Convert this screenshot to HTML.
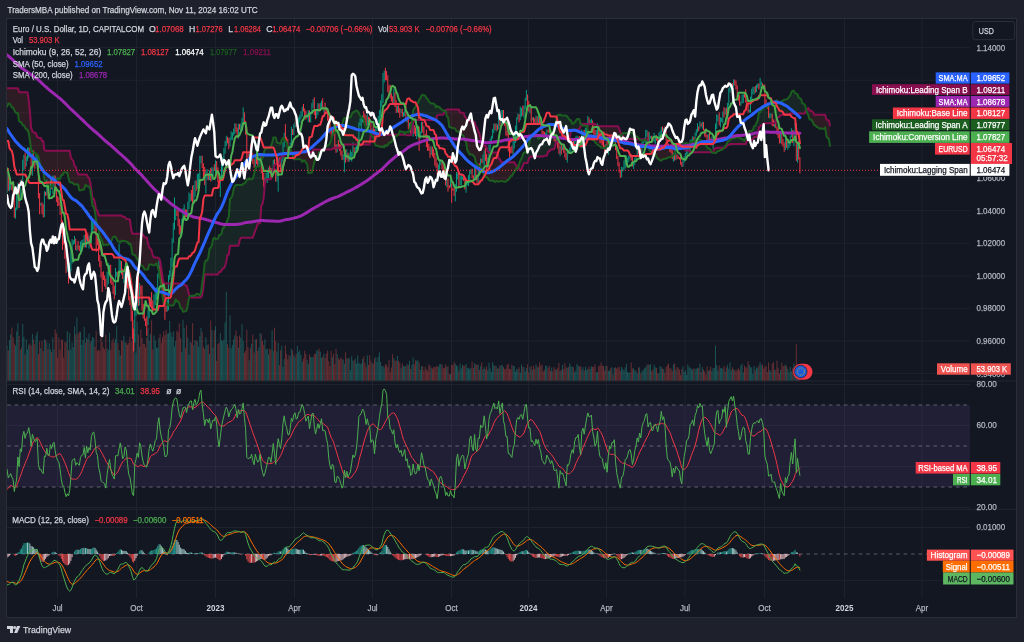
<!DOCTYPE html>
<html><head><meta charset="utf-8"><title>EURUSD chart</title>
<style>html,body{margin:0;padding:0;background:#1e212c;width:1024px;height:642px;overflow:hidden}svg{display:block}</style>
</head><body>
<svg width="1024" height="642" viewBox="0 0 1024 642" font-family='"Liberation Sans", sans-serif'><rect x="0" y="0" width="1024" height="642" fill="#1e212c"/>
<rect x="6.5" y="18.5" width="1010" height="599" fill="#131722" stroke="#2a2e39" stroke-width="1"/>
<path d="M57.5 19V598 M136.5 19V598 M215.5 19V598 M294.5 19V598 M372.5 19V598 M451.5 19V598 M528.5 19V598 M606.5 19V598 M685.0 19V598 M764.5 19V598 M844.5 19V598 M922.0 19V598 M7 47.60H970 M7 80.20H970 M7 112.80H970 M7 145.40H970 M7 178.00H970 M7 210.60H970 M7 243.20H970 M7 275.80H970 M7 308.40H970 M7 341.00H970 M7 373.60H970 M7 384.50H970 M7 425.50H970 M7 466.50H970 M7 507.50H970 M7 527.50H970 M7 580.50H970" stroke="#1e222d" stroke-width="1" fill="none"/>
<path d="M7 381H1016M7 509.3H1016" stroke="#22262f" stroke-width="1"/>
<rect x="7" y="405.0" width="963" height="82.0" fill="#7e57c2" fill-opacity="0.125"/>
<path d="M7.2 405.0H970M7.2 446.0H970M7.2 487.0H970" stroke="#787b86" stroke-opacity="0.75" stroke-dasharray="3.6 3.87" stroke-width="1"/>
<path d="M7.2 554.0H970" stroke="#787b86" stroke-opacity="0.7" stroke-dasharray="3.6 3.87" stroke-width="1"/>
<defs><clipPath id="cpm"><rect x="7" y="19" width="963" height="362"/></clipPath><clipPath id="cpr"><rect x="7" y="382" width="963" height="127"/></clipPath><clipPath id="cpc"><rect x="7" y="510" width="963" height="85"/></clipPath></defs>
<g clip-path="url(#cpm)">
<path d="M7.0 380.6V345.5M9.5 380.6V340.4M10.7 380.6V334.2M15.5 380.6V345.6M16.7 380.6V331.4M17.9 380.6V323.2M20.3 380.6V349.9M22.7 380.6V323.8M23.9 380.6V336.8M26.3 380.6V339.5M27.5 380.6V349.5M28.7 380.6V344.6M32.4 380.6V333.9M36.0 380.6V335.4M37.2 380.6V331.6M40.8 380.6V348.2M44.4 380.6V339.2M46.8 380.6V342.3M49.2 380.6V343.2M50.4 380.6V349.5M52.8 380.6V337.7M54.0 380.6V349.7M67.3 380.6V331.2M69.7 380.6V333.1M70.9 380.6V349.6M72.1 380.6V342.6M73.3 380.6V347.2M74.5 380.6V326.5M76.9 380.6V317.5M80.5 380.6V331.8M81.8 380.6V344.9M83.0 380.6V340.0M84.2 380.6V327.0M86.6 380.6V337.5M89.0 380.6V333.6M91.4 380.6V340.5M92.6 380.6V336.9M93.8 380.6V338.1M107.1 380.6V348.4M108.3 380.6V350.4M109.5 380.6V332.9M115.5 380.6V338.9M116.7 380.6V325.9M119.1 380.6V350.0M120.3 380.6V355.4M123.9 380.6V335.7M125.1 380.6V342.5M134.8 380.6V333.5M136.0 380.6V352.8M137.2 380.6V321.8M139.6 380.6V346.8M148.0 380.6V328.0M149.2 380.6V341.0M150.4 380.6V334.1M154.0 380.6V335.6M155.3 380.6V340.9M156.5 380.6V347.9M157.7 380.6V347.6M158.9 380.6V338.1M167.3 380.6V333.7M168.5 380.6V333.4M169.7 380.6V320.9M170.9 380.6V332.2M172.1 380.6V336.8M173.3 380.6V331.3M174.5 380.6V346.6M175.7 380.6V341.2M181.8 380.6V351.7M183.0 380.6V319.8M184.2 380.6V327.8M187.8 380.6V337.7M189.0 380.6V355.0M190.2 380.6V341.9M193.8 380.6V345.4M195.0 380.6V340.4M197.4 380.6V341.6M198.6 380.6V346.6M199.8 380.6V335.9M201.0 380.6V328.0M205.9 380.6V337.2M207.1 380.6V344.9M209.5 380.6V354.0M211.9 380.6V330.1M213.1 380.6V347.6M215.5 380.6V326.4M220.3 380.6V333.1M221.5 380.6V340.2M222.7 380.6V341.2M223.9 380.6V339.7M225.1 380.6V322.4M226.3 380.6V291.6M230.0 380.6V315.2M231.2 380.6V348.4M232.4 380.6V344.8M233.6 380.6V339.3M234.8 380.6V335.4M238.4 380.6V347.7M240.8 380.6V338.0M242.0 380.6V324.1M243.2 380.6V341.2M249.2 380.6V360.4M251.6 380.6V343.7M255.3 380.6V339.6M258.9 380.6V347.4M260.1 380.6V333.1M264.9 380.6V339.4M266.1 380.6V348.9M267.3 380.6V348.8M268.5 380.6V354.5M272.1 380.6V330.3M273.3 380.6V350.8M276.9 380.6V351.5M278.2 380.6V342.7M281.8 380.6V345.7M283.0 380.6V366.8M284.2 380.6V359.1M290.2 380.6V356.3M291.4 380.6V348.8M293.8 380.6V355.1M295.0 380.6V357.5M297.4 380.6V345.9M298.6 380.6V351.8M299.8 380.6V350.2M301.0 380.6V355.0M302.3 380.6V361.7M307.1 380.6V359.9M308.3 380.6V364.0M310.7 380.6V357.0M311.9 380.6V357.1M313.1 380.6V357.1M316.7 380.6V350.4M317.9 380.6V350.7M320.3 380.6V351.7M321.5 380.6V358.0M323.9 380.6V353.8M332.4 380.6V357.1M337.2 380.6V353.9M343.2 380.6V359.5M344.4 380.6V363.7M346.8 380.6V358.6M349.2 380.6V358.2M350.4 380.6V370.1M351.7 380.6V356.3M352.9 380.6V360.5M355.3 380.6V358.8M356.5 380.6V363.8M357.7 380.6V355.4M358.9 380.6V362.7M360.1 380.6V363.7M361.3 380.6V363.6M362.5 380.6V359.0M367.3 380.6V355.3M372.1 380.6V363.6M375.8 380.6V356.9M377.0 380.6V361.8M378.2 380.6V356.9M379.4 380.6V352.2M380.6 380.6V362.1M381.8 380.6V366.2M383.0 380.6V365.9M384.2 380.6V367.4M393.8 380.6V358.2M397.4 380.6V355.8M401.1 380.6V367.8M403.5 380.6V366.1M404.7 380.6V366.1M407.1 380.6V363.9M409.5 380.6V360.8M411.9 380.6V364.8M413.1 380.6V357.6M416.7 380.6V360.7M417.9 380.6V360.2M420.3 380.6V369.7M421.5 380.6V366.0M431.2 380.6V367.7M438.4 380.6V367.0M439.6 380.6V364.4M440.8 380.6V364.0M446.8 380.6V366.5M450.5 380.6V374.0M455.3 380.6V363.9M456.5 380.6V365.5M457.7 380.6V366.2M460.1 380.6V363.6M461.3 380.6V368.3M462.5 380.6V364.8M466.1 380.6V363.8M467.3 380.6V368.1M468.5 380.6V367.8M469.7 380.6V369.3M470.9 380.6V367.9M474.6 380.6V363.2M478.2 380.6V364.5M480.6 380.6V365.9M483.0 380.6V369.2M484.2 380.6V367.3M487.8 380.6V370.4M489.0 380.6V362.6M490.2 380.6V368.4M491.4 380.6V371.9M492.6 380.6V362.2M493.8 380.6V364.7M496.2 380.6V366.0M498.7 380.6V368.3M501.1 380.6V365.1M502.3 380.6V365.1M513.1 380.6V366.0M514.3 380.6V366.1M515.5 380.6V371.6M516.7 380.6V369.0M517.9 380.6V369.4M520.3 380.6V372.7M521.5 380.6V364.5M524.0 380.6V366.8M525.2 380.6V371.3M526.4 380.6V368.1M530.0 380.6V367.2M532.4 380.6V369.9M536.0 380.6V364.6M538.4 380.6V367.4M545.6 380.6V365.7M546.8 380.6V365.5M551.7 380.6V367.4M556.5 380.6V369.8M560.1 380.6V370.8M562.5 380.6V365.0M567.3 380.6V367.7M569.7 380.6V363.2M570.9 380.6V366.2M572.2 380.6V366.6M574.6 380.6V372.3M575.8 380.6V370.5M577.0 380.6V363.9M578.2 380.6V365.7M581.8 380.6V369.5M583.0 380.6V367.1M585.4 380.6V366.9M586.6 380.6V370.0M587.8 380.6V368.6M590.2 380.6V368.9M591.4 380.6V366.2M596.3 380.6V372.1M597.5 380.6V372.4M605.9 380.6V365.9M608.3 380.6V370.9M609.5 380.6V370.5M611.9 380.6V367.2M614.3 380.6V367.8M621.6 380.6V366.8M622.8 380.6V368.7M624.0 380.6V370.6M625.2 380.6V367.4M626.4 380.6V363.9M627.6 380.6V372.0M628.8 380.6V372.6M630.0 380.6V372.6M633.6 380.6V368.2M634.8 380.6V370.2M636.0 380.6V370.6M637.2 380.6V373.6M639.6 380.6V367.3M642.0 380.6V370.9M643.2 380.6V370.1M644.4 380.6V368.1M645.7 380.6V367.3M646.9 380.6V364.9M649.3 380.6V365.0M650.5 380.6V364.3M654.1 380.6V364.8M655.3 380.6V367.2M658.9 380.6V373.2M660.1 380.6V366.0M661.3 380.6V367.1M663.7 380.6V369.1M673.4 380.6V364.6M675.8 380.6V369.7M683.0 380.6V366.3M684.2 380.6V372.0M685.4 380.6V370.3M686.6 380.6V374.9M687.8 380.6V364.4M689.0 380.6V366.6M690.2 380.6V367.9M691.4 380.6V368.7M692.6 380.6V369.8M695.1 380.6V368.9M696.3 380.6V368.7M697.5 380.6V368.1M699.9 380.6V363.7M702.3 380.6V367.3M708.3 380.6V370.7M711.9 380.6V371.0M713.1 380.6V368.0M714.3 380.6V368.2M715.5 380.6V345.6M716.7 380.6V365.2M717.9 380.6V370.4M720.4 380.6V368.3M721.6 380.6V367.7M722.8 380.6V368.6M725.2 380.6V371.4M727.6 380.6V364.8M728.8 380.6V368.8M730.0 380.6V362.4M731.2 380.6V370.1M733.6 380.6V369.4M740.8 380.6V365.6M742.0 380.6V363.8M743.3 380.6V372.3M749.3 380.6V364.7M750.5 380.6V367.1M751.7 380.6V367.5M752.9 380.6V374.0M754.1 380.6V365.9M756.5 380.6V367.5M757.7 380.6V367.7M760.1 380.6V362.4M761.3 380.6V365.3M769.8 380.6V370.0M771.0 380.6V371.5M774.6 380.6V369.9M780.6 380.6V369.7M785.4 380.6V364.6M787.8 380.6V368.9M789.0 380.6V372.4M790.2 380.6V366.8M791.4 380.6V371.1M793.9 380.6V363.1M795.1 380.6V366.5M797.5 380.6V367.8" stroke="#26a69a" stroke-opacity="0.6" stroke-width="0.7" fill="none"/>
<path d="M8.3 380.6V350.4M11.9 380.6V327.6M13.1 380.6V337.2M14.3 380.6V343.4M19.1 380.6V335.9M21.5 380.6V347.4M25.1 380.6V354.7M29.9 380.6V343.3M31.1 380.6V345.5M33.6 380.6V339.6M34.8 380.6V344.4M38.4 380.6V354.2M39.6 380.6V341.6M42.0 380.6V340.9M43.2 380.6V351.1M45.6 380.6V339.8M48.0 380.6V349.0M51.6 380.6V351.9M55.2 380.6V329.3M56.4 380.6V333.4M57.7 380.6V357.8M58.9 380.6V337.5M60.1 380.6V349.8M61.3 380.6V339.7M62.5 380.6V339.5M63.7 380.6V357.7M64.9 380.6V342.0M66.1 380.6V342.1M68.5 380.6V350.4M75.7 380.6V334.4M78.1 380.6V333.7M79.3 380.6V331.8M85.4 380.6V342.9M87.8 380.6V339.4M90.2 380.6V342.5M95.0 380.6V346.9M96.2 380.6V330.8M97.4 380.6V350.8M98.6 380.6V349.9M99.8 380.6V350.6M101.0 380.6V329.9M102.2 380.6V342.1M103.4 380.6V347.7M104.6 380.6V349.2M105.8 380.6V334.8M110.7 380.6V349.6M111.9 380.6V341.5M113.1 380.6V338.5M114.3 380.6V342.6M117.9 380.6V343.2M121.5 380.6V340.2M122.7 380.6V341.5M126.3 380.6V342.6M127.5 380.6V344.8M128.7 380.6V342.9M129.9 380.6V336.5M131.2 380.6V341.6M132.4 380.6V337.1M133.6 380.6V320.2M138.4 380.6V334.7M140.8 380.6V329.5M142.0 380.6V337.8M143.2 380.6V343.8M144.4 380.6V343.9M145.6 380.6V347.3M146.8 380.6V337.5M151.6 380.6V320.4M152.8 380.6V349.4M160.1 380.6V333.9M161.3 380.6V343.0M162.5 380.6V337.5M163.7 380.6V331.2M164.9 380.6V335.2M166.1 380.6V329.9M176.9 380.6V330.6M178.1 380.6V332.1M179.3 380.6V323.5M180.6 380.6V337.9M185.4 380.6V347.9M186.6 380.6V325.1M191.4 380.6V342.8M192.6 380.6V323.1M196.2 380.6V340.6M202.2 380.6V332.3M203.4 380.6V346.8M204.7 380.6V348.9M208.3 380.6V344.3M210.7 380.6V320.5M214.3 380.6V330.3M216.7 380.6V360.8M217.9 380.6V343.9M219.1 380.6V342.5M227.5 380.6V344.1M228.8 380.6V347.8M236.0 380.6V330.6M237.2 380.6V336.4M239.6 380.6V335.5M244.4 380.6V352.9M245.6 380.6V350.7M246.8 380.6V329.9M248.0 380.6V347.1M250.4 380.6V348.1M252.8 380.6V334.5M254.1 380.6V352.5M256.5 380.6V339.1M257.7 380.6V351.0M261.3 380.6V334.0M262.5 380.6V340.8M263.7 380.6V344.9M269.7 380.6V348.6M270.9 380.6V349.5M274.5 380.6V327.6M275.7 380.6V341.0M279.4 380.6V365.0M280.6 380.6V350.4M285.4 380.6V345.4M286.6 380.6V353.9M287.8 380.6V359.3M289.0 380.6V355.1M292.6 380.6V350.5M296.2 380.6V353.9M303.5 380.6V358.5M304.7 380.6V350.7M305.9 380.6V354.0M309.5 380.6V354.3M314.3 380.6V353.9M315.5 380.6V353.9M319.1 380.6V348.7M322.7 380.6V356.6M325.1 380.6V358.2M326.3 380.6V353.7M327.6 380.6V350.7M328.8 380.6V361.1M330.0 380.6V366.2M331.2 380.6V350.9M333.6 380.6V353.7M334.8 380.6V364.2M336.0 380.6V348.7M338.4 380.6V358.3M339.6 380.6V359.6M340.8 380.6V357.3M342.0 380.6V358.8M345.6 380.6V352.1M348.0 380.6V358.1M354.1 380.6V360.4M363.7 380.6V356.4M364.9 380.6V362.6M366.1 380.6V366.9M368.5 380.6V365.0M369.7 380.6V355.0M370.9 380.6V360.7M373.3 380.6V363.4M374.5 380.6V358.7M385.4 380.6V364.3M386.6 380.6V364.7M387.8 380.6V367.3M389.0 380.6V359.7M390.2 380.6V372.2M391.4 380.6V367.5M392.6 380.6V354.1M395.0 380.6V360.4M396.2 380.6V360.8M398.6 380.6V360.8M399.8 380.6V362.7M402.3 380.6V363.5M405.9 380.6V366.3M408.3 380.6V365.0M410.7 380.6V368.9M414.3 380.6V364.3M415.5 380.6V360.3M419.1 380.6V362.4M422.7 380.6V366.4M423.9 380.6V370.4M425.2 380.6V366.7M426.4 380.6V369.4M427.6 380.6V370.9M428.8 380.6V364.6M430.0 380.6V365.5M432.4 380.6V368.6M433.6 380.6V367.3M434.8 380.6V366.8M436.0 380.6V366.9M437.2 380.6V365.7M442.0 380.6V364.6M443.2 380.6V367.9M444.4 380.6V367.8M445.6 380.6V364.4M448.0 380.6V366.1M449.3 380.6V374.0M451.7 380.6V365.0M452.9 380.6V365.0M454.1 380.6V361.7M458.9 380.6V370.8M463.7 380.6V365.8M464.9 380.6V365.7M472.1 380.6V361.7M473.3 380.6V367.9M475.8 380.6V364.4M477.0 380.6V364.7M479.4 380.6V370.0M481.8 380.6V362.3M485.4 380.6V369.2M486.6 380.6V366.3M495.0 380.6V366.0M497.4 380.6V368.6M499.9 380.6V365.6M503.5 380.6V367.2M504.7 380.6V369.1M505.9 380.6V368.4M507.1 380.6V364.8M508.3 380.6V363.9M509.5 380.6V368.9M510.7 380.6V369.3M511.9 380.6V364.5M519.1 380.6V367.4M522.8 380.6V367.2M527.6 380.6V364.3M528.8 380.6V372.4M531.2 380.6V366.1M533.6 380.6V365.7M534.8 380.6V368.9M537.2 380.6V366.5M539.6 380.6V362.4M540.8 380.6V365.7M542.0 380.6V364.4M543.2 380.6V371.3M544.4 380.6V369.8M548.1 380.6V368.2M549.3 380.6V365.8M550.5 380.6V370.9M552.9 380.6V371.2M554.1 380.6V367.1M555.3 380.6V369.3M557.7 380.6V367.8M558.9 380.6V363.0M561.3 380.6V369.7M563.7 380.6V369.2M564.9 380.6V363.1M566.1 380.6V367.4M568.5 380.6V367.0M573.4 380.6V367.3M579.4 380.6V366.6M580.6 380.6V366.2M584.2 380.6V370.5M589.0 380.6V366.7M592.6 380.6V366.7M593.8 380.6V367.0M595.0 380.6V364.3M598.7 380.6V366.3M599.9 380.6V365.4M601.1 380.6V362.4M602.3 380.6V365.9M603.5 380.6V365.7M604.7 380.6V370.4M607.1 380.6V366.1M610.7 380.6V368.3M613.1 380.6V374.9M615.5 380.6V367.4M616.7 380.6V368.5M617.9 380.6V367.3M619.1 380.6V366.7M620.3 380.6V370.8M631.2 380.6V362.5M632.4 380.6V368.7M638.4 380.6V367.5M640.8 380.6V373.5M648.1 380.6V364.2M651.7 380.6V371.2M652.9 380.6V369.5M656.5 380.6V367.9M657.7 380.6V373.5M662.5 380.6V368.8M664.9 380.6V372.8M666.1 380.6V367.0M667.3 380.6V365.1M668.5 380.6V363.4M669.8 380.6V367.9M671.0 380.6V368.6M672.2 380.6V371.0M674.6 380.6V363.3M677.0 380.6V367.2M678.2 380.6V367.7M679.4 380.6V369.6M680.6 380.6V374.9M681.8 380.6V369.0M693.8 380.6V368.2M698.7 380.6V367.7M701.1 380.6V372.0M703.5 380.6V369.7M704.7 380.6V371.2M705.9 380.6V374.6M707.1 380.6V366.3M709.5 380.6V370.1M710.7 380.6V366.7M719.2 380.6V365.5M724.0 380.6V365.9M726.4 380.6V367.3M732.4 380.6V367.4M734.8 380.6V369.7M736.0 380.6V371.1M737.2 380.6V369.5M738.4 380.6V368.2M739.6 380.6V370.3M744.5 380.6V365.7M745.7 380.6V367.5M746.9 380.6V367.4M748.1 380.6V361.2M755.3 380.6V370.1M758.9 380.6V365.3M762.5 380.6V364.5M763.7 380.6V368.7M764.9 380.6V366.7M766.1 380.6V365.9M767.3 380.6V372.0M768.6 380.6V362.3M772.2 380.6V363.5M773.4 380.6V362.1M775.8 380.6V369.7M777.0 380.6V360.4M778.2 380.6V367.7M779.4 380.6V373.5M781.8 380.6V362.5M783.0 380.6V366.2M784.2 380.6V365.9M786.6 380.6V366.1M792.7 380.6V368.2M796.3 380.6V344.1M798.7 380.6V366.0M799.9 380.6V365.4" stroke="#ef5350" stroke-opacity="0.55" stroke-width="0.7" fill="none"/>
<polygon points="190.2,296.1 191.4,296.1 192.6,296.1 193.8,295.3 195.0,295.8 196.2,294.1 197.4,294.1 198.6,294.1 199.8,295.4 201.0,292.8 202.2,283.0 203.4,275.3 204.7,262.6 205.9,260.6 207.1,260.5 208.3,257.6 209.5,248.6 210.7,247.8 211.9,245.3 213.1,239.4 214.3,237.5 215.5,239.2 216.7,239.2 217.9,238.5 219.1,235.0 220.3,235.0 221.5,233.8 222.7,228.4 223.9,227.6 225.1,225.4 226.3,223.3 227.5,219.9 228.8,216.6 230.0,198.8 231.2,198.1 232.4,195.6 233.6,189.4 234.8,186.0 236.0,185.1 237.2,185.1 238.4,185.1 239.6,185.1 240.8,185.1 242.0,185.1 243.2,183.8 244.4,183.6 245.6,182.6 246.8,179.5 248.0,179.8 249.2,178.3 250.4,179.3 251.6,179.3 252.8,178.6 254.1,174.1 255.3,169.0 256.5,166.4 257.7,166.4 258.9,166.4 260.1,166.4 261.3,160.0 262.5,158.1 263.7,153.6 264.9,149.4 266.1,148.2 267.3,148.2 268.5,148.2 269.7,147.6 270.9,146.0 272.1,143.2 273.3,137.6 274.5,137.6 275.7,137.6 276.9,142.6 278.2,143.0 279.4,143.3 280.6,143.7 281.8,139.4 283.0,137.8 284.2,138.8 285.4,140.9 286.6,142.4 287.8,148.3 289.0,148.3 290.2,148.3 291.4,151.1 292.6,154.9 292.6,152.2 291.4,152.2 290.2,152.2 289.0,152.2 287.8,152.2 286.6,152.2 285.4,155.3 284.2,155.7 283.0,155.7 281.8,155.7 280.6,158.2 279.4,163.9 278.2,163.9 276.9,163.9 275.7,163.9 274.5,165.0 273.3,171.3 272.1,176.6 270.9,179.3 269.7,179.3 268.5,179.3 267.3,179.3 266.1,179.3 264.9,183.1 263.7,197.7 262.5,204.0 261.3,205.6 260.1,223.0 258.9,223.6 257.7,223.8 256.5,227.8 255.3,230.4 254.1,234.0 252.8,237.8 251.6,237.8 250.4,237.8 249.2,237.8 248.0,237.8 246.8,237.8 245.6,237.8 244.4,237.8 243.2,237.8 242.0,237.8 240.8,237.8 239.6,240.5 238.4,245.8 237.2,245.8 236.0,245.8 234.8,245.8 233.6,245.8 232.4,245.8 231.2,245.8 230.0,245.8 228.8,254.7 227.5,254.8 226.3,261.5 225.1,266.0 223.9,268.2 222.7,268.5 221.5,270.7 220.3,272.0 219.1,272.0 217.9,274.4 216.7,274.4 215.5,274.4 214.3,274.4 213.1,274.4 211.9,274.4 210.7,274.4 209.5,274.4 208.3,274.4 207.1,274.4 205.9,274.4 204.7,274.4 203.4,287.1 202.2,294.8 201.0,297.5 199.8,297.5 198.6,297.5 197.4,297.5 196.2,297.5 195.0,297.5 193.8,297.5 192.6,297.5 191.4,297.5 190.2,295.7" fill="#43a047" fill-opacity="0.12"/>
<polygon points="322.7,150.4 323.9,148.6 325.1,147.6 326.3,145.8 327.6,145.8 328.8,144.6 330.0,143.3 331.2,139.6 332.4,135.1 333.6,133.7 334.8,132.1 336.0,132.1 337.2,132.1 338.4,131.7 339.6,125.2 340.8,125.2 342.0,124.6 343.2,120.7 344.4,117.9 345.6,117.9 346.8,117.9 348.0,117.9 349.2,117.4 350.4,117.4 351.7,114.5 352.9,112.2 354.1,112.2 355.3,110.8 356.5,110.5 357.7,111.2 358.9,113.3 360.1,115.6 361.3,117.8 362.5,117.8 363.7,118.9 364.9,124.7 366.1,127.6 367.3,127.8 368.5,129.3 369.7,131.2 370.9,134.2 370.9,133.8 369.7,144.5 368.5,144.5 367.3,144.5 366.1,144.5 364.9,144.5 363.7,144.5 362.5,144.5 361.3,144.5 360.1,144.5 358.9,144.5 357.7,144.5 356.5,144.5 355.3,144.5 354.1,144.5 352.9,144.5 351.7,144.5 350.4,144.5 349.2,144.5 348.0,144.5 346.8,144.5 345.6,144.5 344.4,144.5 343.2,145.5 342.0,147.3 340.8,147.8 339.6,147.8 338.4,147.8 337.2,147.8 336.0,147.8 334.8,147.8 333.6,147.8 332.4,149.2 331.2,149.6 330.0,149.6 328.8,149.6 327.6,149.6 326.3,149.6 325.1,149.6 323.9,149.6 322.7,149.6" fill="#43a047" fill-opacity="0.12"/>
<polygon points="397.4,135.3 398.6,134.1 399.8,130.8 401.1,131.7 402.3,131.8 403.5,131.8 404.7,134.2 405.9,131.9 407.1,131.7 408.3,132.2 409.5,130.5 410.7,125.5 411.9,122.5 413.1,110.5 414.3,108.4 415.5,106.9 416.7,104.3 417.9,103.0 419.1,100.1 420.3,98.3 421.5,95.6 422.7,94.8 423.9,95.3 425.2,95.7 426.4,98.0 427.6,99.0 428.8,101.4 430.0,102.6 431.2,103.5 432.4,103.5 433.6,103.5 434.8,104.5 436.0,107.4 437.2,105.9 438.4,107.1 439.6,107.1 440.8,109.3 442.0,109.4 443.2,110.8 444.4,110.8 445.6,110.8 445.6,110.1 444.4,111.9 443.2,114.7 442.0,114.7 440.8,114.8 439.6,114.8 438.4,114.8 437.2,115.3 436.0,120.1 434.8,120.1 433.6,120.1 432.4,120.1 431.2,120.1 430.0,120.1 428.8,120.1 427.6,120.1 426.4,120.1 425.2,120.1 423.9,120.1 422.7,120.1 421.5,120.1 420.3,120.1 419.1,120.1 417.9,120.1 416.7,120.1 415.5,120.1 414.3,121.5 413.1,122.6 411.9,133.2 410.7,135.2 409.5,135.2 408.3,135.2 407.1,135.2 405.9,134.8 404.7,134.8 403.5,134.8 402.3,134.8 401.1,134.8 399.8,134.8 398.6,134.8 397.4,134.8" fill="#43a047" fill-opacity="0.12"/>
<polygon points="517.9,168.1 519.1,164.1 520.3,160.5 521.5,158.5 522.8,155.0 524.0,152.4 525.2,152.3 526.4,152.2 527.6,150.2 528.8,144.8 530.0,139.7 531.2,136.7 532.4,135.7 533.6,134.4 534.8,134.0 536.0,135.0 537.2,135.2 538.4,138.9 539.6,137.9 540.8,137.4 542.0,136.8 543.2,136.8 544.4,139.4 545.6,139.5 546.8,138.7 548.1,137.4 549.3,136.0 550.5,131.5 551.7,131.5 552.9,131.1 554.1,129.4 555.3,124.1 556.5,118.2 557.7,115.0 558.9,115.0 560.1,114.5 561.3,115.6 562.5,115.6 563.7,115.6 564.9,115.6 566.1,115.6 567.3,116.7 568.5,118.3 569.7,120.0 570.9,120.3 572.2,123.6 573.4,123.8 574.6,122.3 575.8,121.0 577.0,119.1 578.2,119.1 579.4,119.3 580.6,124.3 581.8,124.7 581.8,123.9 580.6,126.3 579.4,129.1 578.2,129.7 577.0,129.7 575.8,129.7 574.6,129.7 573.4,129.7 572.2,131.0 570.9,132.0 569.7,137.2 568.5,137.2 567.3,137.2 566.1,137.2 564.9,137.2 563.7,137.2 562.5,137.2 561.3,137.2 560.1,138.0 558.9,138.0 557.7,141.4 556.5,141.4 555.3,145.3 554.1,149.2 552.9,149.3 551.7,149.6 550.5,149.6 549.3,151.4 548.1,151.4 546.8,155.7 545.6,155.7 544.4,155.7 543.2,156.4 542.0,156.4 540.8,156.4 539.6,156.4 538.4,156.4 537.2,156.4 536.0,156.4 534.8,156.4 533.6,156.4 532.4,156.4 531.2,156.4 530.0,157.0 528.8,159.1 527.6,163.0 526.4,163.0 525.2,163.1 524.0,163.2 522.8,165.8 521.5,169.3 520.3,170.7 519.1,169.0 517.9,166.2" fill="#43a047" fill-opacity="0.12"/>
<polygon points="621.6,135.6 622.8,133.3 624.0,133.3 625.2,133.2 626.4,133.1 627.6,133.1 628.8,131.4 630.0,132.9 631.2,132.8 632.4,132.8 633.6,134.4 634.8,136.5 636.0,136.5 637.2,136.6 638.4,137.9 639.6,139.5 639.6,139.2 638.4,139.2 637.2,139.2 636.0,139.2 634.8,139.2 633.6,139.2 632.4,139.2 631.2,138.9 630.0,138.9 628.8,138.9 627.6,138.9 626.4,138.9 625.2,138.9 624.0,138.9 622.8,135.0 621.6,135.0" fill="#43a047" fill-opacity="0.12"/>
<polygon points="680.6,147.9 681.8,147.8 683.0,144.2 684.2,143.4 685.4,143.1 686.6,143.1 687.8,143.5 689.0,143.7 690.2,143.4 691.4,141.7 692.6,141.4 693.8,141.4 695.1,140.4 696.3,139.2 697.5,139.3 698.7,139.2 699.9,139.9 701.1,140.0 702.3,142.7 703.5,144.1 704.7,144.1 705.9,144.6 707.1,147.2 708.3,148.4 709.5,148.6 710.7,150.1 711.9,152.6 711.9,152.2 710.7,152.2 709.5,152.2 708.3,152.2 707.1,152.2 705.9,152.2 704.7,152.2 703.5,152.2 702.3,152.2 701.1,152.2 699.9,152.2 698.7,152.2 697.5,152.2 696.3,152.2 695.1,152.2 693.8,152.2 692.6,152.2 691.4,152.5 690.2,151.7 689.0,150.6 687.8,150.6 686.6,150.6 685.4,150.6 684.2,149.2 683.0,148.3 681.8,148.3 680.6,147.7" fill="#43a047" fill-opacity="0.12"/>
<polygon points="724.0,148.1 725.2,146.1 726.4,144.9 727.6,141.9 728.8,141.0 730.0,140.0 731.2,138.7 732.4,138.3 733.6,138.3 734.8,138.3 736.0,136.8 737.2,137.5 738.4,137.6 739.6,137.9 740.8,138.8 742.0,138.8 743.3,139.8 744.5,140.6 745.7,138.1 746.9,133.1 748.1,132.9 749.3,131.1 750.5,131.1 751.7,130.7 752.9,130.3 754.1,126.2 755.3,126.0 756.5,123.0 757.7,120.5 758.9,113.1 760.1,112.2 761.3,109.9 762.5,109.7 763.7,107.0 764.9,107.0 766.1,107.0 767.3,106.8 768.6,103.6 769.8,103.4 771.0,103.5 772.2,103.5 773.4,103.5 774.6,101.7 775.8,101.8 777.0,100.2 778.2,102.2 779.4,102.2 780.6,102.2 781.8,101.1 783.0,100.6 784.2,99.7 785.4,99.5 786.6,99.2 787.8,98.8 789.0,97.0 790.2,95.3 791.4,92.4 792.7,90.7 793.9,90.7 795.1,93.3 796.3,93.6 797.5,94.3 798.7,97.9 799.9,98.2 801.1,99.1 802.3,103.4 803.5,103.8 804.7,104.3 805.9,108.5 807.1,113.1 807.1,109.5 805.9,109.9 804.7,113.5 803.5,113.5 802.3,113.5 801.1,113.5 799.9,113.5 798.7,113.5 797.5,113.5 796.3,113.5 795.1,113.5 793.9,113.5 792.7,113.5 791.4,113.5 790.2,113.5 789.0,114.2 787.8,114.2 786.6,114.2 785.4,114.2 784.2,114.2 783.0,114.2 781.8,115.1 780.6,115.1 779.4,116.9 778.2,117.2 777.0,119.1 775.8,121.1 774.6,123.2 773.4,123.2 772.2,123.2 771.0,123.2 769.8,123.2 768.6,123.2 767.3,123.2 766.1,123.2 764.9,123.2 763.7,123.2 762.5,125.0 761.3,125.3 760.1,126.6 758.9,127.5 757.7,134.9 756.5,137.0 755.3,137.0 754.1,137.0 752.9,139.3 751.7,139.7 750.5,139.7 749.3,139.7 748.1,140.6 746.9,140.6 745.7,144.1 744.5,144.1 743.3,144.1 742.0,144.1 740.8,144.1 739.6,144.1 738.4,144.1 737.2,144.1 736.0,144.1 734.8,144.1 733.6,144.1 732.4,144.1 731.2,144.1 730.0,144.1 728.8,145.1 727.6,145.1 726.4,146.7 725.2,147.7 724.0,147.7" fill="#43a047" fill-opacity="0.12"/>
<polygon points="7.0,106.5 8.3,103.6 9.5,103.6 10.7,105.1 11.9,107.6 13.1,107.6 14.3,110.0 15.5,112.4 16.7,113.3 17.9,113.0 19.1,121.1 20.3,122.0 21.5,122.6 22.7,125.2 23.9,125.5 25.1,127.6 26.3,129.4 27.5,129.5 28.7,132.9 29.9,140.2 31.1,149.5 32.4,152.8 33.6,152.8 34.8,152.8 36.0,154.0 37.2,154.6 38.4,156.5 39.6,162.5 40.8,166.7 42.0,167.3 43.2,169.1 44.4,179.5 45.6,182.0 46.8,183.8 48.0,183.9 49.2,187.3 50.4,186.9 51.6,186.8 52.8,181.9 54.0,180.7 55.2,180.1 56.4,179.1 57.7,178.1 58.9,179.8 60.1,178.7 61.3,175.1 62.5,175.1 63.7,172.4 64.9,172.4 66.1,172.4 67.3,172.4 68.5,178.0 69.7,182.0 70.9,182.6 72.1,182.6 73.3,183.6 74.5,184.5 75.7,184.5 76.9,184.3 78.1,184.4 79.3,190.4 80.5,190.2 81.8,190.2 83.0,189.4 84.2,189.4 85.4,184.7 86.6,185.6 87.8,186.6 89.0,186.6 90.2,188.8 91.4,198.0 92.6,206.3 93.8,206.5 95.0,212.0 96.2,221.9 97.4,224.4 98.6,230.0 99.8,236.1 101.0,238.6 102.2,240.8 103.4,245.5 104.6,244.7 105.8,244.7 107.1,244.7 108.3,244.7 109.5,242.2 110.7,241.5 111.9,239.7 113.1,236.9 114.3,236.6 115.5,236.5 116.7,239.3 117.9,241.2 119.1,241.6 120.3,242.6 121.5,240.6 122.7,241.0 123.9,241.0 125.1,241.0 126.3,241.8 127.5,241.8 128.7,244.1 129.9,243.2 131.2,246.7 132.4,254.4 133.6,254.8 134.8,254.8 136.0,256.8 137.2,259.4 138.4,259.9 139.6,263.7 140.8,265.1 142.0,265.7 143.2,266.7 144.4,269.4 145.6,269.4 146.8,269.4 148.0,269.4 149.2,264.5 150.4,264.5 151.6,264.5 152.8,265.1 154.0,265.5 155.3,264.4 156.5,263.3 157.7,267.3 158.9,271.0 160.1,278.6 161.3,286.8 162.5,297.1 163.7,303.5 164.9,303.5 166.1,303.5 167.3,303.7 168.5,305.5 169.7,305.5 170.9,305.5 172.1,305.5 173.3,305.5 174.5,303.3 175.7,299.2 176.9,301.6 178.1,301.6 179.3,303.4 180.6,308.3 181.8,308.4 183.0,311.7 184.2,311.7 185.4,311.2 186.6,310.6 187.8,304.6 189.0,297.6 190.2,296.1 191.4,296.1 191.4,297.5 190.2,295.7 189.0,294.7 187.8,289.5 186.6,285.5 185.4,285.5 184.2,284.7 183.0,283.6 181.8,283.6 180.6,283.6 179.3,283.6 178.1,283.6 176.9,283.6 175.7,283.6 174.5,283.6 173.3,283.6 172.1,283.6 170.9,283.6 169.7,283.6 168.5,283.6 167.3,283.6 166.1,283.6 164.9,283.6 163.7,283.6 162.5,277.2 161.3,268.5 160.1,260.5 158.9,258.1 157.7,257.6 156.5,257.6 155.3,257.6 154.0,257.6 152.8,255.5 151.6,250.6 150.4,248.4 149.2,247.7 148.0,243.1 146.8,237.5 145.6,237.5 144.4,237.5 143.2,234.8 142.0,233.7 140.8,233.7 139.6,233.7 138.4,233.7 137.2,233.7 136.0,233.7 134.8,233.7 133.6,233.7 132.4,233.7 131.2,229.6 129.9,219.5 128.7,219.4 127.5,219.0 126.3,219.0 125.1,217.2 123.9,216.7 122.7,216.7 121.5,215.6 120.3,215.6 119.1,215.6 117.9,215.6 116.7,215.6 115.5,215.6 114.3,215.6 113.1,215.6 111.9,215.6 110.7,215.6 109.5,215.6 108.3,215.6 107.1,215.6 105.8,215.6 104.6,215.6 103.4,215.6 102.2,215.6 101.0,215.6 99.8,215.6 98.6,215.6 97.4,210.4 96.2,210.4 95.0,203.2 93.8,198.7 92.6,198.7 91.4,190.4 90.2,181.9 89.0,178.1 87.8,176.8 86.6,174.5 85.4,174.5 84.2,174.5 83.0,174.5 81.8,174.5 80.5,174.5 79.3,174.5 78.1,174.4 76.9,170.8 75.7,166.7 74.5,166.1 73.3,160.9 72.1,159.6 70.9,157.9 69.7,150.7 68.5,150.7 67.3,150.7 66.1,150.7 64.9,150.7 63.7,150.7 62.5,150.7 61.3,150.7 60.1,150.7 58.9,150.7 57.7,150.7 56.4,150.7 55.2,150.7 54.0,150.7 52.8,150.7 51.6,150.7 50.4,150.7 49.2,150.7 48.0,150.7 46.8,150.7 45.6,150.7 44.4,150.1 43.2,140.9 42.0,140.9 40.8,138.0 39.6,138.0 38.4,137.5 37.2,137.1 36.0,133.4 34.8,132.6 33.6,132.3 32.4,131.2 31.1,127.7 29.9,111.5 28.7,100.2 27.5,92.3 26.3,92.3 25.1,92.3 23.9,92.3 22.7,92.3 21.5,92.3 20.3,92.3 19.1,92.3 17.9,88.3 16.7,88.3 15.5,88.3 14.3,88.3 13.1,88.3 11.9,88.3 10.7,88.3 9.5,88.3 8.3,88.3 7.0,88.3" fill="#f44336" fill-opacity="0.12"/>
<polygon points="291.4,151.1 292.6,154.9 293.8,159.2 295.0,159.2 296.2,159.2 297.4,159.2 298.6,159.2 299.8,159.2 301.0,159.6 302.3,161.9 303.5,160.5 304.7,160.5 305.9,162.6 307.1,164.1 308.3,173.1 309.5,172.8 310.7,172.8 311.9,172.8 313.1,167.1 314.3,162.2 315.5,158.0 316.7,158.0 317.9,158.0 319.1,152.6 320.3,152.6 321.5,152.5 322.7,150.4 323.9,148.6 323.9,149.6 322.7,149.6 321.5,149.6 320.3,149.6 319.1,149.6 317.9,149.6 316.7,149.6 315.5,149.6 314.3,149.6 313.1,149.6 311.9,152.2 310.7,152.2 309.5,152.2 308.3,152.2 307.1,152.2 305.9,152.2 304.7,152.2 303.5,152.2 302.3,152.2 301.0,152.2 299.8,152.2 298.6,152.2 297.4,152.2 296.2,152.2 295.0,152.2 293.8,152.2 292.6,152.2 291.4,152.2" fill="#f44336" fill-opacity="0.12"/>
<polygon points="369.7,131.2 370.9,134.2 372.1,136.5 373.3,136.7 374.5,142.9 375.8,145.7 377.0,145.7 378.2,145.7 379.4,146.7 380.6,146.8 381.8,147.0 383.0,146.3 384.2,147.4 385.4,145.0 386.6,146.0 387.8,145.0 389.0,142.6 390.2,142.5 391.4,142.2 392.6,139.8 393.8,136.6 395.0,136.5 396.2,136.1 397.4,135.3 398.6,134.1 398.6,134.8 397.4,134.8 396.2,134.8 395.0,134.8 393.8,134.8 392.6,134.8 391.4,134.8 390.2,134.8 389.0,134.8 387.8,134.8 386.6,134.8 385.4,134.8 384.2,134.8 383.0,134.8 381.8,134.8 380.6,134.8 379.4,134.8 378.2,134.8 377.0,134.8 375.8,134.8 374.5,134.8 373.3,133.6 372.1,133.8 370.9,133.8 369.7,144.5" fill="#f44336" fill-opacity="0.12"/>
<polygon points="444.4,110.8 445.6,110.8 446.8,116.2 448.0,117.2 449.3,127.1 450.5,127.1 451.7,128.0 452.9,128.0 454.1,128.0 455.3,129.0 456.5,131.0 457.7,131.5 458.9,131.5 460.1,134.9 461.3,134.9 462.5,134.9 463.7,136.2 464.9,140.8 466.1,141.9 467.3,150.1 468.5,152.2 469.7,154.4 470.9,154.4 472.1,154.6 473.3,155.7 474.6,156.7 475.8,162.5 477.0,163.9 478.2,166.1 479.4,166.1 480.6,166.1 481.8,171.9 483.0,172.3 484.2,175.2 485.4,177.0 486.6,176.8 487.8,178.2 489.0,180.1 490.2,180.7 491.4,180.7 492.6,180.5 493.8,181.0 495.0,182.0 496.2,181.0 497.4,181.5 498.7,181.5 499.9,181.4 501.1,181.1 502.3,181.1 503.5,181.5 504.7,181.7 505.9,181.7 507.1,180.0 508.3,180.0 509.5,178.4 510.7,175.9 511.9,175.9 513.1,173.7 514.3,171.7 515.5,170.2 516.7,168.1 517.9,168.1 519.1,164.1 519.1,169.0 517.9,166.2 516.7,166.2 515.5,164.5 514.3,162.3 513.1,162.3 511.9,162.3 510.7,162.3 509.5,162.3 508.3,162.3 507.1,162.3 505.9,162.3 504.7,162.3 503.5,162.3 502.3,162.3 501.1,162.3 499.9,159.1 498.7,159.1 497.4,152.5 496.2,152.5 495.0,152.5 493.8,152.5 492.6,152.5 491.4,152.5 490.2,152.5 489.0,152.5 487.8,151.5 486.6,147.7 485.4,145.6 484.2,145.6 483.0,145.6 481.8,143.7 480.6,138.1 479.4,133.5 478.2,131.3 477.0,127.5 475.8,126.6 474.6,121.9 473.3,121.9 472.1,121.3 470.9,121.3 469.7,121.3 468.5,121.3 467.3,121.3 466.1,117.8 464.9,116.7 463.7,113.0 462.5,112.8 461.3,112.8 460.1,112.8 458.9,109.4 457.7,109.4 456.5,109.4 455.3,109.4 454.1,109.4 452.9,109.4 451.7,109.4 450.5,109.4 449.3,109.4 448.0,109.2 446.8,109.9 445.6,110.1 444.4,111.9" fill="#f44336" fill-opacity="0.12"/>
<polygon points="580.6,124.3 581.8,124.7 583.0,125.8 584.2,125.8 585.4,125.8 586.6,125.8 587.8,129.8 589.0,134.1 590.2,137.3 591.4,138.0 592.6,140.1 593.8,140.1 595.0,142.2 596.3,143.4 597.5,144.6 598.7,145.6 599.9,146.0 601.1,147.6 602.3,147.5 603.5,148.1 604.7,147.7 605.9,147.2 607.1,147.0 608.3,144.9 609.5,144.9 610.7,145.1 611.9,142.6 613.1,142.6 614.3,142.6 615.5,141.5 616.7,139.0 617.9,135.6 619.1,135.6 620.3,135.6 621.6,135.6 622.8,133.3 622.8,135.0 621.6,135.0 620.3,131.8 619.1,128.5 617.9,126.2 616.7,126.2 615.5,126.2 614.3,126.2 613.1,126.2 611.9,126.2 610.7,126.2 609.5,126.2 608.3,126.2 607.1,126.2 605.9,126.2 604.7,126.2 603.5,126.2 602.3,126.2 601.1,126.2 599.9,126.2 598.7,126.2 597.5,126.2 596.3,125.0 595.0,123.9 593.8,123.9 592.6,123.9 591.4,123.9 590.2,123.9 589.0,123.9 587.8,123.9 586.6,123.9 585.4,123.9 584.2,123.9 583.0,123.9 581.8,123.9 580.6,126.3" fill="#f44336" fill-opacity="0.12"/>
<polygon points="638.4,137.9 639.6,139.5 640.8,140.3 642.0,140.5 643.2,140.5 644.4,140.2 645.7,140.1 646.9,142.1 648.1,145.6 649.3,149.3 650.5,152.2 651.7,152.2 652.9,152.7 654.1,153.4 655.3,153.4 656.5,156.8 657.7,158.7 658.9,159.2 660.1,160.3 661.3,160.8 662.5,159.3 663.7,159.0 664.9,158.7 666.1,158.7 667.3,157.7 668.5,157.5 669.8,157.3 671.0,156.8 672.2,155.8 673.4,155.2 674.6,153.7 675.8,149.7 677.0,148.6 678.2,148.1 679.4,148.1 680.6,147.9 681.8,147.8 681.8,148.3 680.6,147.7 679.4,146.9 678.2,146.9 677.0,146.9 675.8,146.9 674.6,146.9 673.4,146.9 672.2,146.9 671.0,146.9 669.8,146.9 668.5,146.9 667.3,146.9 666.1,146.9 664.9,146.9 663.7,146.9 662.5,146.9 661.3,146.9 660.1,146.9 658.9,146.9 657.7,146.9 656.5,146.9 655.3,146.9 654.1,146.9 652.9,146.9 651.7,146.9 650.5,146.9 649.3,144.2 648.1,141.0 646.9,139.2 645.7,139.2 644.4,139.2 643.2,139.2 642.0,139.2 640.8,139.2 639.6,139.2 638.4,139.2" fill="#f44336" fill-opacity="0.12"/>
<polygon points="710.7,150.1 711.9,152.6 713.1,152.8 714.3,152.8 715.5,153.3 716.7,152.2 717.9,151.1 719.2,151.1 720.4,150.0 721.6,149.9 722.8,149.2 724.0,148.1 725.2,146.1 725.2,147.7 724.0,147.7 722.8,147.7 721.6,147.7 720.4,147.7 719.2,147.7 717.9,147.7 716.7,147.7 715.5,148.4 714.3,149.0 713.1,152.0 711.9,152.2 710.7,152.2" fill="#f44336" fill-opacity="0.12"/>
<polygon points="805.9,108.5 807.1,113.1 808.3,115.0 809.5,119.5 810.7,119.6 811.9,120.2 813.1,122.7 814.3,125.3 815.5,125.3 816.7,127.0 818.0,127.4 819.2,128.6 820.4,128.7 821.6,128.3 822.8,128.8 824.0,129.1 825.2,127.4 826.4,136.1 827.6,138.2 828.8,138.6 830.0,145.8 830.0,125.6 828.8,120.3 827.6,120.3 826.4,119.4 825.2,114.8 824.0,114.8 822.8,114.8 821.6,114.8 820.4,114.8 819.2,114.8 818.0,114.8 816.7,114.8 815.5,114.8 814.3,114.8 813.1,112.3 811.9,111.2 810.7,110.7 809.5,110.7 808.3,108.0 807.1,109.5 805.9,109.9" fill="#f44336" fill-opacity="0.12"/>
<path d="M7.0 173.3V192.9M9.5 181.5V191.3M10.7 182.2V189.7M15.5 207.6V218.7M16.7 194.3V210.1M17.9 182.8V208.6M20.3 179.6V201.1M22.7 159.7V186.7M23.9 154.8V170.4M26.3 156.2V166.3M27.5 147.5V161.0M28.7 147.5V158.0M32.4 149.8V175.8M36.0 154.4V165.0M37.2 155.2V163.1M40.8 203.2V205.7M44.4 191.2V217.3M46.8 179.6V195.2M49.2 193.1V198.3M50.4 178.9V195.8M52.8 175.6V193.9M54.0 175.6V186.3M67.3 259.5V271.8M69.7 263.0V273.9M70.9 248.7V271.1M72.1 239.1V263.6M73.3 240.2V245.0M74.5 235.9V243.8M76.9 245.2V251.1M80.5 241.5V252.5M81.8 240.0V251.3M83.0 239.3V245.3M84.2 234.9V247.4M86.6 235.1V247.5M89.0 235.5V248.6M91.4 215.8V243.2M92.6 218.0V231.6M93.8 222.6V229.6M107.1 271.7V289.0M108.3 263.1V283.9M109.5 265.0V274.8M115.5 268.0V295.2M116.7 271.9V276.9M119.1 243.5V276.7M120.3 260.4V273.4M123.9 273.2V282.9M125.1 268.2V281.1M134.8 306.7V342.5M136.0 303.9V315.7M137.2 295.9V309.9M139.6 282.8V305.4M148.0 310.0V325.2M149.2 302.7V318.0M150.4 297.4V305.6M154.0 294.3V308.7M155.3 289.9V305.1M156.5 287.5V300.0M157.7 273.4V296.2M158.9 260.5V277.6M167.3 299.6V311.5M168.5 275.0V310.2M169.7 270.3V279.7M170.9 257.9V276.6M172.1 238.3V266.7M173.3 222.8V242.9M174.5 197.4V229.8M175.7 207.2V220.1M181.8 218.8V235.3M183.0 208.1V222.6M184.2 204.4V215.3M187.8 201.6V220.4M189.0 192.5V209.0M190.2 193.6V201.9M193.8 185.0V203.1M195.0 180.6V196.9M197.4 173.8V188.8M198.6 173.5V189.5M199.8 155.8V181.0M201.0 155.8V163.2M205.9 170.5V193.6M207.1 169.0V179.8M209.5 170.5V180.0M211.9 167.0V180.8M213.1 167.6V175.9M215.5 160.3V172.6M220.3 177.1V197.1M221.5 163.4V180.0M222.7 157.4V172.6M223.9 148.1V160.2M225.1 140.9V153.7M226.3 135.8V146.1M230.0 137.2V146.5M231.2 131.4V140.3M232.4 132.4V139.8M233.6 128.6V135.5M234.8 123.3V134.0M238.4 123.7V138.6M240.8 123.5V132.0M242.0 118.0V130.9M243.2 107.4V124.0M249.2 154.1V161.2M251.6 150.7V161.0M255.3 155.1V167.4M258.9 159.7V165.6M260.1 154.7V165.4M264.9 177.8V182.7M266.1 173.0V181.4M267.3 170.4V183.0M268.5 167.6V178.3M272.1 168.0V175.9M273.3 159.8V173.4M276.9 168.5V181.7M278.2 158.5V191.7M281.8 157.0V170.0M283.0 142.4V161.7M284.2 132.7V147.2M290.2 142.5V152.1M291.4 126.6V144.3M293.8 124.2V135.1M295.0 122.1V127.5M297.4 124.4V128.6M298.6 117.3V127.0M299.8 114.7V122.6M301.0 111.2V119.3M302.3 106.7V116.7M307.1 113.7V118.2M308.3 110.1V122.3M310.7 111.9V122.6M311.9 102.9V114.2M313.1 99.2V108.1M316.7 109.0V118.0M317.9 103.1V115.1M320.3 102.8V111.3M321.5 100.5V107.6M323.9 106.7V112.3M332.4 128.4V135.6M337.2 144.1V152.2M343.2 154.2V159.7M344.4 145.1V172.3M346.8 149.4V159.5M349.2 153.2V161.8M350.4 149.7V160.1M351.7 151.9V161.6M352.9 142.5V156.1M355.3 147.0V151.9M356.5 145.7V150.6M357.7 137.7V147.3M358.9 122.3V142.5M360.1 118.1V126.0M361.3 117.5V129.1M362.5 115.5V122.4M367.3 114.0V125.8M372.1 128.6V133.2M375.8 127.7V140.0M377.0 120.3V131.0M378.2 116.0V129.3M379.4 110.1V122.4M380.6 100.3V117.6M381.8 94.1V106.6M383.0 72.9V103.0M384.2 70.6V82.5M393.8 88.5V105.4M397.4 105.7V112.5M401.1 108.9V113.1M403.5 112.3V116.9M404.7 109.7V115.9M407.1 117.0V122.5M409.5 122.9V128.4M411.9 124.5V133.7M413.1 124.6V136.6M416.7 127.7V139.0M417.9 125.0V136.3M420.3 131.4V138.7M421.5 121.8V133.5M431.2 146.2V154.9M438.4 164.5V173.4M439.6 161.0V169.3M440.8 159.5V164.9M446.8 179.9V187.2M450.5 178.8V187.3M455.3 184.0V201.3M456.5 172.1V191.7M457.7 173.3V179.5M460.1 176.1V185.6M461.3 173.7V185.2M462.5 176.7V179.7M466.1 181.8V192.8M467.3 180.3V185.3M468.5 175.1V186.1M469.7 170.4V182.7M470.9 169.2V174.0M474.6 165.7V179.8M478.2 169.6V184.3M480.6 158.3V171.9M483.0 154.6V163.7M484.2 150.6V167.4M487.8 157.5V168.2M489.0 144.9V162.5M490.2 138.6V151.8M491.4 135.8V142.4M492.6 128.9V138.6M493.8 123.6V133.1M496.2 123.3V131.5M498.7 115.3V129.0M501.1 110.0V125.6M502.3 110.0V122.1M513.1 140.1V155.2M514.3 138.5V148.7M515.5 125.6V142.9M516.7 117.3V135.2M517.9 113.5V119.8M520.3 106.5V120.1M521.5 107.9V116.8M524.0 105.6V118.2M525.2 97.8V109.7M526.4 90.0V100.6M530.0 107.7V113.4M532.4 117.5V120.5M536.0 115.6V123.8M538.4 115.9V123.0M545.6 132.8V135.6M546.8 129.4V135.4M551.7 132.2V138.9M556.5 139.3V141.2M560.1 145.9V156.2M562.5 146.4V150.2M567.3 149.1V162.5M569.7 147.6V154.1M570.9 144.3V153.1M572.2 141.9V148.2M574.6 138.2V149.3M575.8 136.5V142.4M577.0 135.6V140.7M578.2 136.7V141.4M581.8 129.3V148.0M583.0 130.8V139.1M585.4 127.7V138.4M586.6 122.8V135.4M587.8 115.9V127.0M590.2 120.0V124.0M591.4 118.7V124.9M596.3 130.1V135.6M597.5 123.4V135.8M605.9 144.1V151.5M608.3 144.1V155.0M609.5 136.2V150.1M611.9 135.9V142.0M614.3 134.7V142.0M621.6 166.9V177.4M622.8 167.2V171.6M624.0 160.3V170.3M625.2 159.5V168.4M626.4 155.5V164.9M627.6 157.6V164.6M628.8 155.5V161.9M630.0 153.4V158.6M633.6 161.4V169.0M634.8 157.7V164.9M636.0 155.1V161.0M637.2 149.7V156.6M639.6 147.8V154.8M642.0 141.9V154.0M643.2 139.5V145.3M644.4 137.8V142.2M645.7 129.9V143.5M646.9 129.9V136.8M649.3 132.2V141.9M650.5 136.2V138.5M654.1 132.8V142.2M655.3 135.3V143.8M658.9 132.7V140.0M660.1 131.0V136.9M661.3 127.1V137.4M663.7 128.2V134.1M673.4 152.8V161.7M675.8 152.8V160.2M683.0 159.6V166.9M684.2 156.2V162.6M685.4 153.1V158.6M686.6 148.4V154.8M687.8 143.9V154.3M689.0 145.2V149.7M690.2 139.8V150.6M691.4 139.4V145.5M692.6 136.4V142.8M695.1 132.5V143.9M696.3 129.2V135.8M697.5 123.2V132.4M699.9 121.3V128.7M702.3 121.6V128.6M708.3 134.0V141.1M711.9 136.5V144.0M713.1 138.8V149.0M714.3 137.6V141.8M715.5 123.5V141.0M716.7 114.2V128.9M717.9 115.0V121.4M720.4 117.1V127.3M721.6 118.0V121.9M722.8 111.6V123.4M725.2 108.4V114.7M727.6 102.8V119.3M728.8 88.1V106.4M730.0 86.3V92.4M731.2 83.7V89.6M733.6 79.5V87.2M740.8 101.5V105.9M742.0 94.7V103.5M743.3 93.5V103.2M749.3 109.4V112.6M750.5 96.7V112.6M751.7 88.8V101.0M752.9 86.9V94.5M754.1 86.9V94.4M756.5 84.7V92.1M757.7 83.7V87.8M760.1 77.9V88.2M761.3 81.5V85.1M769.8 113.2V118.5M771.0 113.5V117.6M774.6 121.0V127.4M780.6 134.0V143.3M785.4 138.5V150.1M787.8 140.6V149.8M789.0 140.9V148.1M790.2 135.5V145.9M791.4 128.2V137.3M793.9 130.6V146.3M795.1 123.1V136.4M797.5 143.3V162.7" stroke="#089981" stroke-width="1" fill="none"/>
<path d="M8.3 167.9V190.8M11.9 183.6V190.2M13.1 183.1V194.6M14.3 189.5V217.6M19.1 182.4V208.0M21.5 179.5V186.1M25.1 152.7V168.9M29.9 147.5V157.1M31.1 154.9V174.6M33.6 150.7V159.3M34.8 157.1V168.7M38.4 155.3V198.3M39.6 193.1V214.2M42.0 202.2V214.0M43.2 204.2V217.3M45.6 191.8V195.9M48.0 183.3V198.6M51.6 179.6V189.0M55.2 175.6V190.9M56.4 186.9V201.9M57.7 196.1V206.1M58.9 197.5V205.8M60.1 201.8V214.9M61.3 211.6V233.4M62.5 220.5V249.9M63.7 240.6V244.5M64.9 240.7V258.9M66.1 251.5V273.2M68.5 260.9V283.6M75.7 238.7V250.1M78.1 240.9V249.6M79.3 245.6V251.2M85.4 234.2V247.5M87.8 232.6V243.9M90.2 235.3V245.0M95.0 219.6V233.1M96.2 227.5V251.9M97.4 237.9V245.2M98.6 240.1V261.3M99.8 255.0V267.1M101.0 260.9V277.5M102.2 272.1V291.9M103.4 271.3V280.0M104.6 275.5V286.5M105.8 278.6V289.1M110.7 264.7V283.2M111.9 275.0V285.0M113.1 281.8V294.0M114.3 285.6V299.3M117.9 271.6V280.7M121.5 261.1V274.5M122.7 268.8V279.0M126.3 267.5V273.9M127.5 268.6V288.6M128.7 283.7V300.3M129.9 296.0V305.3M131.2 296.6V321.2M132.4 310.8V338.7M133.6 328.6V351.4M138.4 275.8V306.0M140.8 285.6V295.5M142.0 285.4V310.8M143.2 303.8V318.4M144.4 308.3V320.8M145.6 318.6V326.1M146.8 316.6V335.8M151.6 292.1V304.9M152.8 300.4V312.0M160.1 265.3V279.4M161.3 272.4V287.1M162.5 279.7V294.0M163.7 287.3V297.3M164.9 292.3V319.8M166.1 305.7V311.9M176.9 210.2V216.0M178.1 210.5V226.1M179.3 219.0V234.6M180.6 225.5V233.1M185.4 209.3V216.8M186.6 209.7V217.0M191.4 190.0V200.8M192.6 185.6V203.9M196.2 180.4V191.0M202.2 155.8V168.2M203.4 163.3V179.6M204.7 167.0V185.2M208.3 172.8V180.4M210.7 168.0V181.5M214.3 164.4V170.8M216.7 161.0V173.8M217.9 167.4V182.4M219.1 174.2V188.1M227.5 136.8V143.3M228.8 137.9V149.1M236.0 123.6V132.5M237.2 127.7V138.1M239.6 123.9V129.6M244.4 112.4V124.5M245.6 120.8V134.6M246.8 127.0V158.6M248.0 153.1V160.3M250.4 155.8V162.7M252.8 152.8V163.9M254.1 159.1V167.6M256.5 156.4V164.1M257.7 158.7V166.1M261.3 156.5V173.1M262.5 169.7V179.7M263.7 172.8V187.3M269.7 165.6V173.3M270.9 167.9V178.5M274.5 159.3V172.1M275.7 169.2V181.6M279.4 157.2V167.2M280.6 162.0V170.3M285.4 124.2V141.2M286.6 136.8V144.5M287.8 139.0V154.4M289.0 146.7V150.0M292.6 128.9V135.1M296.2 118.5V127.0M303.5 104.0V111.5M304.7 108.5V116.1M305.9 110.8V119.5M309.5 110.4V122.2M314.3 97.3V115.2M315.5 110.3V119.2M319.1 103.5V111.9M322.7 98.2V109.5M325.1 102.6V113.0M326.3 107.4V113.2M327.6 108.1V120.8M328.8 113.9V128.8M330.0 121.7V133.5M331.2 129.7V137.9M333.6 128.9V135.3M334.8 129.5V149.4M336.0 144.2V152.9M338.4 140.1V148.9M339.6 144.1V151.1M340.8 144.6V155.6M342.0 150.8V160.2M345.6 149.4V162.7M348.0 152.7V161.8M354.1 147.2V152.5M363.7 110.8V123.1M364.9 113.6V122.3M366.1 115.5V126.8M368.5 116.8V125.0M369.7 117.4V125.2M370.9 122.5V132.8M373.3 124.9V132.0M374.5 128.9V140.0M385.4 67.8V80.2M386.6 71.1V80.4M387.8 75.4V92.2M389.0 85.3V95.6M390.2 84.7V98.2M391.4 93.3V101.7M392.6 96.3V103.6M395.0 92.5V107.0M396.2 100.2V112.9M398.6 105.2V112.9M399.8 108.2V117.8M402.3 108.9V116.6M405.9 102.2V121.5M408.3 115.5V129.1M410.7 122.0V133.6M414.3 125.1V133.9M415.5 127.4V136.2M419.1 126.6V150.9M422.7 121.8V132.4M423.9 126.2V138.1M425.2 133.9V138.0M426.4 129.7V147.2M427.6 135.2V150.9M428.8 143.8V150.9M430.0 146.6V157.8M432.4 146.7V156.4M433.6 148.9V158.2M434.8 152.9V165.6M436.0 157.4V167.8M437.2 162.7V174.9M442.0 160.2V169.4M443.2 161.9V176.0M444.4 169.2V175.3M445.6 172.6V185.3M448.0 178.6V191.6M449.3 185.1V188.6M451.7 183.3V202.8M452.9 188.0V190.9M454.1 187.5V196.2M458.9 171.0V188.4M463.7 174.7V181.0M464.9 178.2V189.5M472.1 168.7V178.3M473.3 175.4V179.4M475.8 165.6V179.0M477.0 176.5V182.7M479.4 163.2V173.9M481.8 159.0V162.9M485.4 147.6V160.9M486.6 154.1V169.5M495.0 123.5V129.9M497.4 124.5V130.5M499.9 111.2V125.8M503.5 110.0V122.4M504.7 120.4V125.9M505.9 120.5V135.6M507.1 131.0V136.3M508.3 130.5V151.4M509.5 144.4V157.8M510.7 147.0V153.3M511.9 145.8V153.3M519.1 114.2V122.3M522.8 105.7V115.9M527.6 94.5V105.6M528.8 101.0V111.6M531.2 107.6V124.6M533.6 117.0V123.5M534.8 118.2V123.6M537.2 116.4V123.4M539.6 115.3V124.4M540.8 121.6V128.4M542.0 123.2V134.0M543.2 131.0V134.6M544.4 131.8V135.3M548.1 129.5V132.6M549.3 127.5V136.0M550.5 129.3V142.8M552.9 132.6V137.3M554.1 132.9V141.2M555.3 139.1V142.9M557.7 138.1V148.6M558.9 142.1V153.9M561.3 143.6V154.4M563.7 145.3V152.7M564.9 148.4V157.6M566.1 152.8V160.0M568.5 150.2V152.5M573.4 140.0V147.5M579.4 136.0V146.7M580.6 137.9V147.4M584.2 129.8V138.8M589.0 117.6V123.8M592.6 120.5V132.9M593.8 125.7V134.4M595.0 129.8V138.0M598.7 125.7V137.9M599.9 132.1V142.9M601.1 135.3V143.5M602.3 136.7V145.3M603.5 139.4V149.1M604.7 145.4V153.3M607.1 140.9V153.5M610.7 136.3V147.3M613.1 136.7V139.8M615.5 134.4V150.2M616.7 147.9V159.1M617.9 155.8V166.1M619.1 162.3V172.5M620.3 169.7V177.8M631.2 154.3V160.5M632.4 156.9V166.5M638.4 148.7V154.3M640.8 145.9V153.7M648.1 131.5V140.4M651.7 135.7V142.6M652.9 137.1V140.5M656.5 135.2V140.5M657.7 136.5V143.0M662.5 126.5V131.5M664.9 126.5V136.8M666.1 128.6V140.6M667.3 139.1V147.5M668.5 143.7V149.0M669.8 144.9V151.8M671.0 144.4V152.9M672.2 150.1V159.0M674.6 150.8V160.7M677.0 154.4V159.3M678.2 155.5V158.9M679.4 157.0V159.6M680.6 154.9V164.7M681.8 162.0V166.9M693.8 136.8V140.9M698.7 126.5V131.2M701.1 123.1V126.5M703.5 122.1V130.5M704.7 129.4V136.6M705.9 130.3V137.7M707.1 134.9V140.6M709.5 131.6V142.1M710.7 138.4V145.4M719.2 112.4V125.3M724.0 107.1V117.4M726.4 107.6V120.0M732.4 83.2V87.1M734.8 79.5V85.3M736.0 80.6V89.5M737.2 85.3V97.5M738.4 91.9V100.7M739.6 94.8V105.7M744.5 92.2V97.6M745.7 89.4V102.6M746.9 99.0V106.9M748.1 104.1V112.6M755.3 86.0V92.8M758.9 83.4V89.6M762.5 83.3V88.5M763.7 84.7V89.0M764.9 84.7V104.7M766.1 99.4V105.8M767.3 104.4V108.8M768.6 105.9V117.8M772.2 113.7V126.1M773.4 119.4V126.3M775.8 119.8V128.3M777.0 126.5V135.0M778.2 128.0V138.1M779.4 133.1V143.5M781.8 133.2V144.5M783.0 138.8V146.7M784.2 142.5V151.8M786.6 140.1V147.8M792.7 130.1V143.1M796.3 123.2V160.9M798.7 141.3V159.5M799.9 157.2V173.4" stroke="#f23645" stroke-width="1" fill="none"/>
<polyline points="7.0,88.3 8.3,88.3 9.5,88.3 10.7,88.3 11.9,88.3 13.1,88.3 14.3,88.3 15.5,88.3 16.7,88.3 17.9,88.3 19.1,92.3 20.3,92.3 21.5,92.3 22.7,92.3 23.9,92.3 25.1,92.3 26.3,92.3 27.5,92.3 28.7,100.2 29.9,111.5 31.1,127.7 32.4,131.2 33.6,132.3 34.8,132.6 36.0,133.4 37.2,137.1 38.4,137.5 39.6,138.0 40.8,138.0 42.0,140.9 43.2,140.9 44.4,150.1 45.6,150.7 46.8,150.7 48.0,150.7 49.2,150.7 50.4,150.7 51.6,150.7 52.8,150.7 54.0,150.7 55.2,150.7 56.4,150.7 57.7,150.7 58.9,150.7 60.1,150.7 61.3,150.7 62.5,150.7 63.7,150.7 64.9,150.7 66.1,150.7 67.3,150.7 68.5,150.7 69.7,150.7 70.9,157.9 72.1,159.6 73.3,160.9 74.5,166.1 75.7,166.7 76.9,170.8 78.1,174.4 79.3,174.5 80.5,174.5 81.8,174.5 83.0,174.5 84.2,174.5 85.4,174.5 86.6,174.5 87.8,176.8 89.0,178.1 90.2,181.9 91.4,190.4 92.6,198.7 93.8,198.7 95.0,203.2 96.2,210.4 97.4,210.4 98.6,215.6 99.8,215.6 101.0,215.6 102.2,215.6 103.4,215.6 104.6,215.6 105.8,215.6 107.1,215.6 108.3,215.6 109.5,215.6 110.7,215.6 111.9,215.6 113.1,215.6 114.3,215.6 115.5,215.6 116.7,215.6 117.9,215.6 119.1,215.6 120.3,215.6 121.5,215.6 122.7,216.7 123.9,216.7 125.1,217.2 126.3,219.0 127.5,219.0 128.7,219.4 129.9,219.5 131.2,229.6 132.4,233.7 133.6,233.7 134.8,233.7 136.0,233.7 137.2,233.7 138.4,233.7 139.6,233.7 140.8,233.7 142.0,233.7 143.2,234.8 144.4,237.5 145.6,237.5 146.8,237.5 148.0,243.1 149.2,247.7 150.4,248.4 151.6,250.6 152.8,255.5 154.0,257.6 155.3,257.6 156.5,257.6 157.7,257.6 158.9,258.1 160.1,260.5 161.3,268.5 162.5,277.2 163.7,283.6 164.9,283.6 166.1,283.6 167.3,283.6 168.5,283.6 169.7,283.6 170.9,283.6 172.1,283.6 173.3,283.6 174.5,283.6 175.7,283.6 176.9,283.6 178.1,283.6 179.3,283.6 180.6,283.6 181.8,283.6 183.0,283.6 184.2,284.7 185.4,285.5 186.6,285.5 187.8,289.5 189.0,294.7 190.2,295.7 191.4,297.5 192.6,297.5 193.8,297.5 195.0,297.5 196.2,297.5 197.4,297.5 198.6,297.5 199.8,297.5 201.0,297.5 202.2,294.8 203.4,287.1 204.7,274.4 205.9,274.4 207.1,274.4 208.3,274.4 209.5,274.4 210.7,274.4 211.9,274.4 213.1,274.4 214.3,274.4 215.5,274.4 216.7,274.4 217.9,274.4 219.1,272.0 220.3,272.0 221.5,270.7 222.7,268.5 223.9,268.2 225.1,266.0 226.3,261.5 227.5,254.8 228.8,254.7 230.0,245.8 231.2,245.8 232.4,245.8 233.6,245.8 234.8,245.8 236.0,245.8 237.2,245.8 238.4,245.8 239.6,240.5 240.8,237.8 242.0,237.8 243.2,237.8 244.4,237.8 245.6,237.8 246.8,237.8 248.0,237.8 249.2,237.8 250.4,237.8 251.6,237.8 252.8,237.8 254.1,234.0 255.3,230.4 256.5,227.8 257.7,223.8 258.9,223.6 260.1,223.0 261.3,205.6 262.5,204.0 263.7,197.7 264.9,183.1 266.1,179.3 267.3,179.3 268.5,179.3 269.7,179.3 270.9,179.3 272.1,176.6 273.3,171.3 274.5,165.0 275.7,163.9 276.9,163.9 278.2,163.9 279.4,163.9 280.6,158.2 281.8,155.7 283.0,155.7 284.2,155.7 285.4,155.3 286.6,152.2 287.8,152.2 289.0,152.2 290.2,152.2 291.4,152.2 292.6,152.2 293.8,152.2 295.0,152.2 296.2,152.2 297.4,152.2 298.6,152.2 299.8,152.2 301.0,152.2 302.3,152.2 303.5,152.2 304.7,152.2 305.9,152.2 307.1,152.2 308.3,152.2 309.5,152.2 310.7,152.2 311.9,152.2 313.1,149.6 314.3,149.6 315.5,149.6 316.7,149.6 317.9,149.6 319.1,149.6 320.3,149.6 321.5,149.6 322.7,149.6 323.9,149.6 325.1,149.6 326.3,149.6 327.6,149.6 328.8,149.6 330.0,149.6 331.2,149.6 332.4,149.2 333.6,147.8 334.8,147.8 336.0,147.8 337.2,147.8 338.4,147.8 339.6,147.8 340.8,147.8 342.0,147.3 343.2,145.5 344.4,144.5 345.6,144.5 346.8,144.5 348.0,144.5 349.2,144.5 350.4,144.5 351.7,144.5 352.9,144.5 354.1,144.5 355.3,144.5 356.5,144.5 357.7,144.5 358.9,144.5 360.1,144.5 361.3,144.5 362.5,144.5 363.7,144.5 364.9,144.5 366.1,144.5 367.3,144.5 368.5,144.5 369.7,144.5 370.9,133.8 372.1,133.8 373.3,133.6 374.5,134.8 375.8,134.8 377.0,134.8 378.2,134.8 379.4,134.8 380.6,134.8 381.8,134.8 383.0,134.8 384.2,134.8 385.4,134.8 386.6,134.8 387.8,134.8 389.0,134.8 390.2,134.8 391.4,134.8 392.6,134.8 393.8,134.8 395.0,134.8 396.2,134.8 397.4,134.8 398.6,134.8 399.8,134.8 401.1,134.8 402.3,134.8 403.5,134.8 404.7,134.8 405.9,134.8 407.1,135.2 408.3,135.2 409.5,135.2 410.7,135.2 411.9,133.2 413.1,122.6 414.3,121.5 415.5,120.1 416.7,120.1 417.9,120.1 419.1,120.1 420.3,120.1 421.5,120.1 422.7,120.1 423.9,120.1 425.2,120.1 426.4,120.1 427.6,120.1 428.8,120.1 430.0,120.1 431.2,120.1 432.4,120.1 433.6,120.1 434.8,120.1 436.0,120.1 437.2,115.3 438.4,114.8 439.6,114.8 440.8,114.8 442.0,114.7 443.2,114.7 444.4,111.9 445.6,110.1 446.8,109.9 448.0,109.2 449.3,109.4 450.5,109.4 451.7,109.4 452.9,109.4 454.1,109.4 455.3,109.4 456.5,109.4 457.7,109.4 458.9,109.4 460.1,112.8 461.3,112.8 462.5,112.8 463.7,113.0 464.9,116.7 466.1,117.8 467.3,121.3 468.5,121.3 469.7,121.3 470.9,121.3 472.1,121.3 473.3,121.9 474.6,121.9 475.8,126.6 477.0,127.5 478.2,131.3 479.4,133.5 480.6,138.1 481.8,143.7 483.0,145.6 484.2,145.6 485.4,145.6 486.6,147.7 487.8,151.5 489.0,152.5 490.2,152.5 491.4,152.5 492.6,152.5 493.8,152.5 495.0,152.5 496.2,152.5 497.4,152.5 498.7,159.1 499.9,159.1 501.1,162.3 502.3,162.3 503.5,162.3 504.7,162.3 505.9,162.3 507.1,162.3 508.3,162.3 509.5,162.3 510.7,162.3 511.9,162.3 513.1,162.3 514.3,162.3 515.5,164.5 516.7,166.2 517.9,166.2 519.1,169.0 520.3,170.7 521.5,169.3 522.8,165.8 524.0,163.2 525.2,163.1 526.4,163.0 527.6,163.0 528.8,159.1 530.0,157.0 531.2,156.4 532.4,156.4 533.6,156.4 534.8,156.4 536.0,156.4 537.2,156.4 538.4,156.4 539.6,156.4 540.8,156.4 542.0,156.4 543.2,156.4 544.4,155.7 545.6,155.7 546.8,155.7 548.1,151.4 549.3,151.4 550.5,149.6 551.7,149.6 552.9,149.3 554.1,149.2 555.3,145.3 556.5,141.4 557.7,141.4 558.9,138.0 560.1,138.0 561.3,137.2 562.5,137.2 563.7,137.2 564.9,137.2 566.1,137.2 567.3,137.2 568.5,137.2 569.7,137.2 570.9,132.0 572.2,131.0 573.4,129.7 574.6,129.7 575.8,129.7 577.0,129.7 578.2,129.7 579.4,129.1 580.6,126.3 581.8,123.9 583.0,123.9 584.2,123.9 585.4,123.9 586.6,123.9 587.8,123.9 589.0,123.9 590.2,123.9 591.4,123.9 592.6,123.9 593.8,123.9 595.0,123.9 596.3,125.0 597.5,126.2 598.7,126.2 599.9,126.2 601.1,126.2 602.3,126.2 603.5,126.2 604.7,126.2 605.9,126.2 607.1,126.2 608.3,126.2 609.5,126.2 610.7,126.2 611.9,126.2 613.1,126.2 614.3,126.2 615.5,126.2 616.7,126.2 617.9,126.2 619.1,128.5 620.3,131.8 621.6,135.0 622.8,135.0 624.0,138.9 625.2,138.9 626.4,138.9 627.6,138.9 628.8,138.9 630.0,138.9 631.2,138.9 632.4,139.2 633.6,139.2 634.8,139.2 636.0,139.2 637.2,139.2 638.4,139.2 639.6,139.2 640.8,139.2 642.0,139.2 643.2,139.2 644.4,139.2 645.7,139.2 646.9,139.2 648.1,141.0 649.3,144.2 650.5,146.9 651.7,146.9 652.9,146.9 654.1,146.9 655.3,146.9 656.5,146.9 657.7,146.9 658.9,146.9 660.1,146.9 661.3,146.9 662.5,146.9 663.7,146.9 664.9,146.9 666.1,146.9 667.3,146.9 668.5,146.9 669.8,146.9 671.0,146.9 672.2,146.9 673.4,146.9 674.6,146.9 675.8,146.9 677.0,146.9 678.2,146.9 679.4,146.9 680.6,147.7 681.8,148.3 683.0,148.3 684.2,149.2 685.4,150.6 686.6,150.6 687.8,150.6 689.0,150.6 690.2,151.7 691.4,152.5 692.6,152.2 693.8,152.2 695.1,152.2 696.3,152.2 697.5,152.2 698.7,152.2 699.9,152.2 701.1,152.2 702.3,152.2 703.5,152.2 704.7,152.2 705.9,152.2 707.1,152.2 708.3,152.2 709.5,152.2 710.7,152.2 711.9,152.2 713.1,152.0 714.3,149.0 715.5,148.4 716.7,147.7 717.9,147.7 719.2,147.7 720.4,147.7 721.6,147.7 722.8,147.7 724.0,147.7 725.2,147.7 726.4,146.7 727.6,145.1 728.8,145.1 730.0,144.1 731.2,144.1 732.4,144.1 733.6,144.1 734.8,144.1 736.0,144.1 737.2,144.1 738.4,144.1 739.6,144.1 740.8,144.1 742.0,144.1 743.3,144.1 744.5,144.1 745.7,144.1 746.9,140.6 748.1,140.6 749.3,139.7 750.5,139.7 751.7,139.7 752.9,139.3 754.1,137.0 755.3,137.0 756.5,137.0 757.7,134.9 758.9,127.5 760.1,126.6 761.3,125.3 762.5,125.0 763.7,123.2 764.9,123.2 766.1,123.2 767.3,123.2 768.6,123.2 769.8,123.2 771.0,123.2 772.2,123.2 773.4,123.2 774.6,123.2 775.8,121.1 777.0,119.1 778.2,117.2 779.4,116.9 780.6,115.1 781.8,115.1 783.0,114.2 784.2,114.2 785.4,114.2 786.6,114.2 787.8,114.2 789.0,114.2 790.2,113.5 791.4,113.5 792.7,113.5 793.9,113.5 795.1,113.5 796.3,113.5 797.5,113.5 798.7,113.5 799.9,113.5 801.1,113.5 802.3,113.5 803.5,113.5 804.7,113.5 805.9,109.9 807.1,109.5 808.3,108.0 809.5,110.7 810.7,110.7 811.9,111.2 813.1,112.3 814.3,114.8 815.5,114.8 816.7,114.8 818.0,114.8 819.2,114.8 820.4,114.8 821.6,114.8 822.8,114.8 824.0,114.8 825.2,114.8 826.4,119.4 827.6,120.3 828.8,120.3 830.0,125.6" fill="none" stroke="#880e4f" stroke-width="2" stroke-linejoin="round" stroke-linecap="round"/>
<polyline points="7.0,106.5 8.3,103.6 9.5,103.6 10.7,105.1 11.9,107.6 13.1,107.6 14.3,110.0 15.5,112.4 16.7,113.3 17.9,113.0 19.1,121.1 20.3,122.0 21.5,122.6 22.7,125.2 23.9,125.5 25.1,127.6 26.3,129.4 27.5,129.5 28.7,132.9 29.9,140.2 31.1,149.5 32.4,152.8 33.6,152.8 34.8,152.8 36.0,154.0 37.2,154.6 38.4,156.5 39.6,162.5 40.8,166.7 42.0,167.3 43.2,169.1 44.4,179.5 45.6,182.0 46.8,183.8 48.0,183.9 49.2,187.3 50.4,186.9 51.6,186.8 52.8,181.9 54.0,180.7 55.2,180.1 56.4,179.1 57.7,178.1 58.9,179.8 60.1,178.7 61.3,175.1 62.5,175.1 63.7,172.4 64.9,172.4 66.1,172.4 67.3,172.4 68.5,178.0 69.7,182.0 70.9,182.6 72.1,182.6 73.3,183.6 74.5,184.5 75.7,184.5 76.9,184.3 78.1,184.4 79.3,190.4 80.5,190.2 81.8,190.2 83.0,189.4 84.2,189.4 85.4,184.7 86.6,185.6 87.8,186.6 89.0,186.6 90.2,188.8 91.4,198.0 92.6,206.3 93.8,206.5 95.0,212.0 96.2,221.9 97.4,224.4 98.6,230.0 99.8,236.1 101.0,238.6 102.2,240.8 103.4,245.5 104.6,244.7 105.8,244.7 107.1,244.7 108.3,244.7 109.5,242.2 110.7,241.5 111.9,239.7 113.1,236.9 114.3,236.6 115.5,236.5 116.7,239.3 117.9,241.2 119.1,241.6 120.3,242.6 121.5,240.6 122.7,241.0 123.9,241.0 125.1,241.0 126.3,241.8 127.5,241.8 128.7,244.1 129.9,243.2 131.2,246.7 132.4,254.4 133.6,254.8 134.8,254.8 136.0,256.8 137.2,259.4 138.4,259.9 139.6,263.7 140.8,265.1 142.0,265.7 143.2,266.7 144.4,269.4 145.6,269.4 146.8,269.4 148.0,269.4 149.2,264.5 150.4,264.5 151.6,264.5 152.8,265.1 154.0,265.5 155.3,264.4 156.5,263.3 157.7,267.3 158.9,271.0 160.1,278.6 161.3,286.8 162.5,297.1 163.7,303.5 164.9,303.5 166.1,303.5 167.3,303.7 168.5,305.5 169.7,305.5 170.9,305.5 172.1,305.5 173.3,305.5 174.5,303.3 175.7,299.2 176.9,301.6 178.1,301.6 179.3,303.4 180.6,308.3 181.8,308.4 183.0,311.7 184.2,311.7 185.4,311.2 186.6,310.6 187.8,304.6 189.0,297.6 190.2,296.1 191.4,296.1 192.6,296.1 193.8,295.3 195.0,295.8 196.2,294.1 197.4,294.1 198.6,294.1 199.8,295.4 201.0,292.8 202.2,283.0 203.4,275.3 204.7,262.6 205.9,260.6 207.1,260.5 208.3,257.6 209.5,248.6 210.7,247.8 211.9,245.3 213.1,239.4 214.3,237.5 215.5,239.2 216.7,239.2 217.9,238.5 219.1,235.0 220.3,235.0 221.5,233.8 222.7,228.4 223.9,227.6 225.1,225.4 226.3,223.3 227.5,219.9 228.8,216.6 230.0,198.8 231.2,198.1 232.4,195.6 233.6,189.4 234.8,186.0 236.0,185.1 237.2,185.1 238.4,185.1 239.6,185.1 240.8,185.1 242.0,185.1 243.2,183.8 244.4,183.6 245.6,182.6 246.8,179.5 248.0,179.8 249.2,178.3 250.4,179.3 251.6,179.3 252.8,178.6 254.1,174.1 255.3,169.0 256.5,166.4 257.7,166.4 258.9,166.4 260.1,166.4 261.3,160.0 262.5,158.1 263.7,153.6 264.9,149.4 266.1,148.2 267.3,148.2 268.5,148.2 269.7,147.6 270.9,146.0 272.1,143.2 273.3,137.6 274.5,137.6 275.7,137.6 276.9,142.6 278.2,143.0 279.4,143.3 280.6,143.7 281.8,139.4 283.0,137.8 284.2,138.8 285.4,140.9 286.6,142.4 287.8,148.3 289.0,148.3 290.2,148.3 291.4,151.1 292.6,154.9 293.8,159.2 295.0,159.2 296.2,159.2 297.4,159.2 298.6,159.2 299.8,159.2 301.0,159.6 302.3,161.9 303.5,160.5 304.7,160.5 305.9,162.6 307.1,164.1 308.3,173.1 309.5,172.8 310.7,172.8 311.9,172.8 313.1,167.1 314.3,162.2 315.5,158.0 316.7,158.0 317.9,158.0 319.1,152.6 320.3,152.6 321.5,152.5 322.7,150.4 323.9,148.6 325.1,147.6 326.3,145.8 327.6,145.8 328.8,144.6 330.0,143.3 331.2,139.6 332.4,135.1 333.6,133.7 334.8,132.1 336.0,132.1 337.2,132.1 338.4,131.7 339.6,125.2 340.8,125.2 342.0,124.6 343.2,120.7 344.4,117.9 345.6,117.9 346.8,117.9 348.0,117.9 349.2,117.4 350.4,117.4 351.7,114.5 352.9,112.2 354.1,112.2 355.3,110.8 356.5,110.5 357.7,111.2 358.9,113.3 360.1,115.6 361.3,117.8 362.5,117.8 363.7,118.9 364.9,124.7 366.1,127.6 367.3,127.8 368.5,129.3 369.7,131.2 370.9,134.2 372.1,136.5 373.3,136.7 374.5,142.9 375.8,145.7 377.0,145.7 378.2,145.7 379.4,146.7 380.6,146.8 381.8,147.0 383.0,146.3 384.2,147.4 385.4,145.0 386.6,146.0 387.8,145.0 389.0,142.6 390.2,142.5 391.4,142.2 392.6,139.8 393.8,136.6 395.0,136.5 396.2,136.1 397.4,135.3 398.6,134.1 399.8,130.8 401.1,131.7 402.3,131.8 403.5,131.8 404.7,134.2 405.9,131.9 407.1,131.7 408.3,132.2 409.5,130.5 410.7,125.5 411.9,122.5 413.1,110.5 414.3,108.4 415.5,106.9 416.7,104.3 417.9,103.0 419.1,100.1 420.3,98.3 421.5,95.6 422.7,94.8 423.9,95.3 425.2,95.7 426.4,98.0 427.6,99.0 428.8,101.4 430.0,102.6 431.2,103.5 432.4,103.5 433.6,103.5 434.8,104.5 436.0,107.4 437.2,105.9 438.4,107.1 439.6,107.1 440.8,109.3 442.0,109.4 443.2,110.8 444.4,110.8 445.6,110.8 446.8,116.2 448.0,117.2 449.3,127.1 450.5,127.1 451.7,128.0 452.9,128.0 454.1,128.0 455.3,129.0 456.5,131.0 457.7,131.5 458.9,131.5 460.1,134.9 461.3,134.9 462.5,134.9 463.7,136.2 464.9,140.8 466.1,141.9 467.3,150.1 468.5,152.2 469.7,154.4 470.9,154.4 472.1,154.6 473.3,155.7 474.6,156.7 475.8,162.5 477.0,163.9 478.2,166.1 479.4,166.1 480.6,166.1 481.8,171.9 483.0,172.3 484.2,175.2 485.4,177.0 486.6,176.8 487.8,178.2 489.0,180.1 490.2,180.7 491.4,180.7 492.6,180.5 493.8,181.0 495.0,182.0 496.2,181.0 497.4,181.5 498.7,181.5 499.9,181.4 501.1,181.1 502.3,181.1 503.5,181.5 504.7,181.7 505.9,181.7 507.1,180.0 508.3,180.0 509.5,178.4 510.7,175.9 511.9,175.9 513.1,173.7 514.3,171.7 515.5,170.2 516.7,168.1 517.9,168.1 519.1,164.1 520.3,160.5 521.5,158.5 522.8,155.0 524.0,152.4 525.2,152.3 526.4,152.2 527.6,150.2 528.8,144.8 530.0,139.7 531.2,136.7 532.4,135.7 533.6,134.4 534.8,134.0 536.0,135.0 537.2,135.2 538.4,138.9 539.6,137.9 540.8,137.4 542.0,136.8 543.2,136.8 544.4,139.4 545.6,139.5 546.8,138.7 548.1,137.4 549.3,136.0 550.5,131.5 551.7,131.5 552.9,131.1 554.1,129.4 555.3,124.1 556.5,118.2 557.7,115.0 558.9,115.0 560.1,114.5 561.3,115.6 562.5,115.6 563.7,115.6 564.9,115.6 566.1,115.6 567.3,116.7 568.5,118.3 569.7,120.0 570.9,120.3 572.2,123.6 573.4,123.8 574.6,122.3 575.8,121.0 577.0,119.1 578.2,119.1 579.4,119.3 580.6,124.3 581.8,124.7 583.0,125.8 584.2,125.8 585.4,125.8 586.6,125.8 587.8,129.8 589.0,134.1 590.2,137.3 591.4,138.0 592.6,140.1 593.8,140.1 595.0,142.2 596.3,143.4 597.5,144.6 598.7,145.6 599.9,146.0 601.1,147.6 602.3,147.5 603.5,148.1 604.7,147.7 605.9,147.2 607.1,147.0 608.3,144.9 609.5,144.9 610.7,145.1 611.9,142.6 613.1,142.6 614.3,142.6 615.5,141.5 616.7,139.0 617.9,135.6 619.1,135.6 620.3,135.6 621.6,135.6 622.8,133.3 624.0,133.3 625.2,133.2 626.4,133.1 627.6,133.1 628.8,131.4 630.0,132.9 631.2,132.8 632.4,132.8 633.6,134.4 634.8,136.5 636.0,136.5 637.2,136.6 638.4,137.9 639.6,139.5 640.8,140.3 642.0,140.5 643.2,140.5 644.4,140.2 645.7,140.1 646.9,142.1 648.1,145.6 649.3,149.3 650.5,152.2 651.7,152.2 652.9,152.7 654.1,153.4 655.3,153.4 656.5,156.8 657.7,158.7 658.9,159.2 660.1,160.3 661.3,160.8 662.5,159.3 663.7,159.0 664.9,158.7 666.1,158.7 667.3,157.7 668.5,157.5 669.8,157.3 671.0,156.8 672.2,155.8 673.4,155.2 674.6,153.7 675.8,149.7 677.0,148.6 678.2,148.1 679.4,148.1 680.6,147.9 681.8,147.8 683.0,144.2 684.2,143.4 685.4,143.1 686.6,143.1 687.8,143.5 689.0,143.7 690.2,143.4 691.4,141.7 692.6,141.4 693.8,141.4 695.1,140.4 696.3,139.2 697.5,139.3 698.7,139.2 699.9,139.9 701.1,140.0 702.3,142.7 703.5,144.1 704.7,144.1 705.9,144.6 707.1,147.2 708.3,148.4 709.5,148.6 710.7,150.1 711.9,152.6 713.1,152.8 714.3,152.8 715.5,153.3 716.7,152.2 717.9,151.1 719.2,151.1 720.4,150.0 721.6,149.9 722.8,149.2 724.0,148.1 725.2,146.1 726.4,144.9 727.6,141.9 728.8,141.0 730.0,140.0 731.2,138.7 732.4,138.3 733.6,138.3 734.8,138.3 736.0,136.8 737.2,137.5 738.4,137.6 739.6,137.9 740.8,138.8 742.0,138.8 743.3,139.8 744.5,140.6 745.7,138.1 746.9,133.1 748.1,132.9 749.3,131.1 750.5,131.1 751.7,130.7 752.9,130.3 754.1,126.2 755.3,126.0 756.5,123.0 757.7,120.5 758.9,113.1 760.1,112.2 761.3,109.9 762.5,109.7 763.7,107.0 764.9,107.0 766.1,107.0 767.3,106.8 768.6,103.6 769.8,103.4 771.0,103.5 772.2,103.5 773.4,103.5 774.6,101.7 775.8,101.8 777.0,100.2 778.2,102.2 779.4,102.2 780.6,102.2 781.8,101.1 783.0,100.6 784.2,99.7 785.4,99.5 786.6,99.2 787.8,98.8 789.0,97.0 790.2,95.3 791.4,92.4 792.7,90.7 793.9,90.7 795.1,93.3 796.3,93.6 797.5,94.3 798.7,97.9 799.9,98.2 801.1,99.1 802.3,103.4 803.5,103.8 804.7,104.3 805.9,108.5 807.1,113.1 808.3,115.0 809.5,119.5 810.7,119.6 811.9,120.2 813.1,122.7 814.3,125.3 815.5,125.3 816.7,127.0 818.0,127.4 819.2,128.6 820.4,128.7 821.6,128.3 822.8,128.8 824.0,129.1 825.2,127.4 826.4,136.1 827.6,138.2 828.8,138.6 830.0,145.8" fill="none" stroke="#1b5e20" stroke-width="2" stroke-linejoin="round" stroke-linecap="round"/>
<polyline points="7.0,54.8 8.3,55.9 9.5,57.0 10.7,58.0 11.9,59.1 13.1,60.2 14.3,61.4 15.5,62.6 16.7,63.7 17.9,64.8 19.1,65.8 20.3,66.8 21.5,67.9 22.7,68.8 23.9,69.6 25.1,70.5 26.3,71.3 27.5,72.1 28.7,72.9 29.9,73.7 31.1,74.6 32.4,75.4 33.6,76.2 34.8,77.1 36.0,78.0 37.2,78.9 38.4,80.0 39.6,81.1 40.8,82.2 42.0,83.4 43.2,84.5 44.4,85.6 45.6,86.6 46.8,87.7 48.0,88.8 49.2,89.8 50.4,90.8 51.6,91.8 52.8,92.7 54.0,93.6 55.2,94.6 56.4,95.6 57.7,96.6 58.9,97.6 60.1,98.6 61.3,99.6 62.5,100.8 63.7,101.9 64.9,103.1 66.1,104.3 67.3,105.5 68.5,106.8 69.7,108.0 70.9,109.1 72.1,110.2 73.3,111.3 74.5,112.4 75.7,113.5 76.9,114.7 78.1,115.8 79.3,117.0 80.5,118.1 81.8,119.3 83.0,120.4 84.2,121.6 85.4,122.8 86.6,124.0 87.8,125.1 89.0,126.2 90.2,127.4 91.4,128.4 92.6,129.5 93.8,130.5 95.0,131.5 96.2,132.5 97.4,133.5 98.6,134.6 99.8,135.7 101.0,136.8 102.2,138.0 103.4,139.1 104.6,140.2 105.8,141.3 107.1,142.3 108.3,143.3 109.5,144.2 110.7,145.2 111.9,146.3 113.1,147.4 114.3,148.5 115.5,149.6 116.7,150.7 117.9,151.8 119.1,152.8 120.3,153.8 121.5,154.9 122.7,156.0 123.9,157.1 125.1,158.2 126.3,159.3 127.5,160.4 128.7,161.6 129.9,162.8 131.2,164.1 132.4,165.5 133.6,166.9 134.8,168.2 136.0,169.4 137.2,170.7 138.4,171.9 139.6,173.1 140.8,174.3 142.0,175.6 143.2,176.9 144.4,178.3 145.6,179.6 146.8,181.0 148.0,182.3 149.2,183.6 150.4,184.9 151.6,186.2 152.8,187.5 154.0,188.8 155.3,190.0 156.5,191.2 157.7,192.2 158.9,193.2 160.1,194.3 161.3,195.3 162.5,196.4 163.7,197.4 164.9,198.5 166.1,199.6 167.3,200.7 168.5,201.7 169.7,202.7 170.9,203.6 172.1,204.6 173.3,205.4 174.5,206.2 175.7,207.1 176.9,207.9 178.1,208.8 179.3,209.6 180.6,210.4 181.8,211.1 183.0,211.8 184.2,212.5 185.4,213.2 186.6,213.9 187.8,214.5 189.0,215.1 190.2,215.6 191.4,216.1 192.6,216.6 193.8,217.0 195.0,217.3 196.2,217.6 197.4,217.8 198.6,218.0 199.8,218.2 201.0,218.4 202.2,218.6 203.4,218.9 204.7,219.2 205.9,219.5 207.1,219.9 208.3,220.2 209.5,220.6 210.7,221.0 211.9,221.3 213.1,221.6 214.3,222.0 215.5,222.3 216.7,222.6 217.9,223.0 219.1,223.4 220.3,223.8 221.5,224.1 222.7,224.3 223.9,224.5 225.1,224.6 226.3,224.6 227.5,224.6 228.8,224.6 230.0,224.6 231.2,224.6 232.4,224.6 233.6,224.5 234.8,224.4 236.0,224.4 237.2,224.3 238.4,224.3 239.6,224.1 240.8,223.9 242.0,223.6 243.2,223.2 244.4,222.9 245.6,222.6 246.8,222.4 248.0,222.3 249.2,222.2 250.4,222.0 251.6,221.9 252.8,221.7 254.1,221.6 255.3,221.3 256.5,221.1 257.7,220.9 258.9,220.7 260.1,220.6 261.3,220.5 262.5,220.4 263.7,220.5 264.9,220.7 266.1,220.7 267.3,220.8 268.5,220.9 269.7,221.0 270.9,221.1 272.1,221.1 273.3,221.1 274.5,221.2 275.7,221.3 276.9,221.3 278.2,221.3 279.4,221.2 280.6,221.0 281.8,220.7 283.0,220.4 284.2,220.1 285.4,219.8 286.6,219.6 287.8,219.4 289.0,219.2 290.2,218.9 291.4,218.7 292.6,218.4 293.8,218.1 295.0,217.8 296.2,217.5 297.4,217.2 298.6,216.7 299.8,216.3 301.0,215.8 302.3,215.2 303.5,214.5 304.7,213.8 305.9,213.1 307.1,212.4 308.3,211.6 309.5,210.8 310.7,210.1 311.9,209.3 313.1,208.6 314.3,208.0 315.5,207.3 316.7,206.6 317.9,206.0 319.1,205.3 320.3,204.5 321.5,203.9 322.7,203.2 323.9,202.5 325.1,201.9 326.3,201.2 327.6,200.6 328.8,200.0 330.0,199.5 331.2,199.0 332.4,198.5 333.6,198.0 334.8,197.7 336.0,197.2 337.2,196.8 338.4,196.3 339.6,195.8 340.8,195.2 342.0,194.6 343.2,194.0 344.4,193.4 345.6,192.7 346.8,192.1 348.0,191.5 349.2,191.0 350.4,190.4 351.7,189.8 352.9,189.1 354.1,188.5 355.3,187.8 356.5,187.1 357.7,186.4 358.9,185.7 360.1,185.0 361.3,184.3 362.5,183.5 363.7,182.7 364.9,181.9 366.1,181.2 367.3,180.4 368.5,179.6 369.7,178.7 370.9,177.8 372.1,176.9 373.3,175.9 374.5,174.8 375.8,173.9 377.0,173.1 378.2,172.1 379.4,171.2 380.6,170.3 381.8,169.4 383.0,168.2 384.2,167.0 385.4,165.8 386.6,164.5 387.8,163.4 389.0,162.2 390.2,161.2 391.4,160.2 392.6,159.1 393.8,158.1 395.0,157.1 396.2,156.1 397.4,155.2 398.6,154.4 399.8,153.7 401.1,152.8 402.3,152.0 403.5,151.1 404.7,150.2 405.9,149.3 407.1,148.3 408.3,147.4 409.5,146.7 410.7,146.0 411.9,145.3 413.1,144.8 414.3,144.3 415.5,143.9 416.7,143.5 417.9,143.1 419.1,142.7 420.3,142.2 421.5,141.6 422.7,141.2 423.9,140.8 425.2,140.4 426.4,140.1 427.6,139.7 428.8,139.4 430.0,139.2 431.2,139.0 432.4,138.8 433.6,138.6 434.8,138.4 436.0,138.3 437.2,138.2 438.4,138.2 439.6,138.1 440.8,138.1 442.0,138.1 443.2,138.1 444.4,138.1 445.6,138.2 446.8,138.2 448.0,138.3 449.3,138.4 450.5,138.4 451.7,138.5 452.9,138.6 454.1,138.8 455.3,138.9 456.5,138.9 457.7,139.0 458.9,139.0 460.1,139.0 461.3,139.0 462.5,139.0 463.7,139.1 464.9,139.3 466.1,139.5 467.3,139.7 468.5,139.9 469.7,140.0 470.9,140.2 472.1,140.4 473.3,140.6 474.6,140.8 475.8,141.0 477.0,141.3 478.2,141.5 479.4,141.6 480.6,141.8 481.8,142.0 483.0,142.2 484.2,142.4 485.4,142.5 486.6,142.7 487.8,142.7 489.0,142.6 490.2,142.6 491.4,142.4 492.6,142.3 493.8,142.1 495.0,142.0 496.2,141.8 497.4,141.6 498.7,141.4 499.9,141.2 501.1,140.9 502.3,140.7 503.5,140.4 504.7,140.1 505.9,139.9 507.1,139.7 508.3,139.5 509.5,139.4 510.7,139.3 511.9,139.2 513.1,139.1 514.3,138.9 515.5,138.7 516.7,138.4 517.9,138.1 519.1,137.9 520.3,137.7 521.5,137.4 522.8,137.2 524.0,137.0 525.2,136.8 526.4,136.6 527.6,136.4 528.8,136.2 530.0,136.0 531.2,135.8 532.4,135.8 533.6,135.7 534.8,135.7 536.0,135.7 537.2,135.6 538.4,135.6 539.6,135.6 540.8,135.6 542.0,135.7 543.2,135.9 544.4,136.0 545.6,136.1 546.8,136.2 548.1,136.2 549.3,136.3 550.5,136.4 551.7,136.5 552.9,136.7 554.1,136.8 555.3,137.0 556.5,137.2 557.7,137.4 558.9,137.6 560.1,137.8 561.3,138.0 562.5,138.2 563.7,138.4 564.9,138.6 566.1,138.9 567.3,139.1 568.5,139.3 569.7,139.4 570.9,139.4 572.2,139.5 573.4,139.5 574.6,139.6 575.8,139.5 577.0,139.5 578.2,139.5 579.4,139.4 580.6,139.4 581.8,139.3 583.0,139.2 584.2,139.1 585.4,139.0 586.6,138.8 587.8,138.6 589.0,138.5 590.2,138.3 591.4,138.1 592.6,137.9 593.8,137.8 595.0,137.7 596.3,137.6 597.5,137.5 598.7,137.5 599.9,137.6 601.1,137.7 602.3,137.8 603.5,137.9 604.7,138.1 605.9,138.2 607.1,138.3 608.3,138.5 609.5,138.6 610.7,138.7 611.9,138.7 613.1,138.7 614.3,138.8 615.5,138.8 616.7,139.0 617.9,139.1 619.1,139.4 620.3,139.7 621.6,140.0 622.8,140.3 624.0,140.8 625.2,141.2 626.4,141.7 627.6,142.1 628.8,142.5 630.0,142.8 631.2,143.1 632.4,143.4 633.6,143.8 634.8,144.1 636.0,144.3 637.2,144.5 638.4,144.8 639.6,144.9 640.8,145.1 642.0,145.3 643.2,145.4 644.4,145.5 645.7,145.6 646.9,145.7 648.1,145.8 649.3,145.8 650.5,145.9 651.7,146.0 652.9,146.0 654.1,146.0 655.3,146.1 656.5,146.1 657.7,146.1 658.9,146.2 660.1,146.2 661.3,146.2 662.5,146.2 663.7,146.2 664.9,146.2 666.1,146.2 667.3,146.2 668.5,146.2 669.8,146.2 671.0,146.1 672.2,146.2 673.4,146.2 674.6,146.2 675.8,146.2 677.0,146.1 678.2,146.1 679.4,146.0 680.6,146.0 681.8,146.0 683.0,146.0 684.2,145.9 685.4,145.8 686.6,145.7 687.8,145.5 689.0,145.3 690.2,145.0 691.4,144.8 692.6,144.5 693.8,144.2 695.1,144.0 696.3,143.7 697.5,143.4 698.7,143.1 699.9,142.8 701.1,142.6 702.3,142.3 703.5,142.1 704.7,141.8 705.9,141.6 707.1,141.4 708.3,141.2 709.5,140.9 710.7,140.8 711.9,140.6 713.1,140.5 714.3,140.3 715.5,140.0 716.7,139.8 717.9,139.5 719.2,139.2 720.4,139.0 721.6,138.8 722.8,138.6 724.0,138.3 725.2,138.1 726.4,137.9 727.6,137.6 728.8,137.3 730.0,137.0 731.2,136.7 732.4,136.5 733.6,136.2 734.8,136.0 736.0,135.8 737.2,135.6 738.4,135.5 739.6,135.4 740.8,135.4 742.0,135.3 743.3,135.2 744.5,135.0 745.7,134.9 746.9,134.8 748.1,134.7 749.3,134.5 750.5,134.2 751.7,133.9 752.9,133.7 754.1,133.4 755.3,133.1 756.5,132.9 757.7,132.7 758.9,132.6 760.1,132.4 761.3,132.3 762.5,132.1 763.7,132.0 764.9,132.0 766.1,132.0 767.3,132.1 768.6,132.1 769.8,132.2 771.0,132.2 772.2,132.2 773.4,132.2 774.6,132.3 775.8,132.3 777.0,132.3 778.2,132.4 779.4,132.5 780.6,132.6 781.8,132.7 783.0,132.8 784.2,132.9 785.4,132.9 786.6,132.9 787.8,133.0 789.0,133.0 790.2,133.1 791.4,133.0 792.7,133.1 793.9,133.1 795.1,133.0 796.3,133.1 797.5,133.1 798.7,133.1 799.9,133.2" fill="none" stroke="#9c27b0" stroke-width="3" stroke-linejoin="round" stroke-linecap="round"/>
<polyline points="7.0,128.7 8.3,130.8 9.5,132.8 10.7,134.5 11.9,136.2 13.1,137.8 14.3,139.7 15.5,141.3 16.7,142.6 17.9,143.7 19.1,145.1 20.3,146.2 21.5,147.5 22.7,148.4 23.9,149.1 25.1,150.2 26.3,151.3 27.5,152.3 28.7,153.3 29.9,154.5 31.1,155.8 32.4,156.8 33.6,157.9 34.8,159.2 36.0,160.3 37.2,161.5 38.4,163.4 39.6,165.3 40.8,167.3 42.0,169.1 43.2,170.9 44.4,172.3 45.6,173.5 46.8,174.4 48.0,175.5 49.2,176.5 50.4,177.4 51.6,178.2 52.8,178.9 54.0,179.6 55.2,180.7 56.4,181.8 57.7,182.9 58.9,183.9 60.1,184.7 61.3,185.6 62.5,186.6 63.7,187.9 64.9,189.1 66.1,190.6 67.3,192.5 68.5,194.2 69.7,195.8 70.9,197.3 72.1,198.4 73.3,199.3 74.5,199.8 75.7,200.5 76.9,201.3 78.1,202.6 79.3,203.5 80.5,204.8 81.8,205.8 83.0,207.4 84.2,209.1 85.4,210.6 86.6,212.2 87.8,213.9 89.0,215.8 90.2,217.4 91.4,218.7 92.6,220.1 93.8,221.4 95.0,222.7 96.2,224.3 97.4,226.0 98.6,227.2 99.8,228.5 101.0,229.9 102.2,231.3 103.4,232.9 104.6,234.6 105.8,236.3 107.1,238.1 108.3,239.7 109.5,241.3 110.7,243.1 111.9,245.1 113.1,247.2 114.3,249.3 115.5,251.0 116.7,252.6 117.9,254.0 119.1,255.1 120.3,256.2 121.5,257.0 122.7,257.8 123.9,258.2 125.1,258.6 126.3,258.8 127.5,259.2 128.7,259.8 129.9,260.5 131.2,261.7 132.4,263.5 133.6,265.4 134.8,266.9 136.0,268.2 137.2,269.4 138.4,270.3 139.6,271.1 140.8,272.2 142.0,273.5 143.2,274.9 144.4,276.6 145.6,278.3 146.8,279.9 148.0,281.3 149.2,282.7 150.4,283.9 151.6,285.4 152.8,287.0 154.0,288.6 155.3,290.0 156.5,291.0 157.7,291.6 158.9,291.8 160.1,292.0 161.3,292.1 162.5,292.3 163.7,292.6 164.9,293.1 166.1,293.7 167.3,294.1 168.5,294.2 169.7,294.3 170.9,293.9 172.1,293.1 173.3,291.8 174.5,290.3 175.7,289.0 176.9,287.8 178.1,286.8 179.3,286.0 180.6,285.4 181.8,284.3 183.0,282.9 184.2,281.6 185.4,280.5 186.6,279.3 187.8,277.7 189.0,275.7 190.2,273.4 191.4,271.1 192.6,268.3 193.8,265.4 195.0,262.8 196.2,260.4 197.4,258.0 198.6,255.5 199.8,253.1 201.0,250.5 202.2,247.7 203.4,244.9 204.7,242.0 205.9,239.0 207.1,236.1 208.3,233.3 209.5,230.6 210.7,228.1 211.9,225.4 213.1,222.7 214.3,219.9 215.5,217.3 216.7,214.9 217.9,213.0 219.1,211.3 220.3,209.4 221.5,207.1 222.7,204.4 223.9,201.5 225.1,198.3 226.3,194.9 227.5,191.7 228.8,189.0 230.0,186.5 231.2,184.1 232.4,181.9 233.6,180.1 234.8,178.5 236.0,176.9 237.2,175.2 238.4,173.3 239.6,171.4 240.8,169.3 242.0,167.4 243.2,165.4 244.4,163.7 245.6,162.1 246.8,160.9 248.0,159.8 249.2,159.0 250.4,158.2 251.6,157.4 252.8,156.6 254.1,156.1 255.3,155.6 256.5,155.2 257.7,154.8 258.9,154.6 260.1,154.4 261.3,154.5 262.5,154.7 263.7,154.9 264.9,155.0 266.1,155.0 267.3,155.0 268.5,154.9 269.7,154.9 270.9,154.9 272.1,154.9 273.3,154.8 274.5,154.9 275.7,155.1 276.9,155.1 278.2,154.7 279.4,154.3 280.6,154.1 281.8,153.9 283.0,153.8 284.2,153.5 285.4,153.4 286.6,153.5 287.8,153.7 289.0,153.8 290.2,153.7 291.4,153.6 292.6,153.6 293.8,153.5 295.0,153.3 296.2,153.2 297.4,153.0 298.6,152.9 299.8,152.7 301.0,152.3 302.3,152.0 303.5,151.8 304.7,151.7 305.9,151.4 307.1,150.5 308.3,149.7 309.5,148.9 310.7,148.0 311.9,147.1 313.1,146.1 314.3,144.9 315.5,143.8 316.7,142.8 317.9,141.7 319.1,140.6 320.3,139.5 321.5,138.2 322.7,136.8 323.9,135.4 325.1,133.9 326.3,132.7 327.6,131.5 328.8,130.6 330.0,129.8 331.2,129.0 332.4,128.2 333.6,127.8 334.8,127.3 336.0,126.6 337.2,126.1 338.4,125.9 339.6,125.6 340.8,125.4 342.0,125.4 343.2,125.5 344.4,125.9 345.6,126.2 346.8,126.4 348.0,126.6 349.2,126.8 350.4,127.2 351.7,127.6 352.9,128.0 354.1,128.4 355.3,129.0 356.5,129.4 357.7,129.7 358.9,129.8 360.1,130.0 361.3,130.1 362.5,130.3 363.7,130.5 364.9,130.7 366.1,130.7 367.3,130.9 368.5,131.1 369.7,131.2 370.9,131.5 372.1,131.9 373.3,132.4 374.5,133.0 375.8,133.4 377.0,133.8 378.2,134.0 379.4,134.1 380.6,134.2 381.8,134.2 383.0,133.6 384.2,132.9 385.4,132.2 386.6,131.4 387.8,130.8 389.0,130.1 390.2,129.4 391.4,128.7 392.6,128.0 393.8,127.2 395.0,126.3 396.2,125.6 397.4,124.8 398.6,124.1 399.8,123.3 401.1,122.5 402.3,121.7 403.5,120.8 404.7,120.0 405.9,119.3 407.1,118.5 408.3,117.8 409.5,117.1 410.7,116.5 411.9,116.0 413.1,115.5 414.3,115.2 415.5,114.9 416.7,114.6 417.9,114.4 419.1,114.5 420.3,114.7 421.5,114.8 422.7,115.0 423.9,115.4 425.2,115.7 426.4,116.0 427.6,116.5 428.8,117.1 430.0,117.7 431.2,118.2 432.4,118.7 433.6,119.2 434.8,119.7 436.0,120.3 437.2,121.1 438.4,122.0 439.6,123.1 440.8,124.2 442.0,125.5 443.2,127.4 444.4,129.4 445.6,131.6 446.8,133.7 448.0,135.8 449.3,137.7 450.5,139.6 451.7,141.5 452.9,143.4 454.1,145.3 455.3,147.0 456.5,148.4 457.7,149.9 458.9,151.2 460.1,152.6 461.3,153.9 462.5,155.1 463.7,156.5 464.9,157.9 466.1,159.2 467.3,160.4 468.5,161.5 469.7,162.5 470.9,163.4 472.1,164.3 473.3,165.3 474.6,166.1 475.8,166.9 477.0,167.8 478.2,168.6 479.4,169.3 480.6,169.9 481.8,170.6 483.0,171.3 484.2,171.7 485.4,172.1 486.6,172.5 487.8,172.8 489.0,172.7 490.2,172.4 491.4,172.0 492.6,171.5 493.8,170.9 495.0,170.3 496.2,169.6 497.4,168.7 498.7,167.8 499.9,166.8 501.1,165.8 502.3,164.8 503.5,163.8 504.7,162.8 505.9,161.8 507.1,160.8 508.3,160.0 509.5,159.2 510.7,158.4 511.9,157.5 513.1,156.6 514.3,155.5 515.5,154.3 516.7,153.1 517.9,151.8 519.1,150.5 520.3,149.2 521.5,147.9 522.8,146.6 524.0,145.1 525.2,143.3 526.4,141.6 527.6,140.1 528.8,138.7 530.0,137.4 531.2,136.4 532.4,135.2 533.6,134.1 534.8,133.1 536.0,131.9 537.2,130.7 538.4,129.6 539.6,128.7 540.8,128.0 542.0,127.4 543.2,126.8 544.4,126.4 545.6,125.9 546.8,125.3 548.1,124.8 549.3,124.5 550.5,124.4 551.7,124.4 552.9,124.6 554.1,124.8 555.3,125.0 556.5,125.3 557.7,125.8 558.9,126.4 560.1,127.0 561.3,127.7 562.5,128.3 563.7,128.9 564.9,129.4 566.1,130.0 567.3,130.3 568.5,130.5 569.7,130.4 570.9,130.4 572.2,130.3 573.4,130.2 574.6,130.3 575.8,130.5 577.0,130.9 578.2,131.4 579.4,131.9 580.6,132.4 581.8,133.0 583.0,133.4 584.2,134.0 585.4,134.6 586.6,135.2 587.8,135.5 589.0,135.8 590.2,136.0 591.4,136.1 592.6,136.3 593.8,136.5 595.0,136.7 596.3,136.8 597.5,137.0 598.7,137.3 599.9,137.7 601.1,138.0 602.3,138.3 603.5,138.6 604.7,138.9 605.9,139.1 607.1,139.5 608.3,139.8 609.5,139.9 610.7,140.0 611.9,140.2 613.1,140.2 614.3,140.2 615.5,140.4 616.7,140.7 617.9,141.0 619.1,141.4 620.3,141.8 621.6,142.3 622.8,142.7 624.0,143.1 625.2,143.3 626.4,143.3 627.6,143.5 628.8,143.6 630.0,143.9 631.2,144.1 632.4,144.5 633.6,144.9 634.8,145.3 636.0,145.5 637.2,145.8 638.4,146.0 639.6,146.2 640.8,146.3 642.0,146.4 643.2,146.6 644.4,146.7 645.7,146.7 646.9,146.8 648.1,147.1 649.3,147.4 650.5,147.7 651.7,148.0 652.9,148.2 654.1,148.4 655.3,148.5 656.5,148.8 657.7,149.0 658.9,149.1 660.1,148.9 661.3,148.7 662.5,148.4 663.7,148.1 664.9,147.7 666.1,147.5 667.3,147.4 668.5,147.4 669.8,147.5 671.0,147.7 672.2,148.1 673.4,148.4 674.6,148.8 675.8,148.9 677.0,148.9 678.2,148.9 679.4,148.6 680.6,148.4 681.8,148.2 683.0,148.1 684.2,147.9 685.4,147.7 686.6,147.5 687.8,147.2 689.0,147.0 690.2,146.6 691.4,146.3 692.6,145.8 693.8,145.3 695.1,144.8 696.3,144.3 697.5,143.9 698.7,143.4 699.9,142.9 701.1,142.4 702.3,142.0 703.5,141.8 704.7,141.7 705.9,141.7 707.1,141.8 708.3,141.9 709.5,141.9 710.7,142.0 711.9,142.1 713.1,142.1 714.3,142.1 715.5,141.9 716.7,141.5 717.9,141.2 719.2,140.9 720.4,140.7 721.6,140.6 722.8,140.3 724.0,139.9 725.2,139.6 726.4,139.1 727.6,138.2 728.8,137.1 730.0,135.9 731.2,134.6 732.4,133.1 733.6,131.7 734.8,130.2 736.0,128.9 737.2,127.6 738.4,126.4 739.6,125.3 740.8,124.2 742.0,122.9 743.3,121.6 744.5,120.3 745.7,119.3 746.9,118.4 748.1,117.6 749.3,116.8 750.5,115.9 751.7,115.0 752.9,114.0 754.1,113.0 755.3,112.1 756.5,111.2 757.7,110.3 758.9,109.5 760.1,108.7 761.3,107.9 762.5,107.1 763.7,106.3 764.9,105.6 766.1,105.1 767.3,104.5 768.6,104.0 769.8,103.6 771.0,103.1 772.2,102.7 773.4,102.3 774.6,102.0 775.8,102.0 777.0,102.2 778.2,102.5 779.4,102.8 780.6,103.0 781.8,103.5 783.0,104.1 784.2,104.8 785.4,105.4 786.6,106.0 787.8,106.9 789.0,107.9 790.2,108.9 791.4,109.8 792.7,110.9 793.9,111.9 795.1,112.7 796.3,114.1 797.5,115.1 798.7,116.3 799.9,117.6" fill="none" stroke="#2962ff" stroke-width="3" stroke-linejoin="round" stroke-linecap="round"/>
<polyline points="7.0,140.9 8.3,140.9 9.5,148.1 10.7,149.9 11.9,151.1 13.1,156.3 14.3,166.2 15.5,170.8 16.7,174.4 17.9,174.5 19.1,174.5 20.3,174.5 21.5,174.5 22.7,174.5 23.9,174.5 25.1,174.5 26.3,176.8 27.5,178.1 28.7,181.9 29.9,183.1 31.1,183.1 32.4,183.1 33.6,183.1 34.8,183.1 36.0,183.1 37.2,183.1 38.4,183.1 39.6,183.1 40.8,183.1 42.0,183.1 43.2,183.1 44.4,183.1 45.6,183.1 46.8,182.4 48.0,182.4 49.2,182.4 50.4,182.4 51.6,182.4 52.8,182.4 54.0,182.4 55.2,182.4 56.4,182.4 57.7,182.4 58.9,182.4 60.1,182.4 61.3,191.6 62.5,199.9 63.7,200.3 64.9,206.7 66.1,213.8 67.3,214.2 68.5,219.5 69.7,229.6 70.9,229.6 72.1,229.6 73.3,229.6 74.5,229.6 75.7,229.6 76.9,229.6 78.1,229.6 79.3,229.6 80.5,229.6 81.8,229.6 83.0,229.6 84.2,229.6 85.4,229.6 86.6,235.3 87.8,239.9 89.0,240.6 90.2,242.7 91.4,247.6 92.6,249.7 93.8,249.7 95.0,249.7 96.2,249.7 97.4,249.7 98.6,249.7 99.8,244.8 101.0,246.7 102.2,253.9 103.4,253.9 104.6,253.9 105.8,253.9 107.1,253.9 108.3,253.9 109.5,253.9 110.7,253.9 111.9,253.9 113.1,254.9 114.3,257.6 115.5,257.6 116.7,257.6 117.9,257.6 119.1,257.6 120.3,257.6 121.5,257.6 122.7,258.7 123.9,259.5 125.1,259.5 126.3,263.4 127.5,268.6 128.7,270.2 129.9,274.4 131.2,282.4 132.4,291.1 133.6,297.5 134.8,297.5 136.0,297.5 137.2,297.5 138.4,297.5 139.6,297.5 140.8,297.5 142.0,297.5 143.2,297.5 144.4,297.5 145.6,297.5 146.8,297.5 148.0,297.5 149.2,297.5 150.4,305.9 151.6,306.3 152.8,309.5 154.0,309.5 155.3,309.5 156.5,309.5 157.7,310.0 158.9,306.0 160.1,306.0 161.3,306.0 162.5,306.0 163.7,306.0 164.9,301.5 166.1,298.1 167.3,298.1 168.5,298.1 169.7,298.1 170.9,296.8 172.1,287.0 173.3,279.3 174.5,266.6 175.7,266.6 176.9,266.6 178.1,261.3 179.3,258.6 180.6,258.6 181.8,258.6 183.0,258.6 184.2,258.6 185.4,258.6 186.6,258.6 187.8,258.6 189.0,256.2 190.2,256.2 191.4,254.9 192.6,252.7 193.8,252.4 195.0,250.2 196.2,246.2 197.4,242.7 198.6,241.9 199.8,217.8 201.0,216.2 202.2,211.3 203.4,199.3 204.7,195.5 205.9,195.5 207.1,195.5 208.3,195.5 209.5,195.5 210.7,195.5 211.9,195.5 213.1,189.2 214.3,188.1 215.5,188.1 216.7,188.1 217.9,188.1 219.1,182.4 220.3,179.9 221.5,179.9 222.7,179.9 223.9,175.6 225.1,169.0 226.3,166.4 227.5,166.4 228.8,166.4 230.0,166.4 231.2,164.3 232.4,164.3 233.6,162.9 234.8,160.2 236.0,160.2 237.2,160.2 238.4,160.2 239.6,160.2 240.8,160.2 242.0,157.5 243.2,152.2 244.4,152.2 245.6,152.2 246.8,152.2 248.0,152.2 249.2,152.2 250.4,152.2 251.6,143.7 252.8,140.0 254.1,137.5 255.3,137.5 256.5,137.5 257.7,137.5 258.9,137.5 260.1,137.5 261.3,140.3 262.5,143.6 263.7,147.4 264.9,147.4 266.1,147.4 267.3,147.4 268.5,147.4 269.7,147.4 270.9,147.4 272.1,147.4 273.3,147.4 274.5,149.9 275.7,154.1 276.9,157.2 278.2,171.2 279.4,171.2 280.6,171.2 281.8,171.2 283.0,167.1 284.2,162.2 285.4,158.0 286.6,158.0 287.8,158.0 289.0,158.0 290.2,158.0 291.4,158.0 292.6,158.0 293.8,158.0 295.0,156.9 296.2,155.1 297.4,155.1 298.6,154.5 299.8,153.2 301.0,151.5 302.3,149.2 303.5,147.8 304.7,147.8 305.9,147.8 307.1,147.8 308.3,147.8 309.5,137.2 310.7,137.2 311.9,136.5 313.1,130.4 314.3,125.9 315.5,125.9 316.7,125.9 317.9,125.9 319.1,124.7 320.3,124.7 321.5,120.8 322.7,116.2 323.9,116.2 325.1,113.0 326.3,113.0 327.6,113.0 328.8,113.1 330.0,115.4 331.2,117.6 332.4,117.6 333.6,117.6 334.8,123.4 336.0,125.1 337.2,125.1 338.4,125.1 339.6,125.1 340.8,126.5 342.0,128.8 343.2,128.8 344.4,134.8 345.6,135.2 346.8,135.2 348.0,135.2 349.2,135.2 350.4,135.2 351.7,135.2 352.9,135.2 354.1,137.5 355.3,137.5 356.5,139.8 357.7,140.2 358.9,143.1 360.1,145.2 361.3,144.9 362.5,143.9 363.7,141.6 364.9,141.6 366.1,141.6 367.3,141.6 368.5,141.6 369.7,141.6 370.9,141.6 372.1,141.6 373.3,141.6 374.5,141.6 375.8,136.8 377.0,136.3 378.2,136.3 379.4,135.9 380.6,130.9 381.8,127.9 383.0,114.5 384.2,111.5 385.4,109.9 386.6,109.2 387.8,107.6 389.0,105.1 390.2,103.9 391.4,103.9 392.6,103.9 393.8,103.9 395.0,103.9 396.2,103.9 397.4,103.9 398.6,103.9 399.8,103.9 401.1,103.9 402.3,103.9 403.5,103.9 404.7,103.9 405.9,103.9 407.1,99.4 408.3,98.5 409.5,98.5 410.7,100.7 411.9,100.8 413.1,102.2 414.3,102.2 415.5,102.2 416.7,105.1 417.9,107.2 419.1,117.8 420.3,117.8 421.5,119.7 422.7,119.7 423.9,119.7 425.2,121.7 426.4,125.6 427.6,126.6 428.8,126.6 430.0,130.0 431.2,130.0 432.4,130.0 433.6,130.2 434.8,133.9 436.0,135.0 437.2,145.2 438.4,145.2 439.6,148.3 440.8,148.3 442.0,148.3 443.2,148.9 444.4,148.9 445.6,153.5 446.8,154.5 448.0,156.7 449.3,156.7 450.5,156.7 451.7,162.3 452.9,162.3 454.1,164.5 455.3,166.2 456.5,166.2 457.7,169.0 458.9,173.3 460.1,174.5 461.3,174.5 462.5,174.8 463.7,175.8 464.9,177.9 466.1,180.1 467.3,181.1 468.5,181.1 469.7,181.1 470.9,181.1 472.1,181.5 473.3,182.4 474.6,184.2 475.8,184.2 477.0,184.2 478.2,184.2 479.4,183.0 480.6,180.5 481.8,180.5 483.0,178.0 484.2,176.0 485.4,174.4 486.6,170.2 487.8,170.2 489.0,168.8 490.2,165.7 491.4,164.3 492.6,160.9 493.8,158.2 495.0,158.1 496.2,158.1 497.4,154.7 498.7,150.7 499.9,147.8 501.1,147.2 502.3,147.2 503.5,147.2 504.7,147.2 505.9,147.2 507.1,147.2 508.3,147.2 509.5,142.0 510.7,141.0 511.9,139.8 513.1,139.8 514.3,139.8 515.5,139.8 516.7,139.8 517.9,139.1 519.1,136.3 520.3,132.1 521.5,132.1 522.8,131.7 524.0,131.7 525.2,127.8 526.4,123.9 527.6,123.9 528.8,123.9 530.0,123.9 531.2,123.9 532.4,123.9 533.6,123.9 534.8,123.9 536.0,123.9 537.2,123.9 538.4,123.9 539.6,123.9 540.8,122.6 542.0,122.6 543.2,122.6 544.4,119.3 545.6,116.4 546.8,112.8 548.1,112.8 549.3,113.0 550.5,116.4 551.7,116.4 552.9,116.4 554.1,116.4 555.3,116.4 556.5,116.4 557.7,121.6 558.9,127.5 560.1,131.9 561.3,131.9 562.5,135.7 563.7,135.7 564.9,136.5 566.1,137.7 567.3,138.9 568.5,138.9 569.7,138.9 570.9,142.1 572.2,142.8 573.4,145.0 574.6,145.0 575.8,145.0 577.0,145.0 578.2,145.0 579.4,145.0 580.6,145.9 581.8,145.9 583.0,145.9 584.2,145.9 585.4,145.1 586.6,142.7 587.8,139.2 589.0,139.2 590.2,139.2 591.4,139.2 592.6,139.2 593.8,139.2 595.0,139.2 596.3,139.2 597.5,139.2 598.7,135.0 599.9,135.0 601.1,134.5 602.3,132.6 603.5,132.6 604.7,134.6 605.9,134.6 607.1,134.7 608.3,135.5 609.5,135.5 610.7,135.5 611.9,135.5 613.1,135.5 614.3,135.5 615.5,135.5 616.7,137.5 617.9,141.0 619.1,145.1 620.3,148.3 621.6,148.3 622.8,149.2 624.0,150.6 625.2,150.6 626.4,150.6 627.6,150.6 628.8,151.7 630.0,155.0 631.2,156.1 632.4,156.1 633.6,156.1 634.8,156.1 636.0,156.1 637.2,156.1 638.4,156.1 639.6,156.1 640.8,156.1 642.0,156.1 643.2,156.1 644.4,156.1 645.7,153.9 646.9,153.9 648.1,153.9 649.3,153.9 650.5,153.9 651.7,153.7 652.9,150.7 654.1,150.1 655.3,149.4 656.5,149.4 657.7,149.4 658.9,149.4 660.1,149.4 661.3,148.0 662.5,147.7 663.7,147.7 664.9,145.7 666.1,143.7 667.3,141.5 668.5,140.7 669.8,140.7 671.0,140.2 672.2,142.7 673.4,144.1 674.6,144.1 675.8,144.1 677.0,144.1 678.2,144.1 679.4,144.1 680.6,145.6 681.8,146.7 683.0,146.7 684.2,146.7 685.4,146.7 686.6,146.7 687.8,146.7 689.0,146.7 690.2,146.7 691.4,146.7 692.6,146.7 693.8,146.7 695.1,146.7 696.3,147.8 697.5,145.1 698.7,145.1 699.9,144.1 701.1,144.1 702.3,144.1 703.5,144.1 704.7,144.1 705.9,144.1 707.1,144.1 708.3,144.1 709.5,144.1 710.7,144.1 711.9,144.1 713.1,144.1 714.3,141.9 715.5,140.0 716.7,134.5 717.9,134.3 719.2,131.5 720.4,131.5 721.6,130.7 722.8,130.3 724.0,128.0 725.2,128.0 726.4,128.0 727.6,125.9 728.8,118.6 730.0,117.6 731.2,116.3 732.4,116.1 733.6,114.2 734.8,114.2 736.0,114.2 737.2,114.2 738.4,114.2 739.6,114.2 740.8,114.2 742.0,114.2 743.3,114.2 744.5,110.6 745.7,110.2 746.9,104.2 748.1,103.4 749.3,103.4 750.5,103.4 751.7,101.4 752.9,101.4 754.1,99.7 755.3,99.7 756.5,99.7 757.7,99.4 758.9,96.1 760.1,95.3 761.3,95.3 762.5,95.3 763.7,95.3 764.9,95.3 766.1,95.3 767.3,95.3 768.6,97.9 769.8,98.2 771.0,98.2 772.2,102.0 773.4,102.1 774.6,102.6 775.8,103.1 777.0,106.4 778.2,108.0 779.4,110.7 780.6,110.7 781.8,111.2 783.0,112.3 784.2,114.8 785.4,114.8 786.6,114.8 787.8,114.8 789.0,114.8 790.2,114.8 791.4,116.6 792.7,117.5 793.9,118.2 795.1,118.2 796.3,130.2 797.5,133.5 798.7,134.3 799.9,143.3" fill="none" stroke="#f23645" stroke-width="2" stroke-linejoin="round" stroke-linecap="round"/>
<polyline points="7.0,168.4 8.3,172.1 9.5,176.9 10.7,183.5 11.9,183.5 13.1,182.0 14.3,192.8 15.5,193.3 16.7,193.3 17.9,193.3 19.1,200.1 20.3,199.2 21.5,199.1 22.7,189.2 23.9,186.8 25.1,185.7 26.3,181.4 27.5,178.1 28.7,177.7 29.9,174.3 31.1,167.1 32.4,167.1 33.6,161.6 34.8,161.6 36.0,161.6 37.2,161.6 38.4,172.9 39.6,180.8 40.8,182.0 42.0,182.0 43.2,184.0 44.4,185.9 45.6,185.9 46.8,186.2 48.0,186.3 49.2,198.5 50.4,198.1 51.6,198.1 52.8,196.4 54.0,196.4 55.2,187.1 56.4,188.7 57.7,190.8 58.9,190.8 60.1,195.2 61.3,204.5 62.5,212.7 63.7,212.7 64.9,217.3 66.1,230.1 67.3,234.6 68.5,240.6 69.7,242.7 70.9,247.6 72.1,252.1 73.3,261.3 74.5,259.7 75.7,259.7 76.9,259.7 78.1,259.7 79.3,254.9 80.5,253.5 81.8,249.7 83.0,244.2 84.2,243.7 85.4,243.4 86.6,243.4 87.8,242.5 89.0,242.5 90.2,242.5 91.4,233.6 92.6,232.2 93.8,232.2 95.0,232.2 96.2,233.9 97.4,233.9 98.6,238.5 99.8,241.5 101.0,246.7 102.2,255.0 103.4,255.8 104.6,255.8 105.8,259.7 107.1,264.9 108.3,266.0 109.5,273.5 110.7,276.4 111.9,277.5 113.1,278.6 114.3,281.2 115.5,281.2 116.7,281.2 117.9,281.2 119.1,271.4 120.3,271.4 121.5,271.4 122.7,271.4 123.9,271.4 125.1,269.3 126.3,263.2 127.5,266.1 128.7,271.9 129.9,282.9 131.2,291.2 132.4,303.1 133.6,309.5 134.8,309.5 136.0,309.5 137.2,310.0 138.4,313.6 139.6,313.6 140.8,313.6 142.0,313.6 143.2,313.6 144.4,309.2 145.6,300.9 146.8,305.8 148.0,305.8 149.2,309.3 150.4,310.6 151.6,310.6 152.8,313.9 154.0,313.9 155.3,312.8 156.5,311.6 157.7,299.3 158.9,289.2 160.1,286.3 161.3,286.3 162.5,286.3 163.7,284.6 164.9,290.1 166.1,290.1 167.3,290.1 168.5,290.1 169.7,292.6 170.9,288.8 172.1,279.0 173.3,271.3 174.5,258.6 175.7,254.7 176.9,254.5 178.1,253.8 179.3,238.6 180.6,237.0 181.8,232.1 183.0,220.1 184.2,216.3 185.4,219.9 186.6,219.9 187.8,218.4 189.0,213.9 190.2,213.9 191.4,212.7 192.6,204.1 193.8,202.7 195.0,200.5 196.2,200.4 197.4,197.1 198.6,191.3 199.8,179.9 201.0,179.9 202.2,179.9 203.4,179.5 204.7,176.4 205.9,174.7 207.1,174.7 208.3,174.7 209.5,174.7 210.7,174.7 211.9,174.7 213.1,178.5 214.3,179.0 215.5,177.0 216.7,170.9 217.9,171.4 219.1,174.2 220.3,178.7 221.5,178.7 222.7,177.2 223.9,172.6 225.1,169.0 226.3,166.4 227.5,166.4 228.8,166.4 230.0,166.4 231.2,155.7 232.4,152.0 233.6,144.4 234.8,138.5 236.0,136.2 237.2,136.2 238.4,136.2 239.6,134.9 240.8,131.8 242.0,128.9 243.2,123.0 244.4,123.0 245.6,123.0 246.8,133.0 248.0,133.8 249.2,134.3 250.4,135.1 251.6,135.1 252.8,135.7 254.1,140.0 255.3,144.2 256.5,147.3 257.7,159.2 258.9,159.2 260.1,159.2 261.3,161.9 262.5,166.3 263.7,171.0 264.9,171.0 266.1,171.0 267.3,171.0 268.5,171.0 269.7,171.0 270.9,171.9 272.1,176.5 273.3,173.6 274.5,171.1 275.7,171.1 276.9,171.1 278.2,175.1 279.4,174.4 280.6,174.4 281.8,174.4 283.0,167.1 284.2,162.2 285.4,158.0 286.6,158.0 287.8,158.0 289.0,147.3 290.2,147.3 291.4,147.1 292.6,142.9 293.8,139.3 295.0,138.3 296.2,136.5 297.4,136.5 298.6,134.7 299.8,133.4 301.0,127.8 302.3,120.9 303.5,119.5 304.7,116.3 305.9,116.3 307.1,116.3 308.3,115.5 309.5,113.3 310.7,113.3 311.9,112.8 313.1,110.9 314.3,110.0 315.5,110.0 316.7,110.0 317.9,110.0 319.1,110.0 320.3,110.0 321.5,108.3 322.7,108.3 323.9,108.3 325.1,108.7 326.3,108.1 327.6,109.5 328.8,113.5 330.0,115.9 331.2,118.1 332.4,118.1 333.6,120.3 334.8,126.0 336.0,130.2 337.2,130.5 338.4,133.4 339.6,137.3 340.8,142.0 342.0,144.3 343.2,144.6 344.4,150.9 345.6,156.2 346.8,156.2 348.0,156.2 349.2,158.2 350.4,158.5 351.7,158.7 352.9,157.4 354.1,157.4 355.3,152.6 356.5,152.1 357.7,149.8 358.9,142.0 360.1,139.9 361.3,139.6 362.5,135.8 363.7,131.7 364.9,131.4 366.1,130.7 367.3,129.1 368.5,126.7 369.7,119.9 370.9,121.8 372.1,122.0 373.3,122.0 374.5,126.8 375.8,127.0 377.0,127.0 378.2,128.0 379.4,125.1 380.6,120.1 381.8,117.1 383.0,106.5 384.2,105.3 385.4,103.9 386.6,99.4 387.8,98.5 389.0,95.1 390.2,92.7 391.4,87.2 392.6,85.7 393.8,86.6 395.0,87.4 396.2,92.0 397.4,94.1 398.6,98.8 399.8,101.3 401.1,103.2 402.3,103.2 403.5,103.2 404.7,105.2 405.9,110.8 407.1,112.3 408.3,115.7 409.5,115.7 410.7,117.9 411.9,118.0 413.1,119.4 414.3,119.4 415.5,119.4 416.7,127.2 417.9,127.2 419.1,136.5 420.3,136.5 421.5,136.4 422.7,136.4 423.9,136.4 425.2,136.4 426.4,136.4 427.6,136.4 428.8,136.4 430.0,139.8 431.2,139.8 432.4,139.8 433.6,142.2 434.8,147.6 436.0,148.7 437.2,155.0 438.4,159.3 439.6,160.6 440.8,160.6 442.0,160.8 443.2,162.5 444.4,164.5 445.6,171.4 446.8,173.4 448.0,175.5 449.3,175.5 450.5,175.5 451.7,181.5 452.9,182.4 454.1,186.0 455.3,187.7 456.5,187.5 457.7,187.5 458.9,186.9 460.1,186.9 461.3,186.9 462.5,186.2 463.7,186.2 464.9,186.2 466.1,181.9 467.3,181.9 468.5,181.9 469.7,181.6 470.9,181.0 472.1,180.7 473.3,180.7 474.6,179.2 475.8,179.2 477.0,175.8 478.2,175.8 479.4,173.7 480.6,171.3 481.8,171.3 483.0,169.5 484.2,167.5 485.4,166.0 486.6,166.0 487.8,166.0 489.0,159.4 490.2,155.3 491.4,152.7 492.6,149.2 493.8,146.5 495.0,146.5 496.2,146.4 497.4,145.7 498.7,138.9 499.9,131.5 501.1,126.2 502.3,124.3 503.5,121.6 504.7,120.7 505.9,122.8 507.1,123.2 508.3,130.7 509.5,133.9 510.7,133.9 511.9,133.9 513.1,133.9 514.3,139.1 515.5,139.1 516.7,137.5 517.9,135.7 519.1,135.7 520.3,130.8 521.5,130.8 522.8,130.4 524.0,127.1 525.2,120.4 526.4,112.6 527.6,106.1 528.8,106.1 530.0,105.0 531.2,107.3 532.4,107.3 533.6,107.3 534.8,107.3 536.0,107.3 537.2,109.6 538.4,112.8 539.6,116.1 540.8,118.0 542.0,124.7 543.2,125.0 544.4,125.3 545.6,125.5 546.8,125.5 548.1,125.5 549.3,125.7 550.5,132.2 551.7,133.0 552.9,135.1 554.1,135.1 555.3,135.2 556.5,135.2 557.7,138.0 558.9,140.7 560.1,142.7 561.3,144.2 562.5,144.4 563.7,144.5 564.9,147.9 566.1,149.1 567.3,150.3 568.5,152.3 569.7,153.1 570.9,153.1 572.2,152.2 573.4,151.3 574.6,150.4 575.8,149.5 577.0,149.1 578.2,144.9 579.4,144.9 580.6,144.4 581.8,139.3 583.0,139.3 584.2,139.3 585.4,137.8 586.6,135.4 587.8,132.0 589.0,132.0 590.2,132.0 591.4,132.0 592.6,127.5 593.8,127.4 595.0,127.1 596.3,126.9 597.5,126.9 598.7,127.8 599.9,130.8 601.1,131.1 602.3,132.9 603.5,136.3 604.7,138.4 605.9,138.4 607.1,138.5 608.3,140.3 609.5,143.6 610.7,145.2 611.9,145.5 613.1,145.5 614.3,144.9 615.5,144.7 616.7,146.8 617.9,150.3 619.1,153.5 620.3,156.1 621.6,156.1 622.8,156.1 624.0,156.1 625.2,156.1 626.4,162.9 627.6,166.7 628.8,166.7 630.0,165.6 631.2,165.4 632.4,162.5 633.6,161.9 634.8,161.2 636.0,161.2 637.2,159.3 638.4,158.8 639.6,158.4 640.8,157.5 642.0,155.4 643.2,154.2 644.4,151.3 645.7,145.4 646.9,143.2 648.1,142.4 649.3,142.4 650.5,142.0 651.7,142.0 652.9,137.6 654.1,136.7 655.3,136.8 656.5,136.8 657.7,137.6 658.9,138.0 660.1,137.4 661.3,135.4 662.5,135.1 663.7,135.1 664.9,135.1 666.1,134.7 667.3,137.0 668.5,137.7 669.8,139.1 671.0,139.7 672.2,142.7 673.4,144.1 674.6,144.1 675.8,145.2 677.0,150.4 678.2,152.7 679.4,153.1 680.6,154.5 681.8,158.5 683.0,158.9 684.2,158.9 685.4,159.9 686.6,157.7 687.8,155.4 689.0,155.4 690.2,153.4 691.4,153.2 692.6,151.7 693.8,149.5 695.1,145.6 696.3,142.0 697.5,138.8 698.7,136.9 699.9,135.9 701.1,133.4 702.3,132.6 703.5,132.6 704.7,132.6 705.9,129.5 707.1,130.9 708.3,131.2 709.5,131.7 710.7,133.5 711.9,133.5 713.1,135.6 714.3,139.2 715.5,136.2 716.7,131.6 717.9,131.6 719.2,130.7 720.4,130.7 721.6,130.7 722.8,130.3 724.0,124.4 725.2,124.0 726.4,118.0 727.6,115.1 728.8,107.7 730.0,106.8 731.2,103.5 732.4,103.3 733.6,99.7 734.8,99.7 736.0,99.7 737.2,99.4 738.4,93.0 739.6,92.6 740.8,92.7 742.0,92.7 743.3,92.7 744.5,92.7 745.7,93.3 746.9,96.1 748.1,101.0 749.3,101.0 750.5,101.0 751.7,100.7 752.9,99.8 754.1,99.8 755.3,99.3 756.5,98.7 757.7,98.1 758.9,98.0 760.1,95.3 761.3,89.5 762.5,86.2 763.7,86.2 764.9,91.3 766.1,91.9 767.3,93.4 768.6,97.9 769.8,98.2 771.0,100.0 772.2,104.7 773.4,105.5 774.6,106.0 775.8,113.9 777.0,119.7 778.2,122.0 779.4,128.3 780.6,128.5 781.8,129.1 783.0,133.0 784.2,135.8 785.4,135.8 786.6,139.1 787.8,139.9 789.0,142.5 790.2,142.5 791.4,140.0 792.7,140.0 793.9,140.0 795.1,136.6 796.3,142.0 797.5,142.9 798.7,142.9 799.9,148.2" fill="none" stroke="#4caf50" stroke-width="2" stroke-linejoin="round" stroke-linecap="round"/>
<polyline points="7.0,195.1 8.3,203.2 9.5,206.2 10.7,207.9 11.9,206.3 13.1,195.3 14.3,193.1 15.5,187.5 16.7,193.3 17.9,191.9 19.1,185.2 20.3,184.9 21.5,182.2 22.7,182.6 23.9,189.8 25.1,197.4 26.3,202.0 27.5,205.6 28.7,212.0 29.9,230.8 31.1,243.2 32.4,247.7 33.6,257.1 34.8,267.0 36.0,267.9 37.2,270.9 38.4,268.2 39.6,257.1 40.8,244.0 42.0,239.8 43.2,239.7 44.4,244.1 45.6,245.0 46.8,250.8 48.0,248.6 49.2,242.4 50.4,239.7 51.6,242.7 52.8,236.4 54.0,243.3 55.2,237.2 56.4,242.9 57.7,239.3 58.9,239.0 60.1,231.6 61.3,225.4 62.5,223.5 63.7,228.6 64.9,240.1 66.1,245.0 67.3,255.6 68.5,264.6 69.7,276.1 70.9,278.9 72.1,279.9 73.3,279.5 74.5,282.5 75.7,278.4 76.9,273.3 78.1,267.6 79.3,278.2 80.5,283.3 81.8,286.9 83.0,289.3 84.2,276.7 85.4,274.1 86.6,273.2 87.8,265.9 89.0,263.4 90.2,273.0 91.4,278.9 92.6,275.3 93.8,271.8 95.0,274.6 96.2,286.5 97.4,300.1 98.6,304.5 99.8,315.9 101.0,335.1 102.2,336.1 103.4,312.3 104.6,305.5 105.8,302.0 107.1,300.3 108.3,288.1 109.5,293.0 110.7,304.0 111.9,314.7 113.1,321.4 114.3,322.5 115.5,321.3 116.7,314.7 117.9,305.8 119.1,300.9 120.3,303.9 121.5,307.0 122.7,302.7 123.9,297.6 125.1,292.4 126.3,273.9 127.5,266.9 128.7,275.9 129.9,283.7 131.2,289.9 132.4,296.5 133.6,305.3 134.8,309.2 136.0,302.1 137.2,277.9 138.4,271.2 139.6,262.0 140.8,241.7 142.0,223.3 143.2,214.4 144.4,211.6 145.6,214.6 146.8,221.1 148.0,227.4 149.2,232.5 150.4,219.2 151.6,211.5 152.8,209.9 154.0,213.3 155.3,216.9 156.5,206.8 157.7,199.6 158.9,194.1 160.1,196.0 161.3,199.6 162.5,189.8 163.7,183.2 164.9,184.1 166.1,182.9 167.3,176.5 168.5,165.1 169.7,161.9 170.9,166.3 172.1,173.0 173.3,178.2 174.5,174.8 175.7,174.3 176.9,174.6 178.1,172.9 179.3,176.2 180.6,172.5 181.8,168.9 183.0,167.0 184.2,165.7 185.4,170.8 186.6,178.6 187.8,185.4 189.0,178.9 190.2,166.7 191.4,157.1 192.6,151.6 193.8,144.3 195.0,138.2 196.2,141.5 197.4,145.8 198.6,141.3 199.8,137.4 201.0,134.6 202.2,131.9 203.4,129.4 204.7,131.4 205.9,133.3 207.1,126.5 208.3,128.1 209.5,129.4 210.7,121.6 211.9,114.8 213.1,122.8 214.3,132.2 215.5,156.0 216.7,157.1 217.9,157.3 219.1,156.4 220.3,154.5 221.5,160.1 222.7,164.8 223.9,159.9 225.1,160.9 226.3,164.5 227.5,163.5 228.8,160.3 230.0,169.1 231.2,176.2 232.4,181.9 233.6,180.9 234.8,177.1 236.0,173.2 237.2,169.3 238.4,171.5 239.6,176.7 240.8,170.3 242.0,163.3 243.2,171.0 244.4,178.3 245.6,168.8 246.8,160.0 248.0,165.6 249.2,168.5 250.4,158.3 251.6,146.1 252.8,136.8 254.1,140.1 255.3,144.0 256.5,149.3 257.7,150.4 258.9,141.3 260.1,133.4 261.3,132.5 262.5,126.5 263.7,122.3 264.9,125.7 266.1,125.0 267.3,119.9 268.5,117.0 269.7,112.3 270.9,107.6 272.1,107.6 273.3,115.0 274.5,118.0 275.7,114.3 276.9,114.1 278.2,117.8 279.4,112.8 280.6,107.7 281.8,105.7 283.0,108.1 284.2,111.3 285.4,110.7 286.6,109.0 287.8,109.4 289.0,105.6 290.2,102.6 291.4,107.0 292.6,108.3 293.8,109.6 295.0,113.0 296.2,115.9 297.4,124.5 298.6,131.8 299.8,133.7 301.0,133.6 302.3,137.2 303.5,147.5 304.7,146.2 305.9,145.7 307.1,147.5 308.3,151.1 309.5,155.3 310.7,157.5 311.9,156.4 313.1,152.6 314.3,156.1 315.5,156.3 316.7,159.7 317.9,159.9 319.1,158.7 320.3,154.8 321.5,150.7 322.7,149.8 323.9,150.4 325.1,146.7 326.3,139.7 327.6,126.5 328.8,122.9 330.0,120.5 331.2,116.6 332.4,117.7 333.6,121.7 334.8,123.1 336.0,121.8 337.2,123.3 338.4,123.0 339.6,129.3 340.8,130.1 342.0,131.2 343.2,134.7 344.4,131.0 345.6,127.6 346.8,120.7 348.0,113.9 349.2,108.4 350.4,101.0 351.7,75.3 352.9,73.8 354.1,74.5 355.3,76.3 356.5,86.0 357.7,91.0 358.9,95.8 360.1,97.5 361.3,99.8 362.5,97.8 363.7,104.4 364.9,107.6 366.1,107.2 367.3,112.4 368.5,111.8 369.7,112.9 370.9,115.5 372.1,112.8 373.3,113.6 374.5,117.9 375.8,119.4 377.0,123.9 378.2,124.3 379.4,130.2 380.6,130.2 381.8,128.2 383.0,132.4 384.2,135.0 385.4,133.4 386.6,131.2 387.8,133.3 389.0,130.7 390.2,126.4 391.4,129.0 392.6,134.1 393.8,137.0 395.0,142.1 396.2,146.9 397.4,150.2 398.6,154.8 399.8,152.3 401.1,153.8 402.3,156.0 403.5,159.9 404.7,164.9 405.9,169.2 407.1,167.4 408.3,165.1 409.5,165.6 410.7,167.3 411.9,170.8 413.1,174.2 414.3,181.8 415.5,183.0 416.7,186.2 417.9,187.8 419.1,188.5 420.3,191.1 421.5,193.5 422.7,193.0 423.9,187.7 425.2,179.5 426.4,177.4 427.6,182.8 428.8,180.7 430.0,176.8 431.2,177.5 432.4,180.2 433.6,187.2 434.8,183.5 436.0,179.7 437.2,180.6 438.4,173.3 439.6,171.1 440.8,176.6 442.0,176.7 443.2,171.3 444.4,178.1 445.6,179.1 446.8,171.6 448.0,167.6 449.3,160.0 450.5,161.4 451.7,161.5 452.9,153.3 454.1,157.3 455.3,162.5 456.5,160.2 457.7,147.2 458.9,140.4 460.1,134.9 461.3,129.2 462.5,126.5 463.7,129.4 464.9,127.1 466.1,125.6 467.3,120.2 468.5,120.1 469.7,116.3 470.9,113.5 472.1,121.2 473.3,125.4 474.6,131.2 475.8,135.0 477.0,145.8 478.2,148.2 479.4,150.0 480.6,149.6 481.8,145.9 483.0,139.9 484.2,129.2 485.4,118.3 486.6,115.1 487.8,117.6 489.0,113.7 490.2,110.9 491.4,113.3 492.6,105.7 493.8,98.3 495.0,97.8 496.2,104.4 497.4,111.0 498.7,110.0 499.9,118.6 501.1,119.8 502.3,119.1 503.5,122.2 504.7,119.4 505.9,119.4 507.1,117.8 508.3,121.3 509.5,125.2 510.7,130.0 511.9,132.4 513.1,134.2 514.3,134.2 515.5,132.3 516.7,132.3 517.9,134.1 519.1,135.6 520.3,134.1 521.5,135.4 522.8,138.0 524.0,140.3 525.2,141.8 526.4,146.6 527.6,152.5 528.8,148.7 530.0,148.8 531.2,148.1 532.4,150.0 533.6,153.8 534.8,158.2 536.0,153.0 537.2,150.9 538.4,148.4 539.6,145.7 540.8,144.4 542.0,144.4 543.2,141.5 544.4,140.1 545.6,139.6 546.8,138.6 548.1,141.2 549.3,144.4 550.5,136.8 551.7,134.4 552.9,133.9 554.1,131.1 555.3,125.9 556.5,122.0 557.7,123.1 558.9,122.1 560.1,121.9 561.3,128.2 562.5,130.3 563.7,132.6 564.9,129.8 566.1,126.1 567.3,133.7 568.5,140.9 569.7,142.0 570.9,142.3 572.2,145.7 573.4,148.8 574.6,147.4 575.8,151.7 577.0,146.3 578.2,140.5 579.4,141.7 580.6,139.7 581.8,137.3 583.0,137.6 584.2,147.9 585.4,157.5 586.6,163.0 587.8,171.0 589.0,174.3 590.2,170.0 591.4,168.4 592.6,168.1 593.8,163.2 595.0,161.0 596.3,161.1 597.5,157.1 598.7,158.4 599.9,158.5 601.1,163.2 602.3,164.7 603.5,158.2 604.7,154.8 605.9,150.9 607.1,151.8 608.3,148.4 609.5,149.7 610.7,145.5 611.9,141.9 613.1,137.4 614.3,133.0 615.5,133.6 616.7,137.4 617.9,136.8 619.1,136.7 620.3,138.9 621.6,139.3 622.8,137.5 624.0,138.1 625.2,139.0 626.4,139.1 627.6,136.9 628.8,133.1 630.0,128.6 631.2,129.7 632.4,129.8 633.6,129.9 634.8,138.5 636.0,146.2 637.2,148.4 638.4,146.5 639.6,150.6 640.8,158.0 642.0,154.8 643.2,157.0 644.4,155.5 645.7,155.9 646.9,159.3 648.1,158.6 649.3,162.4 650.5,164.2 651.7,161.4 652.9,158.2 654.1,154.4 655.3,150.5 656.5,148.5 657.7,145.6 658.9,141.7 660.1,140.6 661.3,139.1 662.5,138.7 663.7,134.2 664.9,131.2 666.1,128.0 667.3,127.0 668.5,123.4 669.8,124.5 671.0,126.2 672.2,130.0 673.4,133.0 674.6,135.5 675.8,138.0 677.0,136.9 678.2,138.9 679.4,141.8 680.6,142.3 681.8,141.6 683.0,138.5 684.2,127.7 685.4,120.3 686.6,119.6 687.8,123.9 689.0,122.9 690.2,120.6 691.4,114.7 692.6,112.8 693.8,110.2 695.1,116.6 696.3,101.9 697.5,92.2 698.7,86.9 699.9,85.0 701.1,85.3 702.3,81.4 703.5,84.1 704.7,86.8 705.9,94.7 707.1,99.8 708.3,103.6 709.5,103.5 710.7,99.4 711.9,95.1 713.1,94.7 714.3,101.3 715.5,105.5 716.7,109.6 717.9,107.8 719.2,99.7 720.4,92.7 721.6,91.3 722.8,88.1 724.0,87.1 725.2,85.7 726.4,86.7 727.6,86.2 728.8,83.6 730.0,84.0 731.2,85.7 732.4,88.5 733.6,101.9 734.8,105.1 736.0,107.4 737.2,116.9 738.4,116.9 739.6,116.1 740.8,122.6 742.0,123.2 743.3,123.1 744.5,127.8 745.7,130.7 746.9,135.3 748.1,140.0 749.3,134.6 750.5,142.5 751.7,145.9 752.9,148.3 754.1,141.0 755.3,145.9 756.5,143.1 757.7,142.6 758.9,136.3 760.1,131.7 761.3,140.0 762.5,132.7 763.7,124.2 764.9,157.1 766.1,145.1 767.3,158.6 768.6,170.3" fill="none" stroke="#ffffff" stroke-width="2.4" stroke-linejoin="round" stroke-linecap="round"/>
</g>
<path d="M7 170.3H970" stroke="#f23645" stroke-width="1" stroke-dasharray="1 2"/>
<g><rect x="793" y="363.8" width="19.5" height="16" rx="8" fill="#f23645"/><circle cx="800.8" cy="371.6" r="6.3" fill="#1e5bd6" stroke="#13172a" stroke-width="0.6"/><circle cx="800.8" cy="371.6" r="3.6" fill="none" stroke="#ffd600" stroke-width="0.8" stroke-dasharray="0.8 1.1"/></g>
<g clip-path="url(#cpr)">
<polyline points="7.0,489.4 8.3,488.3 9.5,486.7 10.7,485.3 11.9,486.0 13.1,486.7 14.3,487.6 15.5,487.2 16.7,486.0 17.9,482.6 19.1,479.7 20.3,476.5 21.5,473.2 22.7,469.2 23.9,466.5 25.1,463.6 26.3,460.6 27.5,457.7 28.7,454.2 29.9,451.0 31.1,447.7 32.4,444.1 33.6,441.2 34.8,440.1 36.0,438.3 37.2,437.6 38.4,438.5 39.6,440.9 40.8,443.6 42.0,446.0 43.2,448.8 44.4,450.5 45.6,452.6 46.8,453.5 48.0,454.2 49.2,455.7 50.4,456.2 51.6,456.7 52.8,456.9 54.0,457.1 55.2,456.2 56.4,455.3 57.7,454.7 58.9,454.0 60.1,453.7 61.3,455.3 62.5,457.4 63.7,460.1 64.9,462.7 66.1,465.7 67.3,469.2 68.5,472.6 69.7,475.9 70.9,478.4 72.1,479.0 73.3,479.2 74.5,479.1 75.7,479.3 76.9,478.8 78.1,477.7 79.3,476.2 80.5,474.2 81.8,471.5 83.0,468.5 84.2,465.2 85.4,462.5 86.6,459.3 87.8,457.6 89.0,456.7 90.2,456.0 91.4,454.4 92.6,452.1 93.8,449.9 95.0,448.2 96.2,447.3 97.4,447.2 98.6,448.0 99.8,449.3 101.0,451.7 102.2,453.4 103.4,456.0 104.6,458.2 105.8,461.1 107.1,462.9 108.3,465.0 109.5,466.8 110.7,469.4 111.9,471.9 113.1,473.6 114.3,475.3 115.5,474.5 116.7,473.3 117.9,471.5 119.1,469.2 120.3,466.3 121.5,463.9 122.7,461.8 123.9,460.6 125.1,459.2 126.3,458.6 127.5,458.2 128.7,458.2 129.9,458.3 131.2,458.7 132.4,461.4 133.6,464.3 134.8,464.8 136.0,465.6 137.2,466.3 138.4,466.8 139.6,465.7 140.8,464.9 142.0,465.6 143.2,466.4 144.4,466.6 145.6,466.0 146.8,465.3 148.0,463.5 149.2,460.2 150.4,456.5 151.6,455.4 152.8,454.9 154.0,454.4 155.3,453.2 156.5,452.9 157.7,451.4 158.9,448.6 160.1,446.3 161.3,444.3 162.5,442.5 163.7,441.0 164.9,440.8 166.1,441.4 167.3,442.1 168.5,440.8 169.7,439.1 170.9,437.3 172.1,435.0 173.3,432.3 174.5,430.5 175.7,429.1 176.9,426.9 178.1,424.9 179.3,423.0 180.6,420.9 181.8,417.8 183.0,414.3 184.2,410.9 185.4,409.3 186.6,408.3 187.8,407.2 189.0,406.8 190.2,406.8 191.4,406.9 192.6,407.8 193.8,408.0 195.0,407.4 196.2,406.7 197.4,405.7 198.6,404.8 199.8,403.7 201.0,402.4 202.2,402.3 203.4,402.3 204.7,403.7 205.9,404.8 207.1,406.2 208.3,407.7 209.5,408.3 210.7,410.2 211.9,411.9 213.1,413.0 214.3,414.2 215.5,415.5 216.7,417.7 217.9,421.2 219.1,424.2 220.3,425.9 221.5,426.0 222.7,426.1 223.9,425.8 225.1,425.0 226.3,424.2 227.5,422.8 228.8,422.3 230.0,421.8 231.2,421.0 232.4,420.4 233.6,419.1 234.8,416.6 236.0,414.0 237.2,412.6 238.4,411.4 239.6,410.9 240.8,410.7 242.0,410.6 243.2,410.3 244.4,410.8 245.6,411.7 246.8,414.9 248.0,418.4 249.2,421.9 250.4,425.6 251.6,429.2 252.8,432.8 254.1,436.1 255.3,439.3 256.5,442.6 257.7,446.0 258.9,449.8 260.1,453.4 261.3,456.9 262.5,460.1 263.7,461.4 264.9,462.5 266.1,463.2 267.3,463.5 268.5,463.8 269.7,463.6 270.9,463.4 272.1,463.4 273.3,462.3 274.5,461.6 275.7,461.9 276.9,461.5 278.2,459.5 279.4,457.6 280.6,455.6 281.8,453.1 283.0,449.9 284.2,446.5 285.4,444.1 286.6,442.0 287.8,440.0 289.0,438.6 290.2,437.6 291.4,435.1 292.6,432.0 293.8,429.6 295.0,427.7 296.2,425.9 297.4,423.7 298.6,421.9 299.8,421.1 301.0,420.5 302.3,419.1 303.5,417.8 304.7,416.3 305.9,415.3 307.1,414.5 308.3,414.4 309.5,414.9 310.7,415.4 311.9,415.5 313.1,415.0 314.3,415.6 315.5,417.1 316.7,418.3 317.9,419.5 319.1,421.2 320.3,422.3 321.5,422.6 322.7,423.3 323.9,424.2 325.1,425.2 326.3,425.9 327.6,427.4 328.8,430.6 330.0,434.4 331.2,437.5 332.4,439.6 333.6,442.3 334.8,446.4 336.0,450.3 337.2,454.1 338.4,458.3 339.6,461.8 340.8,465.6 342.0,469.7 343.2,473.0 344.4,474.9 345.6,476.3 346.8,476.7 348.0,477.3 349.2,478.0 350.4,478.4 351.7,477.0 352.9,475.1 354.1,473.7 355.3,472.1 356.5,469.9 357.7,466.4 358.9,461.3 360.1,456.2 361.3,452.2 362.5,447.3 363.7,442.9 364.9,438.6 366.1,435.0 367.3,431.2 368.5,428.5 369.7,426.4 370.9,425.4 372.1,424.3 373.3,423.8 374.5,425.1 375.8,426.8 377.0,428.1 378.2,429.0 379.4,429.6 380.6,429.5 381.8,428.7 383.0,426.2 384.2,424.1 385.4,421.6 386.6,419.4 387.8,417.6 389.0,416.0 390.2,415.2 391.4,413.5 392.6,413.1 393.8,412.9 395.0,414.0 396.2,416.2 397.4,418.7 398.6,422.0 399.8,426.4 401.1,430.8 402.3,435.5 403.5,439.7 404.7,442.0 405.9,445.0 407.1,447.2 408.3,449.9 409.5,452.1 410.7,455.4 411.9,457.6 413.1,458.8 414.3,460.7 415.5,462.4 416.7,463.8 417.9,464.8 419.1,465.8 420.3,466.6 421.5,466.8 422.7,466.6 423.9,467.0 425.2,467.0 426.4,467.6 427.6,467.9 428.8,468.3 430.0,469.9 431.2,470.5 432.4,471.1 433.6,472.0 434.8,473.9 436.0,475.6 437.2,478.1 438.4,480.6 439.6,482.0 440.8,482.8 442.0,483.7 443.2,484.5 444.4,485.1 445.6,486.2 446.8,486.6 448.0,487.9 449.3,488.8 450.5,489.2 451.7,489.5 452.9,489.6 454.1,489.6 455.3,489.3 456.5,487.9 457.7,486.3 458.9,485.4 460.1,483.5 461.3,481.4 462.5,478.5 463.7,475.9 464.9,474.0 466.1,471.6 467.3,469.2 468.5,466.3 469.7,462.2 470.9,457.8 472.1,455.2 473.3,454.6 474.6,453.2 475.8,452.0 477.0,451.4 478.2,450.0 479.4,448.8 480.6,446.6 481.8,443.6 483.0,441.0 484.2,438.1 485.4,436.1 486.6,436.1 487.8,435.9 489.0,433.9 490.2,431.3 491.4,429.6 492.6,426.6 493.8,423.1 495.0,421.0 496.2,418.8 497.4,417.7 498.7,415.8 499.9,414.8 501.1,414.2 502.3,412.6 503.5,411.3 504.7,410.8 505.9,412.0 507.1,413.6 508.3,416.6 509.5,420.0 510.7,423.7 511.9,427.2 513.1,430.1 514.3,432.7 515.5,434.8 516.7,435.2 517.9,435.9 519.1,437.1 520.3,436.7 521.5,435.9 522.8,434.7 524.0,433.0 525.2,429.6 526.4,426.0 527.6,423.4 528.8,421.3 530.0,419.9 531.2,419.6 532.4,420.4 533.6,422.0 534.8,424.0 536.0,425.4 537.2,427.5 538.4,429.3 539.6,431.3 540.8,434.1 542.0,438.0 543.2,442.1 544.4,445.3 545.6,447.8 546.8,449.8 548.1,450.9 549.3,452.3 550.5,453.8 551.7,454.8 552.9,456.6 554.1,458.5 555.3,460.7 556.5,462.3 557.7,464.2 558.9,466.2 560.1,466.9 561.3,467.6 562.5,468.3 563.7,469.8 564.9,471.5 566.1,473.4 567.3,473.4 568.5,473.8 569.7,473.6 570.9,472.4 572.2,471.0 573.4,469.8 574.6,467.1 575.8,463.5 577.0,461.2 578.2,458.3 579.4,456.5 580.6,454.9 581.8,451.4 583.0,447.3 584.2,445.1 585.4,442.3 586.6,439.2 587.8,436.3 589.0,433.9 590.2,431.3 591.4,429.4 592.6,428.9 593.8,428.9 595.0,429.7 596.3,429.5 597.5,427.8 598.7,429.0 599.9,431.1 601.1,432.7 602.3,435.1 603.5,438.4 604.7,442.4 605.9,445.7 607.1,449.7 608.3,452.6 609.5,453.7 610.7,454.5 611.9,454.2 613.1,454.2 614.3,454.8 615.5,455.7 616.7,456.8 617.9,458.3 619.1,460.1 620.3,461.8 621.6,462.3 622.8,463.3 624.0,463.2 625.2,463.4 626.4,464.4 627.6,464.9 628.8,465.5 630.0,465.9 631.2,467.0 632.4,467.2 633.6,466.3 634.8,464.3 636.0,461.5 637.2,458.0 638.4,455.5 639.6,452.3 640.8,450.0 642.0,447.7 643.2,445.1 644.4,442.5 645.7,440.0 646.9,437.4 648.1,435.5 649.3,432.5 650.5,429.8 651.7,428.4 652.9,427.3 654.1,426.4 655.3,425.1 656.5,424.6 657.7,424.2 658.9,424.1 660.1,424.0 661.3,423.3 662.5,423.7 663.7,423.9 664.9,423.7 666.1,425.3 667.3,427.9 668.5,430.0 669.8,432.2 671.0,435.2 672.2,439.0 673.4,442.0 674.6,444.9 675.8,447.9 677.0,451.2 678.2,455.4 679.4,459.0 680.6,463.5 681.8,467.8 683.0,469.4 684.2,469.3 685.4,468.5 686.6,467.0 687.8,465.1 689.0,462.1 690.2,459.0 691.4,455.5 692.6,452.2 693.8,449.2 695.1,445.3 696.3,441.1 697.5,435.8 698.7,430.4 699.9,425.8 701.1,422.2 702.3,419.0 703.5,417.8 704.7,417.3 705.9,417.7 707.1,419.2 708.3,420.2 709.5,422.4 710.7,424.4 711.9,426.9 713.1,429.4 714.3,432.1 715.5,433.1 716.7,433.7 717.9,433.9 719.2,435.2 720.4,435.0 721.6,433.9 722.8,431.7 724.0,429.3 725.2,427.1 726.4,425.4 727.6,422.4 728.8,418.9 730.0,415.4 731.2,412.0 732.4,410.6 733.6,409.5 734.8,409.2 736.0,408.4 737.2,408.7 738.4,409.6 739.6,411.8 740.8,413.7 742.0,415.4 743.3,415.4 744.5,416.6 745.7,419.4 746.9,422.7 748.1,426.8 749.3,430.6 750.5,433.5 751.7,435.2 752.9,436.0 754.1,435.9 755.3,435.3 756.5,434.0 757.7,432.8 758.9,432.2 760.1,431.7 761.3,431.0 762.5,429.7 763.7,428.6 764.9,428.8 766.1,429.3 767.3,431.2 768.6,434.5 769.8,438.2 771.0,441.9 772.2,446.0 773.4,450.3 774.6,454.7 775.8,459.3 777.0,464.4 778.2,469.8 779.4,475.2 780.6,479.1 781.8,481.6 783.0,483.9 784.2,486.1 785.4,486.3 786.6,486.7 787.8,486.9 789.0,486.4 790.2,484.9 791.4,482.8 792.7,481.1 793.9,478.3 795.1,474.4 796.3,472.5 797.5,470.7 798.7,469.1 799.9,467.8" fill="none" stroke="#f23645" stroke-width="1" stroke-linejoin="round" stroke-linecap="round"/>
<polyline points="7.0,469.2 8.3,478.0 9.5,475.8 10.7,473.6 11.9,477.1 13.1,479.4 14.3,491.5 15.5,484.6 16.7,479.0 17.9,456.9 19.1,466.7 20.3,448.8 21.5,451.8 22.7,436.0 23.9,431.3 25.1,438.5 26.3,433.6 27.5,433.1 28.7,427.6 29.9,434.5 31.1,446.1 32.4,434.3 33.6,438.2 34.8,441.5 36.0,440.9 37.2,438.8 38.4,464.3 39.6,469.6 40.8,469.2 42.0,472.1 43.2,473.7 44.4,456.2 45.6,456.5 46.8,448.2 48.0,455.4 49.2,455.0 50.4,444.7 51.6,448.5 52.8,444.0 54.0,442.2 55.2,450.9 56.4,457.3 57.7,460.6 58.9,462.3 60.1,469.4 61.3,479.2 62.5,485.6 63.7,486.1 64.9,492.5 66.1,496.7 67.3,493.8 68.5,495.9 69.7,490.4 70.9,476.5 72.1,460.3 73.3,459.7 74.5,458.4 75.7,465.3 76.9,462.7 78.1,463.7 79.3,465.4 80.5,457.4 81.8,455.2 83.0,454.6 84.2,447.4 85.4,457.9 86.6,445.9 87.8,452.8 89.0,447.5 90.2,450.1 91.4,436.6 92.6,432.9 93.8,432.0 95.0,439.8 96.2,452.4 97.4,455.3 98.6,467.2 99.8,472.2 101.0,480.7 102.2,481.6 103.4,482.9 104.6,483.8 105.8,488.1 107.1,474.6 108.3,465.8 109.5,459.5 110.7,468.4 111.9,474.0 113.1,476.5 114.3,479.1 115.5,455.8 116.7,455.6 117.9,455.9 119.1,448.6 120.3,442.9 121.5,450.5 122.7,458.7 123.9,456.8 125.1,446.9 126.3,450.2 127.5,463.3 128.7,474.5 129.9,477.1 131.2,485.0 132.4,494.1 133.6,495.7 134.8,463.4 136.0,459.3 137.2,453.0 138.4,457.4 139.6,442.8 140.8,446.2 142.0,456.0 143.2,461.9 144.4,465.6 145.6,466.5 146.8,467.2 148.0,459.3 149.2,448.6 150.4,443.9 151.6,448.5 152.8,451.2 154.0,446.7 155.3,440.3 156.5,439.1 157.7,424.3 158.9,417.7 160.1,430.0 161.3,436.6 162.5,441.3 163.7,446.6 164.9,456.4 166.1,456.7 167.3,454.2 168.5,429.6 169.7,427.8 170.9,421.3 172.1,408.6 173.3,401.9 174.5,399.0 175.7,397.7 176.9,399.2 178.1,407.8 179.3,414.6 180.6,417.9 181.8,412.3 183.0,408.0 184.2,407.2 185.4,407.4 186.6,412.7 187.8,406.3 189.0,403.7 190.2,401.0 191.4,401.0 192.6,410.0 193.8,402.7 195.0,399.3 196.2,404.7 197.4,403.3 198.6,399.6 199.8,392.3 201.0,390.2 202.2,404.8 203.4,413.6 204.7,425.6 205.9,419.6 207.1,419.5 208.3,422.6 209.5,418.5 210.7,428.8 211.9,423.4 213.1,420.0 214.3,420.9 215.5,416.7 216.7,424.0 217.9,439.1 219.1,446.9 220.3,436.9 221.5,426.8 222.7,420.7 223.9,415.8 225.1,410.8 226.3,407.1 227.5,409.7 228.8,416.9 230.0,412.2 231.2,409.9 232.4,408.6 233.6,406.3 234.8,404.3 236.0,409.5 237.2,417.8 238.4,409.5 239.6,414.2 240.8,413.3 242.0,408.6 243.2,402.9 244.4,417.4 245.6,428.7 246.8,457.2 248.0,458.7 249.2,457.9 250.4,458.2 251.6,454.3 252.8,460.4 254.1,464.7 255.3,454.3 256.5,459.1 257.7,462.1 258.9,461.1 260.1,454.0 261.3,466.5 262.5,472.3 263.7,476.3 264.9,473.2 266.1,468.3 267.3,462.9 268.5,457.3 269.7,457.5 270.9,462.4 272.1,454.1 273.3,443.4 274.5,453.5 275.7,464.4 276.9,449.3 278.2,438.7 279.4,444.5 280.6,448.5 281.8,438.5 283.0,423.5 284.2,415.8 285.4,423.8 286.6,427.6 287.8,434.4 289.0,434.8 290.2,429.1 291.4,418.3 292.6,421.4 293.8,414.7 295.0,412.8 296.2,419.2 297.4,418.2 298.6,412.6 299.8,412.4 301.0,408.0 302.3,404.5 303.5,408.1 304.7,413.7 305.9,421.2 307.1,418.2 308.3,416.1 309.5,429.0 310.7,421.7 311.9,413.9 313.1,413.1 314.3,426.1 315.5,434.1 316.7,429.1 317.9,423.7 319.1,428.4 320.3,423.5 321.5,418.7 322.7,430.7 323.9,430.2 325.1,431.0 326.3,438.2 327.6,443.5 328.8,458.6 330.0,465.6 331.2,469.3 332.4,464.3 333.6,466.4 334.8,481.9 336.0,482.7 337.2,476.3 338.4,476.9 339.6,479.6 340.8,483.7 342.0,488.2 343.2,485.6 344.4,470.0 345.6,477.6 346.8,471.3 348.0,477.1 349.2,474.3 350.4,472.0 351.7,463.1 352.9,454.9 354.1,457.5 355.3,454.9 356.5,448.1 357.7,435.1 358.9,416.4 360.1,415.0 361.3,413.2 362.5,409.1 363.7,410.4 364.9,416.0 366.1,424.5 367.3,418.8 368.5,425.1 369.7,426.1 370.9,442.5 372.1,439.8 373.3,440.7 374.5,454.0 375.8,439.4 377.0,433.2 378.2,426.2 379.4,417.6 380.6,409.1 381.8,404.2 383.0,390.2 384.2,388.9 385.4,390.7 386.6,394.3 387.8,417.6 389.0,418.2 390.2,429.0 391.4,429.8 392.6,434.1 393.8,429.8 395.0,442.4 396.2,447.8 397.4,444.4 398.6,449.9 399.8,452.5 401.1,450.2 402.3,456.4 403.5,453.6 404.7,449.6 405.9,461.0 407.1,458.7 408.3,467.6 409.5,465.6 410.7,475.5 411.9,474.2 413.1,463.9 414.3,470.8 415.5,474.1 416.7,472.1 417.9,464.2 419.1,470.7 420.3,464.0 421.5,452.7 422.7,458.0 423.9,464.9 425.2,467.6 426.4,474.0 427.6,479.6 428.8,480.1 430.0,485.9 431.2,478.9 432.4,482.5 433.6,485.5 434.8,490.7 436.0,493.6 437.2,498.8 438.4,488.3 439.6,478.1 440.8,476.3 442.0,479.4 443.2,486.0 444.4,487.3 445.6,495.5 446.8,492.2 448.0,495.9 449.3,496.0 450.5,490.6 451.7,495.2 452.9,495.4 454.1,497.8 455.3,484.2 456.5,459.1 457.7,453.9 458.9,466.2 460.1,460.2 461.3,457.1 462.5,454.9 463.7,456.6 464.9,468.9 466.1,462.6 467.3,457.2 468.5,453.7 469.7,439.0 470.9,436.0 472.1,446.8 473.3,450.9 474.6,434.5 475.8,449.6 477.0,451.2 478.2,438.0 479.4,438.4 480.6,424.9 481.8,427.6 483.0,426.7 484.2,415.8 485.4,425.5 486.6,439.1 487.8,433.5 489.0,419.4 490.2,413.7 491.4,411.0 492.6,407.2 493.8,403.0 495.0,408.6 496.2,407.3 497.4,409.1 498.7,400.9 499.9,413.5 501.1,407.5 502.3,402.9 503.5,420.6 504.7,425.8 505.9,436.4 507.1,436.5 508.3,453.6 509.5,453.7 510.7,455.8 511.9,457.4 513.1,448.1 514.3,444.6 515.5,430.6 516.7,419.7 517.9,417.5 519.1,419.3 520.3,415.3 521.5,414.4 522.8,419.3 524.0,412.2 525.2,406.0 526.4,404.3 527.6,418.9 528.8,428.1 530.0,427.7 531.2,441.6 532.4,440.7 533.6,442.8 534.8,445.7 536.0,439.1 537.2,443.8 538.4,439.5 539.6,447.9 540.8,451.9 542.0,460.2 543.2,461.6 544.4,464.3 545.6,462.7 546.8,455.1 548.1,457.7 549.3,459.9 550.5,463.6 551.7,460.6 552.9,464.0 554.1,470.3 555.3,470.5 556.5,469.4 557.7,479.3 558.9,488.2 560.1,470.6 561.3,474.2 562.5,472.8 563.7,476.5 564.9,481.2 566.1,485.7 567.3,464.7 568.5,465.4 569.7,461.7 570.9,454.0 572.2,449.7 573.4,453.3 574.6,441.9 575.8,437.6 577.0,437.4 578.2,434.5 579.4,446.7 580.6,454.7 581.8,431.7 583.0,428.2 584.2,434.2 585.4,426.1 586.6,418.8 587.8,412.9 589.0,416.7 590.2,416.5 591.4,415.0 592.6,431.5 593.8,437.0 595.0,446.4 596.3,443.2 597.5,431.4 598.7,448.5 599.9,456.6 601.1,457.5 602.3,458.8 603.5,465.5 604.7,469.3 605.9,462.7 607.1,472.3 608.3,456.0 609.5,445.8 610.7,448.7 611.9,442.5 613.1,442.8 614.3,439.7 615.5,461.2 616.7,472.6 617.9,478.6 619.1,484.2 620.3,488.2 621.6,477.0 622.8,476.5 624.0,470.7 625.2,459.5 626.4,458.9 627.6,455.9 628.8,450.6 630.0,449.5 631.2,454.0 632.4,464.5 633.6,460.0 634.8,450.5 636.0,445.8 637.2,437.9 638.4,442.0 639.6,433.0 640.8,438.0 642.0,426.6 643.2,422.8 644.4,420.4 645.7,414.4 646.9,413.7 648.1,427.0 649.3,422.9 650.5,422.6 651.7,430.3 652.9,430.5 654.1,425.1 655.3,424.2 656.5,426.4 657.7,431.8 658.9,425.1 660.1,421.4 661.3,411.3 662.5,419.9 663.7,416.7 664.9,424.0 666.1,445.3 667.3,458.1 668.5,460.7 669.8,461.4 671.0,466.8 672.2,476.9 673.4,468.0 674.6,473.1 675.8,466.3 677.0,467.7 678.2,470.0 679.4,470.6 680.6,480.0 681.8,483.9 683.0,467.6 684.2,456.4 685.4,450.3 686.6,440.5 687.8,439.7 689.0,435.7 690.2,424.3 691.4,423.7 692.6,419.9 693.8,425.8 695.1,415.3 696.3,412.3 697.5,405.8 698.7,407.8 699.9,403.3 701.1,406.6 702.3,406.0 703.5,422.9 704.7,433.4 705.9,440.4 707.1,446.4 708.3,437.4 709.5,450.2 710.7,453.7 711.9,450.7 713.1,447.5 714.3,443.8 715.5,421.1 716.7,411.5 717.9,410.2 719.2,423.7 720.4,419.7 721.6,418.8 722.8,409.2 724.0,412.3 725.2,406.4 726.4,427.3 727.6,411.0 728.8,401.5 730.0,398.9 731.2,396.6 732.4,401.0 733.6,396.1 734.8,405.4 736.0,413.1 737.2,424.4 738.4,431.5 739.6,440.1 740.8,438.0 742.0,430.6 743.3,427.1 744.5,428.2 745.7,440.3 746.9,444.9 748.1,454.1 749.3,454.1 750.5,437.5 751.7,429.4 752.9,424.2 754.1,422.7 755.3,423.3 756.5,421.8 757.7,420.6 758.9,423.0 760.1,419.0 761.3,418.7 762.5,422.7 763.7,429.8 764.9,456.1 766.1,460.9 767.3,464.2 768.6,476.0 769.8,476.0 771.0,474.0 772.2,481.6 773.4,482.3 774.6,481.8 775.8,487.2 777.0,490.2 778.2,494.5 779.4,498.5 780.6,483.5 781.8,490.9 783.0,493.8 784.2,495.7 785.4,477.5 786.6,482.5 787.8,476.2 789.0,475.1 790.2,461.2 791.4,452.4 792.7,464.0 793.9,451.2 795.1,438.8 796.3,472.5 797.5,458.2 798.7,468.2 799.9,475.4" fill="none" stroke="#4caf50" stroke-width="1" stroke-linejoin="round" stroke-linecap="round"/>
</g>
<g clip-path="url(#cpc)">
<path d="M11.9 554.0V553.9M13.1 554.0V553.6M17.9 554.0V552.5M19.1 554.0V552.1M20.3 554.0V549.6M21.5 554.0V548.5M22.7 554.0V545.6M23.9 554.0V543.3M25.1 554.0V543.1M26.3 554.0V542.7M28.7 554.0V542.4M51.6 554.0V552.9M52.8 554.0V552.0M54.0 554.0V551.6M73.3 554.0V553.8M74.5 554.0V551.5M75.7 554.0V550.1M76.9 554.0V549.5M79.3 554.0V549.7M80.5 554.0V548.9M81.8 554.0V548.1M84.2 554.0V547.7M86.6 554.0V548.1M91.4 554.0V548.8M92.6 554.0V548.0M93.8 554.0V547.4M116.7 554.0V553.1M117.9 554.0V551.9M119.1 554.0V550.3M120.3 554.0V549.2M138.4 554.0V553.5M139.6 554.0V551.0M140.8 554.0V549.9M148.0 554.0V553.8M149.2 554.0V552.4M150.4 554.0V551.0M151.6 554.0V550.3M152.8 554.0V550.3M154.0 554.0V549.9M155.3 554.0V549.3M156.5 554.0V548.3M157.7 554.0V546.0M158.9 554.0V544.2M168.5 554.0V553.1M169.7 554.0V550.9M170.9 554.0V548.8M172.1 554.0V545.9M173.3 554.0V542.5M174.5 554.0V540.1M175.7 554.0V539.2M189.0 554.0V552.6M190.2 554.0V552.2M193.8 554.0V553.5M195.0 554.0V553.1M198.6 554.0V553.3M199.8 554.0V552.6M201.0 554.0V552.2M225.1 554.0V553.4M226.3 554.0V551.8M227.5 554.0V551.6M231.2 554.0V552.4M232.4 554.0V552.3M233.6 554.0V552.3M243.2 554.0V553.5M273.3 554.0V552.9M274.5 554.0V552.8M276.9 554.0V552.7M278.2 554.0V551.4M279.4 554.0V551.3M281.8 554.0V550.6M283.0 554.0V549.1M284.2 554.0V547.4M285.4 554.0V546.9M290.2 554.0V549.6M291.4 554.0V549.3M292.6 554.0V549.1M293.8 554.0V548.8M295.0 554.0V548.4M301.0 554.0V549.7M302.3 554.0V549.5M352.9 554.0V553.2M354.1 554.0V552.1M355.3 554.0V551.6M356.5 554.0V550.8M357.7 554.0V549.7M358.9 554.0V547.8M360.1 554.0V546.4M361.3 554.0V545.6M362.5 554.0V545.0M379.4 554.0V553.1M380.6 554.0V552.1M381.8 554.0V550.7M383.0 554.0V547.2M384.2 554.0V545.4M385.4 554.0V544.8M422.7 554.0V553.9M456.5 554.0V552.5M457.7 554.0V551.2M458.9 554.0V550.6M460.1 554.0V550.1M461.3 554.0V549.3M462.5 554.0V549.1M467.3 554.0V550.3M469.7 554.0V549.9M470.9 554.0V549.5M474.6 554.0V550.1M478.2 554.0V551.3M479.4 554.0V550.6M480.6 554.0V549.7M481.8 554.0V549.5M484.2 554.0V549.1M489.0 554.0V550.2M490.2 554.0V549.2M491.4 554.0V548.3M492.6 554.0V547.4M493.8 554.0V547.2M517.9 554.0V553.3M519.1 554.0V552.5M520.3 554.0V551.8M521.5 554.0V551.2M524.0 554.0V550.8M525.2 554.0V550.0M526.4 554.0V549.8M569.7 554.0V554.0M570.9 554.0V553.0M572.2 554.0V552.3M573.4 554.0V551.7M574.6 554.0V551.2M575.8 554.0V550.9M577.0 554.0V550.7M578.2 554.0V550.6M581.8 554.0V551.2M583.0 554.0V550.9M584.2 554.0V550.7M585.4 554.0V550.5M586.6 554.0V550.0M587.8 554.0V549.6M614.3 554.0V553.5M628.8 554.0V553.4M630.0 554.0V552.9M631.2 554.0V552.3M634.8 554.0V552.2M636.0 554.0V551.4M637.2 554.0V550.6M638.4 554.0V550.3M639.6 554.0V549.9M642.0 554.0V549.9M643.2 554.0V549.6M644.4 554.0V549.0M645.7 554.0V548.4M660.1 554.0V553.8M661.3 554.0V553.2M662.5 554.0V553.0M686.6 554.0V553.7M687.8 554.0V552.6M689.0 554.0V551.6M690.2 554.0V550.8M691.4 554.0V550.2M692.6 554.0V549.9M693.8 554.0V549.8M695.1 554.0V549.5M696.3 554.0V549.2M697.5 554.0V549.0M698.7 554.0V549.0M699.9 554.0V548.9M716.7 554.0V553.5M717.9 554.0V552.4M719.2 554.0V552.3M721.6 554.0V552.1M722.8 554.0V551.7M724.0 554.0V551.2M725.2 554.0V550.9M727.6 554.0V550.6M728.8 554.0V549.4M730.0 554.0V548.3M731.2 554.0V547.9M755.3 554.0V553.8M756.5 554.0V553.3M757.7 554.0V553.3M758.9 554.0V553.2M760.1 554.0V553.1M790.2 554.0V553.6M791.4 554.0V552.1M792.7 554.0V552.0M793.9 554.0V551.1M795.1 554.0V549.7" stroke="#26a69a" stroke-width="0.85" fill="none"/>
<path d="M27.5 554.0V542.7M29.9 554.0V543.5M31.1 554.0V546.1M32.4 554.0V546.4M33.6 554.0V547.4M34.8 554.0V548.9M36.0 554.0V549.9M37.2 554.0V550.5M55.2 554.0V552.1M56.4 554.0V553.1M78.1 554.0V549.9M83.0 554.0V548.2M85.4 554.0V548.1M87.8 554.0V548.8M89.0 554.0V549.0M90.2 554.0V549.1M95.0 554.0V547.9M96.2 554.0V549.6M97.4 554.0V551.5M98.6 554.0V553.7M121.5 554.0V549.8M122.7 554.0V550.7M123.9 554.0V550.9M125.1 554.0V550.9M126.3 554.0V551.2M127.5 554.0V552.7M142.0 554.0V550.2M143.2 554.0V551.7M144.4 554.0V553.3M160.1 554.0V544.4M161.3 554.0V545.9M162.5 554.0V547.9M163.7 554.0V550.3M164.9 554.0V552.7M176.9 554.0V539.9M178.1 554.0V541.9M179.3 554.0V544.7M180.6 554.0V547.7M181.8 554.0V548.7M183.0 554.0V549.0M184.2 554.0V549.5M185.4 554.0V550.9M186.6 554.0V552.6M187.8 554.0V553.0M191.4 554.0V552.6M192.6 554.0V553.5M196.2 554.0V553.1M197.4 554.0V553.4M202.2 554.0V552.6M203.4 554.0V553.9M228.8 554.0V552.1M230.0 554.0V552.4M234.8 554.0V552.3M236.0 554.0V552.8M237.2 554.0V553.4M238.4 554.0V553.4M239.6 554.0V553.8M275.7 554.0V553.4M280.6 554.0V551.5M286.6 554.0V547.4M287.8 554.0V548.6M289.0 554.0V549.8M296.2 554.0V548.8M297.4 554.0V549.4M298.6 554.0V549.7M299.8 554.0V549.8M303.5 554.0V549.7M304.7 554.0V551.2M305.9 554.0V552.7M307.1 554.0V553.4M363.7 554.0V545.2M364.9 554.0V546.3M366.1 554.0V547.4M367.3 554.0V548.5M368.5 554.0V549.6M369.7 554.0V550.5M370.9 554.0V551.8M372.1 554.0V553.1M386.6 554.0V545.3M387.8 554.0V547.0M389.0 554.0V549.3M390.2 554.0V551.6M391.4 554.0V553.6M463.7 554.0V549.4M464.9 554.0V550.4M466.1 554.0V550.6M468.5 554.0V550.5M472.1 554.0V549.9M473.3 554.0V550.1M475.8 554.0V550.8M477.0 554.0V551.5M483.0 554.0V549.6M485.4 554.0V549.5M486.6 554.0V550.3M487.8 554.0V550.9M495.0 554.0V547.8M496.2 554.0V548.4M497.4 554.0V548.8M498.7 554.0V549.3M499.9 554.0V549.5M501.1 554.0V549.9M502.3 554.0V550.4M503.5 554.0V551.7M504.7 554.0V553.3M522.8 554.0V551.3M527.6 554.0V550.7M528.8 554.0V552.2M530.0 554.0V553.3M579.4 554.0V550.8M580.6 554.0V551.3M589.0 554.0V549.6M590.2 554.0V549.7M591.4 554.0V550.1M592.6 554.0V551.2M593.8 554.0V552.3M595.0 554.0V553.2M596.3 554.0V553.5M597.5 554.0V553.5M632.4 554.0V552.4M633.6 554.0V552.8M640.8 554.0V549.9M646.9 554.0V548.5M648.1 554.0V549.1M649.3 554.0V549.9M650.5 554.0V550.6M651.7 554.0V551.4M652.9 554.0V552.2M654.1 554.0V552.7M655.3 554.0V553.3M656.5 554.0V553.8M663.7 554.0V553.1M664.9 554.0V553.1M701.1 554.0V549.2M702.3 554.0V550.1M703.5 554.0V551.2M704.7 554.0V552.3M705.9 554.0V553.4M720.4 554.0V552.3M726.4 554.0V551.5M732.4 554.0V548.1M733.6 554.0V548.4M734.8 554.0V549.2M736.0 554.0V550.3M737.2 554.0V552.3M761.3 554.0V553.2M762.5 554.0V553.6M796.3 554.0V552.3M797.5 554.0V552.6" stroke="#b2dfdb" stroke-width="0.85" fill="none"/>
<path d="M7.0 554.0V557.5M8.3 554.0V556.7M9.5 554.0V555.6M10.7 554.0V554.4M16.7 554.0V555.1M43.2 554.0V561.7M44.4 554.0V560.4M45.6 554.0V558.8M46.8 554.0V557.1M48.0 554.0V556.2M49.2 554.0V555.2M50.4 554.0V554.1M68.5 554.0V564.9M69.7 554.0V563.5M70.9 554.0V560.8M72.1 554.0V557.2M104.6 554.0V560.8M105.8 554.0V560.4M107.1 554.0V559.4M108.3 554.0V558.0M109.5 554.0V556.0M110.7 554.0V555.7M111.9 554.0V555.7M115.5 554.0V554.5M134.8 554.0V560.7M136.0 554.0V558.1M137.2 554.0V555.8M213.1 554.0V558.4M214.3 554.0V557.8M215.5 554.0V557.6M221.5 554.0V558.9M222.7 554.0V556.9M223.9 554.0V555.1M242.0 554.0V554.2M251.6 554.0V562.7M255.3 554.0V562.2M256.5 554.0V561.3M257.7 554.0V560.8M258.9 554.0V560.0M260.1 554.0V559.0M261.3 554.0V558.8M264.9 554.0V559.8M266.1 554.0V558.9M267.3 554.0V557.7M268.5 554.0V556.1M269.7 554.0V555.4M270.9 554.0V555.3M272.1 554.0V554.4M311.9 554.0V555.0M313.1 554.0V554.7M314.3 554.0V554.7M320.3 554.0V555.7M321.5 554.0V555.4M336.0 554.0V561.9M337.2 554.0V561.4M338.4 554.0V560.9M339.6 554.0V560.7M340.8 554.0V560.5M342.0 554.0V560.1M343.2 554.0V559.3M344.4 554.0V558.2M345.6 554.0V557.4M346.8 554.0V556.8M348.0 554.0V556.4M349.2 554.0V556.0M350.4 554.0V555.4M351.7 554.0V554.4M377.0 554.0V555.3M378.2 554.0V554.4M403.5 554.0V559.7M404.7 554.0V559.4M405.9 554.0V559.2M407.1 554.0V559.1M409.5 554.0V559.1M411.9 554.0V559.1M413.1 554.0V558.7M414.3 554.0V558.5M415.5 554.0V558.3M416.7 554.0V557.8M417.9 554.0V557.0M419.1 554.0V556.4M420.3 554.0V555.5M421.5 554.0V554.5M431.2 554.0V557.2M432.4 554.0V557.0M433.6 554.0V556.7M434.8 554.0V556.6M438.4 554.0V556.9M439.6 554.0V556.3M440.8 554.0V555.8M442.0 554.0V555.4M443.2 554.0V555.1M450.5 554.0V556.2M451.7 554.0V556.0M452.9 554.0V555.9M454.1 554.0V555.4M455.3 554.0V554.2M513.1 554.0V561.2M514.3 554.0V559.9M515.5 554.0V557.8M516.7 554.0V555.3M537.2 554.0V557.8M538.4 554.0V557.5M539.6 554.0V557.5M545.6 554.0V559.1M546.8 554.0V558.7M548.1 554.0V558.2M549.3 554.0V557.8M550.5 554.0V557.5M551.7 554.0V557.0M552.9 554.0V556.5M554.1 554.0V556.3M560.1 554.0V557.3M561.3 554.0V556.8M562.5 554.0V556.2M563.7 554.0V555.8M564.9 554.0V555.8M567.3 554.0V555.7M568.5 554.0V554.9M608.3 554.0V557.8M609.5 554.0V556.5M610.7 554.0V555.7M611.9 554.0V555.0M613.1 554.0V554.0M621.6 554.0V559.2M622.8 554.0V558.6M624.0 554.0V557.9M625.2 554.0V556.8M626.4 554.0V555.5M627.6 554.0V554.6M674.6 554.0V558.9M675.8 554.0V558.5M677.0 554.0V558.1M678.2 554.0V558.0M679.4 554.0V557.6M680.6 554.0V557.4M681.8 554.0V557.2M683.0 554.0V556.7M684.2 554.0V555.9M685.4 554.0V554.8M714.3 554.0V556.6M715.5 554.0V555.2M743.3 554.0V557.4M744.5 554.0V557.1M749.3 554.0V558.8M750.5 554.0V557.9M751.7 554.0V556.5M752.9 554.0V555.6M754.1 554.0V554.6M773.4 554.0V560.9M774.6 554.0V560.5M775.8 554.0V560.3M777.0 554.0V560.2M778.2 554.0V560.1M780.6 554.0V559.3M781.8 554.0V559.2M783.0 554.0V559.1M784.2 554.0V558.9M785.4 554.0V557.6M786.6 554.0V557.0M787.8 554.0V556.0M789.0 554.0V555.1" stroke="#ffcdd2" stroke-width="0.85" fill="none"/>
<path d="M14.3 554.0V555.4M15.5 554.0V555.7M38.4 554.0V554.9M39.6 554.0V558.3M40.8 554.0V560.7M42.0 554.0V561.8M57.7 554.0V554.3M58.9 554.0V555.3M60.1 554.0V556.3M61.3 554.0V558.9M62.5 554.0V561.4M63.7 554.0V563.1M64.9 554.0V564.3M66.1 554.0V565.3M67.3 554.0V565.4M99.8 554.0V556.2M101.0 554.0V558.7M102.2 554.0V560.3M103.4 554.0V561.0M113.1 554.0V555.8M114.3 554.0V555.8M128.7 554.0V555.0M129.9 554.0V556.7M131.2 554.0V558.7M132.4 554.0V561.6M133.6 554.0V562.8M145.6 554.0V554.3M146.8 554.0V554.5M166.1 554.0V554.9M167.3 554.0V555.2M204.7 554.0V555.4M205.9 554.0V556.4M207.1 554.0V557.2M208.3 554.0V557.7M209.5 554.0V558.1M210.7 554.0V558.6M211.9 554.0V558.6M216.7 554.0V558.1M217.9 554.0V559.0M219.1 554.0V560.2M220.3 554.0V560.3M240.8 554.0V554.5M244.4 554.0V554.1M245.6 554.0V555.8M246.8 554.0V559.3M248.0 554.0V561.5M249.2 554.0V562.7M250.4 554.0V563.0M252.8 554.0V562.7M254.1 554.0V562.9M262.5 554.0V559.2M263.7 554.0V559.8M308.3 554.0V554.2M309.5 554.0V555.0M310.7 554.0V555.2M315.5 554.0V555.0M316.7 554.0V555.4M317.9 554.0V555.7M319.1 554.0V555.9M322.7 554.0V555.6M323.9 554.0V555.9M325.1 554.0V556.4M326.3 554.0V557.0M327.6 554.0V557.6M328.8 554.0V558.7M330.0 554.0V560.1M331.2 554.0V560.9M332.4 554.0V561.2M333.6 554.0V561.5M334.8 554.0V562.2M373.3 554.0V554.1M374.5 554.0V554.9M375.8 554.0V555.3M392.6 554.0V555.2M393.8 554.0V556.2M395.0 554.0V557.5M396.2 554.0V558.5M397.4 554.0V559.2M398.6 554.0V560.0M399.8 554.0V560.2M401.1 554.0V560.3M402.3 554.0V560.3M408.3 554.0V559.2M410.7 554.0V559.2M423.9 554.0V554.1M425.2 554.0V554.4M426.4 554.0V555.1M427.6 554.0V555.8M428.8 554.0V556.6M430.0 554.0V557.3M436.0 554.0V556.9M437.2 554.0V557.1M444.4 554.0V555.2M445.6 554.0V555.7M446.8 554.0V556.0M448.0 554.0V556.2M449.3 554.0V556.2M505.9 554.0V555.0M507.1 554.0V556.8M508.3 554.0V558.9M509.5 554.0V560.4M510.7 554.0V561.4M511.9 554.0V561.6M531.2 554.0V555.0M532.4 554.0V556.4M533.6 554.0V557.0M534.8 554.0V557.8M536.0 554.0V558.0M540.8 554.0V557.9M542.0 554.0V558.4M543.2 554.0V558.8M544.4 554.0V559.1M555.3 554.0V556.4M556.5 554.0V556.5M557.7 554.0V556.8M558.9 554.0V557.4M566.1 554.0V556.1M598.7 554.0V554.4M599.9 554.0V555.8M601.1 554.0V556.8M602.3 554.0V557.3M603.5 554.0V557.8M604.7 554.0V558.3M605.9 554.0V558.3M607.1 554.0V558.4M615.5 554.0V554.2M616.7 554.0V555.5M617.9 554.0V556.8M619.1 554.0V558.4M620.3 554.0V559.4M657.7 554.0V554.1M658.9 554.0V554.2M666.1 554.0V554.2M667.3 554.0V555.7M668.5 554.0V557.0M669.8 554.0V557.3M671.0 554.0V557.9M672.2 554.0V558.9M673.4 554.0V558.9M707.1 554.0V554.5M708.3 554.0V555.3M709.5 554.0V555.7M710.7 554.0V556.4M711.9 554.0V556.8M713.1 554.0V557.0M738.4 554.0V554.3M739.6 554.0V556.1M740.8 554.0V557.3M742.0 554.0V557.7M745.7 554.0V557.5M746.9 554.0V558.2M748.1 554.0V558.9M763.7 554.0V554.2M764.9 554.0V556.1M766.1 554.0V557.5M767.3 554.0V558.6M768.6 554.0V560.0M769.8 554.0V560.7M771.0 554.0V560.7M772.2 554.0V561.0M779.4 554.0V560.2M798.7 554.0V554.2M799.9 554.0V556.3" stroke="#ff5252" stroke-width="0.85" fill="none"/>
<polyline points="7.0,581.4 8.3,582.0 9.5,582.4 10.7,582.5 11.9,582.5 13.1,582.4 14.3,582.7 15.5,583.2 16.7,583.5 17.9,583.1 19.1,582.6 20.3,581.5 21.5,580.1 22.7,578.0 23.9,575.4 25.1,572.6 26.3,569.8 27.5,567.0 28.7,564.1 29.9,561.5 31.1,559.5 32.4,557.6 33.6,556.0 34.8,554.7 36.0,553.7 37.2,552.8 38.4,553.0 39.6,554.1 40.8,555.8 42.0,557.7 43.2,559.6 44.4,561.2 45.6,562.5 46.8,563.2 48.0,563.8 49.2,564.1 50.4,564.1 51.6,563.8 52.8,563.3 54.0,562.8 55.2,562.3 56.4,562.1 57.7,562.1 58.9,562.5 60.1,563.0 61.3,564.3 62.5,566.1 63.7,568.4 64.9,571.0 66.1,573.8 67.3,576.6 68.5,579.4 69.7,581.7 70.9,583.4 72.1,584.2 73.3,584.2 74.5,583.6 75.7,582.6 76.9,581.5 78.1,580.5 79.3,579.4 80.5,578.1 81.8,576.6 83.0,575.2 84.2,573.6 85.4,572.2 86.6,570.7 87.8,569.4 89.0,568.1 90.2,566.9 91.4,565.6 92.6,564.1 93.8,562.5 95.0,560.9 96.2,559.8 97.4,559.2 98.6,559.1 99.8,559.7 101.0,560.8 102.2,562.4 103.4,564.2 104.6,565.9 105.8,567.5 107.1,568.8 108.3,569.8 109.5,570.3 110.7,570.8 111.9,571.2 113.1,571.6 114.3,572.1 115.5,572.2 116.7,571.9 117.9,571.4 119.1,570.5 120.3,569.3 121.5,568.2 122.7,567.4 123.9,566.6 125.1,565.9 126.3,565.2 127.5,564.8 128.7,565.1 129.9,565.8 131.2,566.9 132.4,568.8 133.6,571.0 134.8,572.7 136.0,573.7 137.2,574.2 138.4,574.1 139.6,573.3 140.8,572.3 142.0,571.3 143.2,570.8 144.4,570.6 145.6,570.7 146.8,570.8 148.0,570.8 149.2,570.4 150.4,569.6 151.6,568.7 152.8,567.8 154.0,566.8 155.3,565.6 156.5,564.2 157.7,562.2 158.9,559.7 160.1,557.3 161.3,555.3 162.5,553.8 163.7,552.9 164.9,552.5 166.1,552.7 167.3,553.0 168.5,552.8 169.7,552.0 170.9,550.7 172.1,548.7 173.3,545.8 174.5,542.4 175.7,538.6 176.9,535.1 178.1,532.1 179.3,529.8 180.6,528.2 181.8,526.9 183.0,525.6 184.2,524.5 185.4,523.7 186.6,523.4 187.8,523.1 189.0,522.8 190.2,522.3 191.4,522.0 192.6,521.9 193.8,521.7 195.0,521.5 196.2,521.3 197.4,521.1 198.6,521.0 199.8,520.6 201.0,520.2 202.2,519.8 203.4,519.8 204.7,520.2 205.9,520.8 207.1,521.6 208.3,522.5 209.5,523.5 210.7,524.7 211.9,525.8 213.1,526.9 214.3,527.9 215.5,528.8 216.7,529.8 217.9,531.0 219.1,532.6 220.3,534.2 221.5,535.4 222.7,536.1 223.9,536.4 225.1,536.2 226.3,535.7 227.5,535.1 228.8,534.6 230.0,534.2 231.2,533.8 232.4,533.4 233.6,532.9 234.8,532.5 236.0,532.2 237.2,532.0 238.4,531.9 239.6,531.8 240.8,532.0 242.0,532.0 243.2,531.9 244.4,531.9 245.6,532.4 246.8,533.7 248.0,535.6 249.2,537.7 250.4,540.0 251.6,542.1 252.8,544.3 254.1,546.5 255.3,548.6 256.5,550.4 257.7,552.1 258.9,553.6 260.1,554.9 261.3,556.1 262.5,557.4 263.7,558.8 264.9,560.3 266.1,561.5 267.3,562.4 268.5,562.9 269.7,563.3 270.9,563.6 272.1,563.7 273.3,563.4 274.5,563.2 275.7,563.0 276.9,562.7 278.2,562.0 279.4,561.4 280.6,560.7 281.8,559.9 283.0,558.7 284.2,557.0 285.4,555.2 286.6,553.6 287.8,552.2 289.0,551.2 290.2,550.1 291.4,548.9 292.6,547.7 293.8,546.3 295.0,544.9 296.2,543.7 297.4,542.5 298.6,541.4 299.8,540.4 301.0,539.3 302.3,538.2 303.5,537.1 304.7,536.4 305.9,536.1 307.1,536.0 308.3,536.0 309.5,536.3 310.7,536.6 311.9,536.8 313.1,537.0 314.3,537.2 315.5,537.4 316.7,537.8 317.9,538.2 319.1,538.7 320.3,539.1 321.5,539.4 322.7,539.8 323.9,540.3 325.1,540.9 326.3,541.7 327.6,542.6 328.8,543.7 330.0,545.3 331.2,547.0 332.4,548.8 333.6,550.7 334.8,552.7 336.0,554.7 337.2,556.6 338.4,558.3 339.6,560.0 340.8,561.6 342.0,563.1 343.2,564.5 344.4,565.5 345.6,566.4 346.8,567.1 348.0,567.7 349.2,568.2 350.4,568.5 351.7,568.6 352.9,568.4 354.1,567.9 355.3,567.3 356.5,566.5 357.7,565.4 358.9,563.9 360.1,562.0 361.3,559.9 362.5,557.6 363.7,555.4 364.9,553.5 366.1,551.9 367.3,550.5 368.5,549.4 369.7,548.5 370.9,548.0 372.1,547.8 373.3,547.8 374.5,548.0 375.8,548.4 377.0,548.7 378.2,548.8 379.4,548.6 380.6,548.1 381.8,547.2 383.0,545.5 384.2,543.4 385.4,541.1 386.6,538.9 387.8,537.1 389.0,536.0 390.2,535.4 391.4,535.3 392.6,535.6 393.8,536.1 395.0,537.0 396.2,538.1 397.4,539.4 398.6,541.0 399.8,542.5 401.1,544.1 402.3,545.7 403.5,547.1 404.7,548.4 405.9,549.7 407.1,551.0 408.3,552.3 409.5,553.6 410.7,554.9 411.9,556.2 413.1,557.3 414.3,558.5 415.5,559.5 416.7,560.5 417.9,561.2 419.1,561.8 420.3,562.2 421.5,562.3 422.7,562.3 423.9,562.3 425.2,562.4 426.4,562.7 427.6,563.2 428.8,563.8 430.0,564.6 431.2,565.4 432.4,566.2 433.6,566.9 434.8,567.5 436.0,568.3 437.2,569.0 438.4,569.8 439.6,570.3 440.8,570.8 442.0,571.1 443.2,571.4 444.4,571.7 445.6,572.1 446.8,572.6 448.0,573.1 449.3,573.7 450.5,574.2 451.7,574.7 452.9,575.2 454.1,575.6 455.3,575.6 456.5,575.2 457.7,574.5 458.9,573.7 460.1,572.7 461.3,571.6 462.5,570.3 463.7,569.2 464.9,568.3 466.1,567.4 467.3,566.5 468.5,565.7 469.7,564.6 470.9,563.5 472.1,562.5 473.3,561.5 474.6,560.5 475.8,559.8 477.0,559.1 478.2,558.4 479.4,557.6 480.6,556.5 481.8,555.4 483.0,554.3 484.2,553.0 485.4,551.9 486.6,551.0 487.8,550.2 489.0,549.2 490.2,548.0 491.4,546.6 492.6,545.0 493.8,543.3 495.0,541.7 496.2,540.3 497.4,539.0 498.7,537.9 499.9,536.7 501.1,535.7 502.3,534.8 503.5,534.3 504.7,534.1 505.9,534.4 507.1,535.1 508.3,536.3 509.5,537.9 510.7,539.7 511.9,541.6 513.1,543.4 514.3,544.9 515.5,545.9 516.7,546.2 517.9,546.0 519.1,545.7 520.3,545.1 521.5,544.4 522.8,543.7 524.0,542.9 525.2,541.9 526.4,540.9 527.6,540.0 528.8,539.6 530.0,539.4 531.2,539.7 532.4,540.3 533.6,541.0 534.8,542.0 536.0,543.0 537.2,543.9 538.4,544.8 539.6,545.7 540.8,546.6 542.0,547.7 543.2,548.9 544.4,550.2 545.6,551.5 546.8,552.7 548.1,553.7 549.3,554.7 550.5,555.5 551.7,556.3 552.9,556.9 554.1,557.5 555.3,558.1 556.5,558.7 557.7,559.4 558.9,560.3 560.1,561.1 561.3,561.8 562.5,562.3 563.7,562.8 564.9,563.3 566.1,563.8 567.3,564.2 568.5,564.5 569.7,564.4 570.9,564.2 572.2,563.8 573.4,563.2 574.6,562.5 575.8,561.7 577.0,560.9 578.2,560.0 579.4,559.2 580.6,558.6 581.8,557.9 583.0,557.1 584.2,556.3 585.4,555.4 586.6,554.4 587.8,553.3 589.0,552.2 590.2,551.1 591.4,550.2 592.6,549.4 593.8,549.0 595.0,548.8 596.3,548.7 597.5,548.6 598.7,548.7 599.9,549.1 601.1,549.8 602.3,550.6 603.5,551.6 604.7,552.6 605.9,553.7 607.1,554.8 608.3,555.7 609.5,556.4 610.7,556.8 611.9,557.1 613.1,557.1 614.3,556.9 615.5,557.0 616.7,557.4 617.9,558.1 619.1,559.2 620.3,560.5 621.6,561.8 622.8,563.0 624.0,564.0 625.2,564.7 626.4,565.0 627.6,565.2 628.8,565.0 630.0,564.7 631.2,564.3 632.4,563.9 633.6,563.6 634.8,563.2 636.0,562.5 637.2,561.7 638.4,560.8 639.6,559.7 640.8,558.7 642.0,557.7 643.2,556.6 644.4,555.3 645.7,553.9 646.9,552.5 648.1,551.3 649.3,550.3 650.5,549.4 651.7,548.8 652.9,548.3 654.1,548.0 655.3,547.8 656.5,547.8 657.7,547.8 658.9,547.8 660.1,547.8 661.3,547.6 662.5,547.3 663.7,547.1 664.9,546.9 666.1,546.9 667.3,547.4 668.5,548.1 669.8,548.9 671.0,549.9 672.2,551.1 673.4,552.4 674.6,553.6 675.8,554.7 677.0,555.7 678.2,556.7 679.4,557.6 680.6,558.5 681.8,559.3 683.0,560.0 684.2,560.5 685.4,560.7 686.6,560.6 687.8,560.3 689.0,559.7 690.2,558.9 691.4,557.9 692.6,556.9 693.8,555.8 695.1,554.7 696.3,553.5 697.5,552.3 698.7,551.0 699.9,549.7 701.1,548.5 702.3,547.6 703.5,546.8 704.7,546.4 705.9,546.3 707.1,546.4 708.3,546.7 709.5,547.2 710.7,547.8 711.9,548.5 713.1,549.2 714.3,549.9 715.5,550.2 716.7,550.0 717.9,549.6 719.2,549.2 720.4,548.8 721.6,548.3 722.8,547.7 724.0,547.0 725.2,546.3 726.4,545.6 727.6,544.8 728.8,543.6 730.0,542.2 731.2,540.7 732.4,539.2 733.6,537.8 734.8,536.6 736.0,535.7 737.2,535.3 738.4,535.3 739.6,535.9 740.8,536.7 742.0,537.6 743.3,538.5 744.5,539.3 745.7,540.1 746.9,541.2 748.1,542.4 749.3,543.6 750.5,544.6 751.7,545.2 752.9,545.6 754.1,545.8 755.3,545.7 756.5,545.6 757.7,545.4 758.9,545.2 760.1,545.0 761.3,544.8 762.5,544.7 763.7,544.7 764.9,545.2 766.1,546.1 767.3,547.3 768.6,548.8 769.8,550.4 771.0,552.1 772.2,553.9 773.4,555.6 774.6,557.2 775.8,558.8 777.0,560.3 778.2,561.9 779.4,563.4 780.6,564.8 781.8,566.1 783.0,567.3 784.2,568.5 785.4,569.4 786.6,570.2 787.8,570.7 789.0,570.9 790.2,570.8 791.4,570.4 792.7,569.9 793.9,569.1 795.1,568.0 796.3,567.6 797.5,567.3 798.7,567.3 799.9,567.9" fill="none" stroke="#ff6d00" stroke-width="1" stroke-linejoin="round" stroke-linecap="round"/>
<polyline points="7.0,584.9 8.3,584.7 9.5,584.0 10.7,582.9 11.9,582.3 13.1,582.0 14.3,584.2 15.5,584.9 16.7,584.6 17.9,581.5 19.1,580.7 20.3,577.1 21.5,574.6 22.7,569.7 23.9,564.7 25.1,561.8 26.3,558.5 27.5,555.7 28.7,552.5 29.9,551.0 31.1,551.6 32.4,550.0 33.6,549.4 34.8,549.5 36.0,549.6 37.2,549.3 38.4,553.9 39.6,558.4 40.8,562.5 42.0,565.6 43.2,567.3 44.4,567.7 45.6,567.3 46.8,566.4 48.0,566.0 49.2,565.3 50.4,564.2 51.6,562.8 52.8,561.4 54.0,560.4 55.2,560.3 56.4,561.2 57.7,562.4 58.9,563.8 60.1,565.4 61.3,569.1 62.5,573.5 63.7,577.5 64.9,581.3 66.1,585.1 67.3,588.1 68.5,590.2 69.7,591.3 70.9,590.2 72.1,587.4 73.3,584.0 74.5,581.1 75.7,578.8 76.9,577.0 78.1,576.4 79.3,575.1 80.5,573.0 81.8,570.8 83.0,569.4 84.2,567.4 85.4,566.3 86.6,564.8 87.8,564.1 89.0,563.1 90.2,562.0 91.4,560.4 92.6,558.1 93.8,555.9 95.0,554.8 96.2,555.4 97.4,556.7 98.6,558.9 99.8,561.9 101.0,565.6 102.2,568.8 103.4,571.2 104.6,572.7 105.8,573.9 107.1,574.3 108.3,573.8 109.5,572.3 110.7,572.4 111.9,572.8 113.1,573.4 114.3,573.9 115.5,572.7 116.7,571.0 117.9,569.3 119.1,566.8 120.3,564.5 121.5,564.0 122.7,564.1 123.9,563.5 125.1,562.7 126.3,562.4 127.5,563.5 128.7,566.0 129.9,568.5 131.2,571.6 132.4,576.4 133.6,579.8 134.8,579.5 136.0,577.8 137.2,576.0 138.4,573.6 139.6,570.3 140.8,568.2 142.0,567.6 143.2,568.5 144.4,569.9 145.6,571.0 146.8,571.3 148.0,570.6 149.2,568.8 150.4,566.7 151.6,565.1 152.8,564.1 154.0,562.7 155.3,560.9 156.5,558.5 157.7,554.1 158.9,550.0 160.1,547.8 161.3,547.2 162.5,547.7 163.7,549.1 164.9,551.2 166.1,553.6 167.3,554.2 168.5,551.9 169.7,549.0 170.9,545.5 172.1,540.6 173.3,534.3 174.5,528.4 175.7,523.8 176.9,521.0 178.1,520.0 179.3,520.4 180.6,521.9 181.8,521.5 183.0,520.6 184.2,520.0 185.4,520.6 186.6,522.0 187.8,522.1 189.0,521.4 190.2,520.5 191.4,520.6 192.6,521.4 193.8,521.2 195.0,520.6 196.2,520.4 197.4,520.6 198.6,520.3 199.8,519.2 201.0,518.4 202.2,518.4 203.4,519.7 204.7,521.5 205.9,523.2 207.1,524.7 208.3,526.2 209.5,527.7 210.7,529.2 211.9,530.5 213.1,531.3 214.3,531.7 215.5,532.4 216.7,533.9 217.9,536.0 219.1,538.8 220.3,540.5 221.5,540.3 222.7,539.0 223.9,537.5 225.1,535.6 226.3,533.5 227.5,532.6 228.8,532.7 230.0,532.6 231.2,532.2 232.4,531.7 233.6,531.2 234.8,530.8 236.0,531.0 237.2,531.4 238.4,531.3 239.6,531.6 240.8,532.5 242.0,532.2 243.2,531.4 244.4,532.1 245.6,534.2 246.8,539.0 248.0,543.0 249.2,546.4 250.4,549.0 251.6,550.8 252.8,553.0 254.1,555.4 255.3,556.8 256.5,557.7 257.7,558.9 258.9,559.7 260.1,559.8 261.3,560.9 262.5,562.6 263.7,564.6 264.9,566.0 266.1,566.4 267.3,566.1 268.5,565.1 269.7,564.6 270.9,564.9 272.1,564.1 273.3,562.4 274.5,562.0 275.7,562.4 276.9,561.4 278.2,559.5 279.4,558.6 280.6,558.3 281.8,556.5 283.0,553.8 284.2,550.5 285.4,548.1 286.6,547.0 287.8,546.8 289.0,546.9 290.2,545.7 291.4,544.2 292.6,542.7 293.8,541.1 295.0,539.3 296.2,538.5 297.4,537.9 298.6,537.2 299.8,536.2 301.0,535.0 302.3,533.7 303.5,532.8 304.7,533.7 305.9,534.8 307.1,535.4 308.3,536.2 309.5,537.3 310.7,537.7 311.9,537.8 313.1,537.7 314.3,537.8 315.5,538.4 316.7,539.1 317.9,539.9 319.1,540.6 320.3,540.8 321.5,540.8 322.7,541.4 323.9,542.2 325.1,543.3 326.3,544.6 327.6,546.2 328.8,548.5 330.0,551.4 331.2,553.9 332.4,556.0 333.6,558.2 334.8,560.9 336.0,562.6 337.2,564.0 338.4,565.2 339.6,566.6 340.8,568.1 342.0,569.2 343.2,569.8 344.4,569.8 345.6,569.8 346.8,569.9 348.0,570.0 349.2,570.1 350.4,569.9 351.7,569.0 352.9,567.6 354.1,566.0 355.3,564.9 356.5,563.3 357.7,561.2 358.9,557.7 360.1,554.4 361.3,551.4 362.5,548.6 363.7,546.7 364.9,545.9 366.1,545.3 367.3,545.1 368.5,545.0 369.7,545.0 370.9,545.8 372.1,546.8 373.3,547.9 374.5,549.0 375.8,549.7 377.0,549.9 378.2,549.1 379.4,547.7 380.6,546.1 381.8,543.9 383.0,538.7 384.2,534.7 385.4,531.9 386.6,530.2 387.8,530.1 389.0,531.3 390.2,533.0 391.4,534.9 392.6,536.8 393.8,538.4 395.0,540.5 396.2,542.7 397.4,544.6 398.6,547.0 399.8,548.7 401.1,550.4 402.3,552.0 403.5,552.8 404.7,553.8 405.9,554.9 407.1,556.2 408.3,557.5 409.5,558.7 410.7,560.2 411.9,561.3 413.1,562.0 414.3,562.9 415.5,563.9 416.7,564.3 417.9,564.3 419.1,564.2 420.3,563.7 421.5,562.8 422.7,562.2 423.9,562.4 425.2,562.8 426.4,563.7 427.6,565.0 428.8,566.4 430.0,567.9 431.2,568.7 432.4,569.1 433.6,569.6 434.8,570.2 436.0,571.2 437.2,572.2 438.4,572.6 439.6,572.7 440.8,572.6 442.0,572.5 443.2,572.5 444.4,572.8 445.6,573.8 446.8,574.6 448.0,575.3 449.3,575.9 450.5,576.4 451.7,576.7 452.9,577.2 454.1,577.0 455.3,575.8 456.5,573.8 457.7,571.7 458.9,570.3 460.1,568.9 461.3,566.9 462.5,565.5 463.7,564.6 464.9,564.7 466.1,564.1 467.3,562.9 468.5,562.2 469.7,560.6 470.9,559.0 472.1,558.3 473.3,557.7 474.6,556.7 475.8,556.6 477.0,556.6 478.2,555.7 479.4,554.1 480.6,552.2 481.8,550.8 483.0,549.9 484.2,548.2 485.4,547.4 486.6,547.2 487.8,547.1 489.0,545.4 490.2,543.3 491.4,540.9 492.6,538.4 493.8,536.5 495.0,535.6 496.2,534.7 497.4,533.9 498.7,533.1 499.9,532.3 501.1,531.6 502.3,531.3 503.5,532.0 504.7,533.4 505.9,535.4 507.1,537.9 508.3,541.1 509.5,544.3 510.7,547.1 511.9,549.3 513.1,550.7 514.3,550.8 515.5,549.7 516.7,547.5 517.9,545.3 519.1,544.2 520.3,543.0 521.5,541.6 522.8,541.0 524.0,539.7 525.2,537.9 526.4,536.7 527.6,536.7 528.8,537.8 530.0,538.7 531.2,540.7 532.4,542.6 533.6,544.0 534.8,545.7 536.0,546.9 537.2,547.8 538.4,548.3 539.6,549.2 540.8,550.5 542.0,552.1 543.2,553.8 544.4,555.3 545.6,556.6 546.8,557.4 548.1,557.9 549.3,558.5 550.5,559.1 551.7,559.2 552.9,559.4 554.1,559.8 555.3,560.5 556.5,561.2 557.7,562.3 558.9,563.7 560.1,564.3 561.3,564.6 562.5,564.6 563.7,564.6 564.9,565.1 566.1,565.9 567.3,566.0 568.5,565.4 569.7,564.4 570.9,563.2 572.2,562.1 573.4,560.9 574.6,559.7 575.8,558.6 577.0,557.6 578.2,556.6 579.4,556.0 580.6,555.9 581.8,555.1 583.0,554.0 584.2,553.0 585.4,551.9 586.6,550.5 587.8,548.9 589.0,547.8 590.2,546.9 591.4,546.2 592.6,546.6 593.8,547.3 595.0,548.0 596.3,548.2 597.5,548.1 598.7,549.0 599.9,550.9 601.1,552.6 602.3,553.9 603.5,555.3 604.7,556.9 605.9,558.0 607.1,559.2 608.3,559.5 609.5,558.9 610.7,558.5 611.9,558.0 613.1,557.1 614.3,556.5 615.5,557.2 616.7,558.9 617.9,560.9 619.1,563.6 620.3,565.9 621.6,567.1 622.8,567.5 624.0,567.9 625.2,567.4 626.4,566.5 627.6,565.8 628.8,564.4 630.0,563.6 631.2,562.7 632.4,562.3 633.6,562.4 634.8,561.4 636.0,560.0 637.2,558.3 638.4,557.0 639.6,555.7 640.8,554.7 642.0,553.5 643.2,552.1 644.4,550.3 645.7,548.3 646.9,547.0 648.1,546.4 649.3,546.1 650.5,546.0 651.7,546.2 652.9,546.5 654.1,546.7 655.3,547.1 656.5,547.6 657.7,547.9 658.9,548.0 660.1,547.6 661.3,546.8 662.5,546.3 663.7,546.2 664.9,546.0 666.1,547.1 667.3,549.1 668.5,551.1 669.8,552.2 671.0,553.8 672.2,556.0 673.4,557.3 674.6,558.5 675.8,559.3 677.0,559.8 678.2,560.8 679.4,561.3 680.6,561.9 681.8,562.5 683.0,562.7 684.2,562.4 685.4,561.5 686.6,560.3 687.8,558.9 689.0,557.3 690.2,555.6 691.4,554.2 692.6,552.8 693.8,551.6 695.1,550.2 696.3,548.7 697.5,547.3 698.7,546.0 699.9,544.6 701.1,543.8 702.3,543.6 703.5,544.0 704.7,544.7 705.9,545.7 707.1,546.9 708.3,548.0 709.5,548.9 710.7,550.1 711.9,551.3 713.1,552.2 714.3,552.5 715.5,551.3 716.7,549.5 717.9,548.1 719.2,547.5 720.4,547.1 721.6,546.5 722.8,545.4 724.0,544.2 725.2,543.2 726.4,543.2 727.6,541.4 728.8,539.0 730.0,536.5 731.2,534.6 732.4,533.3 733.6,532.2 734.8,531.8 736.0,532.0 737.2,533.5 738.4,535.7 739.6,537.9 740.8,540.0 742.0,541.3 743.3,541.9 744.5,542.4 745.7,543.6 746.9,545.4 748.1,547.3 749.3,548.4 750.5,548.5 751.7,547.8 752.9,547.3 754.1,546.4 755.3,545.6 756.5,544.9 757.7,544.7 758.9,544.4 760.1,544.1 761.3,544.0 762.5,544.2 763.7,544.9 764.9,547.3 766.1,549.6 767.3,551.8 768.6,554.8 769.8,557.1 771.0,558.8 772.2,560.9 773.4,562.5 774.6,563.7 775.8,565.1 777.0,566.5 778.2,568.0 779.4,569.7 780.6,570.1 781.8,571.2 783.0,572.4 784.2,573.4 785.4,573.0 786.6,573.1 787.8,572.7 789.0,572.0 790.2,570.5 791.4,568.5 792.7,567.8 793.9,566.2 795.1,563.7 796.3,565.9 797.5,565.9 798.7,567.6 799.9,570.2" fill="none" stroke="#4caf50" stroke-width="1" stroke-linejoin="round" stroke-linecap="round"/>
</g>
<text x="7.5" y="13.0" fill="#d1d4dc" font-size="9" text-anchor="start" stroke="#d1d4dc" stroke-width="0.25" textLength="250.2" lengthAdjust="spacingAndGlyphs">TradersMBA published on TradingView.com, Nov 11, 2024 16:02 UTC</text>
<text x="12.7" y="31.6" fill="#d1d4dc" font-size="8.7" text-anchor="start" stroke="#d1d4dc" stroke-width="0.25" textLength="131.3" lengthAdjust="spacingAndGlyphs">Euro / U.S. Dollar, 1D, CAPITALCOM</text>
<text x="148.9" y="31.6" fill="#d1d4dc" font-size="8.7" text-anchor="start" stroke="#d1d4dc" stroke-width="0.25">O</text>
<text x="155.0" y="31.6" fill="#f23645" font-size="8.7" text-anchor="start" stroke="#f23645" stroke-width="0.25" textLength="28.8" lengthAdjust="spacingAndGlyphs">1.07068</text>
<text x="189.0" y="31.6" fill="#d1d4dc" font-size="8.7" text-anchor="start" stroke="#d1d4dc" stroke-width="0.25">H</text>
<text x="195.5" y="31.6" fill="#f23645" font-size="8.7" text-anchor="start" stroke="#f23645" stroke-width="0.25" textLength="27.2" lengthAdjust="spacingAndGlyphs">1.07276</text>
<text x="228.2" y="31.6" fill="#d1d4dc" font-size="8.7" text-anchor="start" stroke="#d1d4dc" stroke-width="0.25">L</text>
<text x="234.0" y="31.6" fill="#f23645" font-size="8.7" text-anchor="start" stroke="#f23645" stroke-width="0.25" textLength="27.0" lengthAdjust="spacingAndGlyphs">1.06284</text>
<text x="266.2" y="31.6" fill="#d1d4dc" font-size="8.7" text-anchor="start" stroke="#d1d4dc" stroke-width="0.25">C</text>
<text x="272.3" y="31.6" fill="#f23645" font-size="8.7" text-anchor="start" stroke="#f23645" stroke-width="0.25" textLength="28.0" lengthAdjust="spacingAndGlyphs">1.06474</text>
<text x="305.8" y="31.6" fill="#f23645" font-size="8.7" text-anchor="start" stroke="#f23645" stroke-width="0.25" textLength="66.6" lengthAdjust="spacingAndGlyphs">−0.00706 (−0.66%)</text>
<text x="377.9" y="31.6" fill="#d1d4dc" font-size="8.7" text-anchor="start" stroke="#d1d4dc" stroke-width="0.25" textLength="10.6" lengthAdjust="spacingAndGlyphs">Vol</text>
<text x="389.1" y="31.6" fill="#f23645" font-size="8.7" text-anchor="start" stroke="#f23645" stroke-width="0.25" textLength="30.4" lengthAdjust="spacingAndGlyphs">53.903 K</text>
<text x="425.4" y="31.6" fill="#f23645" font-size="8.7" text-anchor="start" stroke="#f23645" stroke-width="0.25" textLength="66.3" lengthAdjust="spacingAndGlyphs">−0.00706 (−0.66%)</text>
<text x="12.7" y="43.2" fill="#d1d4dc" font-size="8.7" text-anchor="start" stroke="#d1d4dc" stroke-width="0.25" textLength="10.3" lengthAdjust="spacingAndGlyphs">Vol</text>
<text x="28.9" y="43.2" fill="#f23645" font-size="8.7" text-anchor="start" stroke="#f23645" stroke-width="0.25" textLength="30.7" lengthAdjust="spacingAndGlyphs">53.903 K</text>
<text x="12.7" y="54.9" fill="#d1d4dc" font-size="8.7" text-anchor="start" stroke="#d1d4dc" stroke-width="0.25" textLength="88.5" lengthAdjust="spacingAndGlyphs">Ichimoku (9, 26, 52, 26)</text>
<text x="107.0" y="54.9" fill="#4caf50" font-size="8.7" text-anchor="start" stroke="#4caf50" stroke-width="0.25" textLength="28.2" lengthAdjust="spacingAndGlyphs">1.07827</text>
<text x="141.0" y="54.9" fill="#f23645" font-size="8.7" text-anchor="start" stroke="#f23645" stroke-width="0.25" textLength="27.9" lengthAdjust="spacingAndGlyphs">1.08127</text>
<text x="175.2" y="54.9" fill="#ffffff" font-size="8.7" text-anchor="start" stroke="#ffffff" stroke-width="0.25" textLength="28.5" lengthAdjust="spacingAndGlyphs">1.06474</text>
<text x="209.9" y="54.9" fill="#1b5e20" font-size="8.7" text-anchor="start" stroke="#1b5e20" stroke-width="0.25" textLength="26.9" lengthAdjust="spacingAndGlyphs">1.07977</text>
<text x="243.3" y="54.9" fill="#880e4f" font-size="8.7" text-anchor="start" stroke="#880e4f" stroke-width="0.25" textLength="27.6" lengthAdjust="spacingAndGlyphs">1.09211</text>
<text x="12.7" y="66.6" fill="#d1d4dc" font-size="8.7" text-anchor="start" stroke="#d1d4dc" stroke-width="0.25" textLength="56.0" lengthAdjust="spacingAndGlyphs">SMA (50, close)</text>
<text x="74.6" y="66.6" fill="#2962ff" font-size="8.7" text-anchor="start" stroke="#2962ff" stroke-width="0.25" textLength="27.9" lengthAdjust="spacingAndGlyphs">1.09652</text>
<text x="12.7" y="78.3" fill="#d1d4dc" font-size="8.7" text-anchor="start" stroke="#d1d4dc" stroke-width="0.25" textLength="60.0" lengthAdjust="spacingAndGlyphs">SMA (200, close)</text>
<text x="79.1" y="78.3" fill="#9c27b0" font-size="8.7" text-anchor="start" stroke="#9c27b0" stroke-width="0.25" textLength="27.9" lengthAdjust="spacingAndGlyphs">1.08678</text>
<text x="12.6" y="394.2" fill="#d1d4dc" font-size="8.7" text-anchor="start" stroke="#d1d4dc" stroke-width="0.25" textLength="96.8" lengthAdjust="spacingAndGlyphs">RSI (14, close, SMA, 14, 2)</text>
<text x="115.0" y="394.2" fill="#4caf50" font-size="8.7" text-anchor="start" stroke="#4caf50" stroke-width="0.25" textLength="19.6" lengthAdjust="spacingAndGlyphs">34.01</text>
<text x="140.3" y="394.2" fill="#f23645" font-size="8.7" text-anchor="start" stroke="#f23645" stroke-width="0.25" textLength="19.6" lengthAdjust="spacingAndGlyphs">38.95</text>
<text x="166.3" y="394.2" fill="#d1d4dc" font-size="8.7" text-anchor="start" stroke="#d1d4dc" stroke-width="0.25">ø</text>
<text x="175.9" y="394.2" fill="#d1d4dc" font-size="8.7" text-anchor="start" stroke="#d1d4dc" stroke-width="0.25">ø</text>
<text x="12.2" y="523.0" fill="#d1d4dc" font-size="8.7" text-anchor="start" stroke="#d1d4dc" stroke-width="0.25" textLength="76.8" lengthAdjust="spacingAndGlyphs">MACD (12, 26, close)</text>
<text x="94.4" y="523.0" fill="#f23645" font-size="8.7" text-anchor="start" stroke="#f23645" stroke-width="0.25" textLength="33.3" lengthAdjust="spacingAndGlyphs">−0.00089</text>
<text x="132.9" y="523.0" fill="#4caf50" font-size="8.7" text-anchor="start" stroke="#4caf50" stroke-width="0.25" textLength="33.5" lengthAdjust="spacingAndGlyphs">−0.00600</text>
<text x="171.8" y="523.0" fill="#ff6d00" font-size="8.7" text-anchor="start" stroke="#ff6d00" stroke-width="0.25" textLength="31.6" lengthAdjust="spacingAndGlyphs">−0.00511</text>
<text x="976.5" y="50.5" fill="#b2b5be" font-size="8.8" text-anchor="start" stroke="#b2b5be" stroke-width="0.25" textLength="28.7" lengthAdjust="spacingAndGlyphs">1.14000</text>
<text x="976.5" y="83.1" fill="#b2b5be" font-size="8.8" text-anchor="start" stroke="#b2b5be" stroke-width="0.25" textLength="28.7" lengthAdjust="spacingAndGlyphs">1.12000</text>
<text x="976.5" y="115.7" fill="#b2b5be" font-size="8.8" text-anchor="start" stroke="#b2b5be" stroke-width="0.25" textLength="28.7" lengthAdjust="spacingAndGlyphs">1.10000</text>
<text x="976.5" y="148.3" fill="#b2b5be" font-size="8.8" text-anchor="start" stroke="#b2b5be" stroke-width="0.25" textLength="28.7" lengthAdjust="spacingAndGlyphs">1.08000</text>
<text x="976.5" y="180.9" fill="#b2b5be" font-size="8.8" text-anchor="start" stroke="#b2b5be" stroke-width="0.25" textLength="28.7" lengthAdjust="spacingAndGlyphs">1.06000</text>
<text x="976.5" y="213.5" fill="#b2b5be" font-size="8.8" text-anchor="start" stroke="#b2b5be" stroke-width="0.25" textLength="28.7" lengthAdjust="spacingAndGlyphs">1.04000</text>
<text x="976.5" y="246.1" fill="#b2b5be" font-size="8.8" text-anchor="start" stroke="#b2b5be" stroke-width="0.25" textLength="28.7" lengthAdjust="spacingAndGlyphs">1.02000</text>
<text x="976.5" y="278.7" fill="#b2b5be" font-size="8.8" text-anchor="start" stroke="#b2b5be" stroke-width="0.25" textLength="28.7" lengthAdjust="spacingAndGlyphs">1.00000</text>
<text x="976.5" y="311.3" fill="#b2b5be" font-size="8.8" text-anchor="start" stroke="#b2b5be" stroke-width="0.25" textLength="28.7" lengthAdjust="spacingAndGlyphs">0.98000</text>
<text x="976.5" y="343.9" fill="#b2b5be" font-size="8.8" text-anchor="start" stroke="#b2b5be" stroke-width="0.25" textLength="28.7" lengthAdjust="spacingAndGlyphs">0.96000</text>
<text x="976.5" y="376.5" fill="#b2b5be" font-size="8.8" text-anchor="start" stroke="#b2b5be" stroke-width="0.25" textLength="28.7" lengthAdjust="spacingAndGlyphs">0.94000</text>
<text x="976.5" y="387.4" fill="#b2b5be" font-size="8.8" text-anchor="start" stroke="#b2b5be" stroke-width="0.25" textLength="20.4" lengthAdjust="spacingAndGlyphs">80.00</text>
<text x="976.5" y="428.4" fill="#b2b5be" font-size="8.8" text-anchor="start" stroke="#b2b5be" stroke-width="0.25" textLength="20.4" lengthAdjust="spacingAndGlyphs">60.00</text>
<text x="976.5" y="469.4" fill="#b2b5be" font-size="8.8" text-anchor="start" stroke="#b2b5be" stroke-width="0.25" textLength="20.4" lengthAdjust="spacingAndGlyphs">40.00</text>
<text x="976.5" y="510.4" fill="#b2b5be" font-size="8.8" text-anchor="start" stroke="#b2b5be" stroke-width="0.25" textLength="20.4" lengthAdjust="spacingAndGlyphs">20.00</text>
<text x="976.5" y="530.4" fill="#b2b5be" font-size="8.8" text-anchor="start" stroke="#b2b5be" stroke-width="0.25" textLength="28.7" lengthAdjust="spacingAndGlyphs">0.01000</text>
<rect x="972.8" y="21.5" width="41.8" height="18.2" rx="2.5" fill="#131722" stroke="#2a2e39"/>
<text x="978.8" y="33.8" fill="#d1d4dc" font-size="9" text-anchor="start" stroke="#d1d4dc" stroke-width="0.25" textLength="15.0" lengthAdjust="spacingAndGlyphs">USD</text>
<rect x="971" y="70" width="45" height="107" fill="#131722"/>
<rect x="935.7" y="72.4" width="34.0" height="11.2" fill="#2962ff"/>
<text x="967.6" y="81.1" fill="#ffffff" font-size="8.8" text-anchor="end" stroke="#ffffff" stroke-width="0.25" textLength="29.0" lengthAdjust="spacingAndGlyphs">SMA:MA</text>
<rect x="970.8" y="72.4" width="38.6" height="11.2" fill="#2962ff"/>
<text x="976.5" y="81.1" fill="#ffffff" font-size="8.8" text-anchor="start" stroke="#ffffff" stroke-width="0.25" textLength="28.7" lengthAdjust="spacingAndGlyphs">1.09652</text>
<rect x="872.0" y="84.2" width="97.7" height="10.7" fill="#880e4f"/>
<text x="967.6" y="92.7" fill="#ffffff" font-size="8.8" text-anchor="end" stroke="#ffffff" stroke-width="0.25" textLength="91.6" lengthAdjust="spacingAndGlyphs">Ichimoku:Leading Span B</text>
<rect x="970.8" y="84.2" width="38.6" height="10.7" fill="#880e4f"/>
<text x="976.5" y="92.7" fill="#ffffff" font-size="8.8" text-anchor="start" stroke="#ffffff" stroke-width="0.25" textLength="28.7" lengthAdjust="spacingAndGlyphs">1.09211</text>
<rect x="935.7" y="96.0" width="34.0" height="10.9" fill="#9c27b0"/>
<text x="967.6" y="104.5" fill="#ffffff" font-size="8.8" text-anchor="end" stroke="#ffffff" stroke-width="0.25" textLength="29.0" lengthAdjust="spacingAndGlyphs">SMA:MA</text>
<rect x="970.8" y="96.0" width="38.6" height="10.9" fill="#9c27b0"/>
<text x="976.5" y="104.5" fill="#ffffff" font-size="8.8" text-anchor="start" stroke="#ffffff" stroke-width="0.25" textLength="28.7" lengthAdjust="spacingAndGlyphs">1.08678</text>
<rect x="892.9" y="107.5" width="76.8" height="11.4" fill="#f23645"/>
<text x="967.6" y="116.3" fill="#ffffff" font-size="8.8" text-anchor="end" stroke="#ffffff" stroke-width="0.25" textLength="70.9" lengthAdjust="spacingAndGlyphs">Ichimoku:Base Line</text>
<rect x="970.8" y="107.5" width="38.6" height="11.4" fill="#f23645"/>
<text x="976.5" y="116.3" fill="#ffffff" font-size="8.8" text-anchor="start" stroke="#ffffff" stroke-width="0.25" textLength="28.7" lengthAdjust="spacingAndGlyphs">1.08127</text>
<rect x="872.0" y="119.3" width="97.7" height="10.9" fill="#1b5e20"/>
<text x="967.6" y="127.8" fill="#ffffff" font-size="8.8" text-anchor="end" stroke="#ffffff" stroke-width="0.25" textLength="92.0" lengthAdjust="spacingAndGlyphs">Ichimoku:Leading Span A</text>
<rect x="970.8" y="119.3" width="38.6" height="10.9" fill="#1b5e20"/>
<text x="976.5" y="127.8" fill="#ffffff" font-size="8.8" text-anchor="start" stroke="#ffffff" stroke-width="0.25" textLength="28.7" lengthAdjust="spacingAndGlyphs">1.07977</text>
<rect x="869.1" y="131.3" width="100.6" height="11.6" fill="#4caf50"/>
<text x="967.6" y="140.2" fill="#ffffff" font-size="8.8" text-anchor="end" stroke="#ffffff" stroke-width="0.25" textLength="94.5" lengthAdjust="spacingAndGlyphs">Ichimoku:Conversion Line</text>
<rect x="970.8" y="131.3" width="38.6" height="11.6" fill="#4caf50"/>
<text x="976.5" y="140.2" fill="#ffffff" font-size="8.8" text-anchor="start" stroke="#ffffff" stroke-width="0.25" textLength="28.7" lengthAdjust="spacingAndGlyphs">1.07827</text>
<rect x="935.0" y="143.0" width="34.7" height="11.6" fill="#f23645"/>
<text x="967.6" y="151.9" fill="#ffffff" font-size="8.8" text-anchor="end" stroke="#ffffff" stroke-width="0.25" textLength="29.0" lengthAdjust="spacingAndGlyphs">EURUSD</text>
<rect x="970.8" y="143.0" width="41.2" height="21.0" fill="#f23645"/>
<text x="976.5" y="151.9" fill="#ffffff" font-size="8.8" text-anchor="start" stroke="#ffffff" stroke-width="0.25" textLength="28.7" lengthAdjust="spacingAndGlyphs">1.06474</text>
<text x="976.5" y="161.3" fill="#ffffff" font-size="8.8" text-anchor="start" stroke="#ffffff" stroke-width="0.25" textLength="31.1" lengthAdjust="spacingAndGlyphs">05:57:32</text>
<rect x="880.0" y="163.9" width="89.7" height="11.9" fill="#ffffff"/>
<text x="967.6" y="173.0" fill="#131722" font-size="8.8" text-anchor="end" stroke="#131722" stroke-width="0.25" textLength="83.7" lengthAdjust="spacingAndGlyphs">Ichimoku:Lagging Span</text>
<rect x="970.8" y="163.9" width="38.6" height="11.9" fill="#ffffff"/>
<text x="976.5" y="173.0" fill="#131722" font-size="8.8" text-anchor="start" stroke="#131722" stroke-width="0.25" textLength="28.7" lengthAdjust="spacingAndGlyphs">1.06474</text>
<rect x="937.0" y="363.3" width="32.7" height="11.4" fill="#ef5350"/>
<text x="967.6" y="372.1" fill="#ffffff" font-size="8.8" text-anchor="end" stroke="#ffffff" stroke-width="0.25" textLength="26.8" lengthAdjust="spacingAndGlyphs">Volume</text>
<rect x="970.8" y="363.3" width="40.0" height="11.4" fill="#ef5350"/>
<text x="976.5" y="372.1" fill="#ffffff" font-size="8.8" text-anchor="start" stroke="#ffffff" stroke-width="0.25" textLength="30.7" lengthAdjust="spacingAndGlyphs">53.903 K</text>
<rect x="915.7" y="462.0" width="54.0" height="11.6" fill="#f23645"/>
<text x="967.6" y="470.9" fill="#ffffff" font-size="8.8" text-anchor="end" stroke="#ffffff" stroke-width="0.25" textLength="49.3" lengthAdjust="spacingAndGlyphs">RSI-based MA</text>
<rect x="970.8" y="462.0" width="29.5" height="11.6" fill="#f23645"/>
<text x="976.5" y="470.9" fill="#ffffff" font-size="8.8" text-anchor="start" stroke="#ffffff" stroke-width="0.25" textLength="20.5" lengthAdjust="spacingAndGlyphs">38.95</text>
<rect x="953.0" y="474.0" width="16.7" height="11.3" fill="#4caf50"/>
<text x="967.6" y="482.8" fill="#ffffff" font-size="8.8" text-anchor="end" stroke="#ffffff" stroke-width="0.25" textLength="10.6" lengthAdjust="spacingAndGlyphs">RSI</text>
<rect x="970.8" y="474.0" width="29.5" height="11.3" fill="#4caf50"/>
<text x="976.5" y="482.8" fill="#ffffff" font-size="8.8" text-anchor="start" stroke="#ffffff" stroke-width="0.25" textLength="20.5" lengthAdjust="spacingAndGlyphs">34.01</text>
<rect x="926.9" y="549.6" width="42.8" height="11.1" fill="#ff5252"/>
<text x="967.6" y="558.3" fill="#ffffff" font-size="8.8" text-anchor="end" stroke="#ffffff" stroke-width="0.25" textLength="37.0" lengthAdjust="spacingAndGlyphs">Histogram</text>
<rect x="970.8" y="549.6" width="42.7" height="11.1" fill="#ff5252"/>
<text x="976.5" y="558.3" fill="#ffffff" font-size="8.8" text-anchor="start" stroke="#ffffff" stroke-width="0.25" textLength="33.5" lengthAdjust="spacingAndGlyphs">−0.00089</text>
<rect x="942.8" y="560.7" width="26.9" height="11.8" fill="#ff6d00"/>
<text x="967.6" y="569.7" fill="#ffffff" font-size="8.8" text-anchor="end" stroke="#ffffff" stroke-width="0.25" textLength="21.8" lengthAdjust="spacingAndGlyphs">Signal</text>
<rect x="970.8" y="560.7" width="42.7" height="11.8" fill="#ff6d00"/>
<text x="976.5" y="569.7" fill="#ffffff" font-size="8.8" text-anchor="start" stroke="#ffffff" stroke-width="0.25" textLength="33.5" lengthAdjust="spacingAndGlyphs">−0.00511</text>
<rect x="943.1" y="572.5" width="26.6" height="12.0" fill="#5db761"/>
<text x="967.6" y="581.6" fill="#131722" font-size="8.8" text-anchor="end" stroke="#131722" stroke-width="0.25" textLength="19.8" lengthAdjust="spacingAndGlyphs">MACD</text>
<rect x="970.8" y="572.5" width="42.7" height="12.0" fill="#5db761"/>
<text x="976.5" y="581.6" fill="#131722" font-size="8.8" text-anchor="start" stroke="#131722" stroke-width="0.25" textLength="33.5" lengthAdjust="spacingAndGlyphs">−0.00600</text>
<text x="57.5" y="611.0" fill="#b2b5be" font-size="8.8" text-anchor="middle" stroke="#b2b5be" stroke-width="0.25" textLength="10.2" lengthAdjust="spacingAndGlyphs">Jul</text>
<text x="136.5" y="611.0" fill="#b2b5be" font-size="8.8" text-anchor="middle" stroke="#b2b5be" stroke-width="0.25" textLength="12.4" lengthAdjust="spacingAndGlyphs">Oct</text>
<text x="215.5" y="611.0" fill="#d1d4dc" font-size="8.8" text-anchor="middle" font-weight="bold" textLength="17.8" lengthAdjust="spacingAndGlyphs">2023</text>
<text x="294.5" y="611.0" fill="#b2b5be" font-size="8.8" text-anchor="middle" stroke="#b2b5be" stroke-width="0.25" textLength="12.4" lengthAdjust="spacingAndGlyphs">Apr</text>
<text x="372.5" y="611.0" fill="#b2b5be" font-size="8.8" text-anchor="middle" stroke="#b2b5be" stroke-width="0.25" textLength="10.2" lengthAdjust="spacingAndGlyphs">Jul</text>
<text x="451.5" y="611.0" fill="#b2b5be" font-size="8.8" text-anchor="middle" stroke="#b2b5be" stroke-width="0.25" textLength="12.4" lengthAdjust="spacingAndGlyphs">Oct</text>
<text x="528.5" y="611.0" fill="#d1d4dc" font-size="8.8" text-anchor="middle" font-weight="bold" textLength="17.8" lengthAdjust="spacingAndGlyphs">2024</text>
<text x="606.5" y="611.0" fill="#b2b5be" font-size="8.8" text-anchor="middle" stroke="#b2b5be" stroke-width="0.25" textLength="12.4" lengthAdjust="spacingAndGlyphs">Apr</text>
<text x="685.0" y="611.0" fill="#b2b5be" font-size="8.8" text-anchor="middle" stroke="#b2b5be" stroke-width="0.25" textLength="10.2" lengthAdjust="spacingAndGlyphs">Jul</text>
<text x="764.5" y="611.0" fill="#b2b5be" font-size="8.8" text-anchor="middle" stroke="#b2b5be" stroke-width="0.25" textLength="12.4" lengthAdjust="spacingAndGlyphs">Oct</text>
<text x="844.5" y="611.0" fill="#d1d4dc" font-size="8.8" text-anchor="middle" font-weight="bold" textLength="17.8" lengthAdjust="spacingAndGlyphs">2025</text>
<text x="922.0" y="611.0" fill="#b2b5be" font-size="8.8" text-anchor="middle" stroke="#b2b5be" stroke-width="0.25" textLength="12.4" lengthAdjust="spacingAndGlyphs">Apr</text>
<g fill="#d1d4dc"><path d="M7 626h6v7h-3v-4h-3z"/><circle cx="14.6" cy="627.5" r="1.5"/><path d="M17 626h3.4l-3.2 7h-3.2z"/></g>
<text x="23.0" y="633.2" fill="#d1d4dc" font-size="9.6" text-anchor="start" stroke="#d1d4dc" stroke-width="0.25" textLength="48.2" lengthAdjust="spacingAndGlyphs">TradingView</text></svg>
</body></html>
